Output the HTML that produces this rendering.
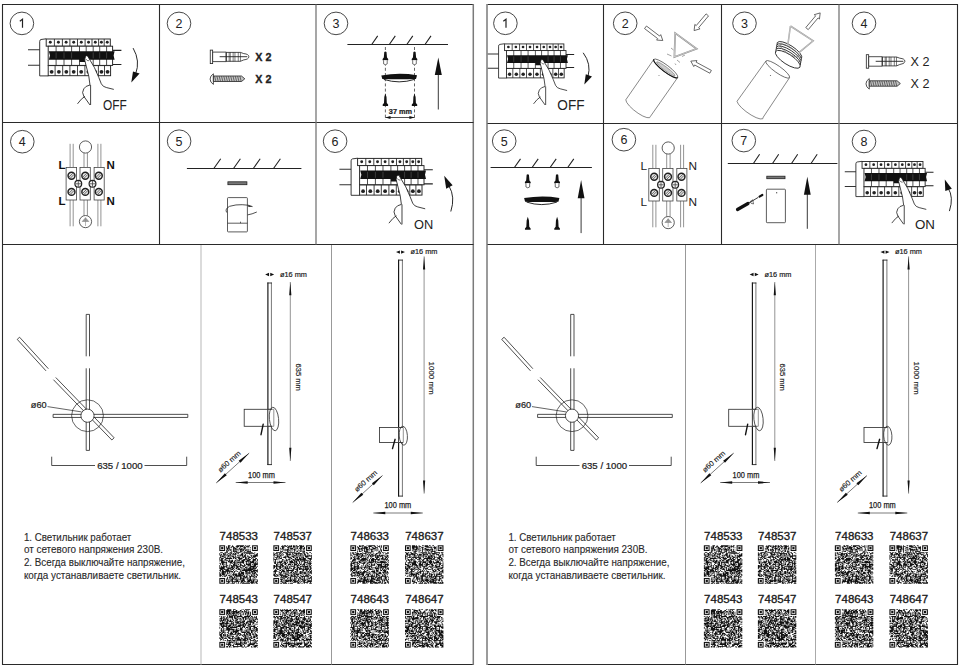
<!DOCTYPE html>
<html><head><meta charset="utf-8">
<style>html,body{margin:0;padding:0;background:#fff;width:960px;height:668px;overflow:hidden}svg{display:block;font-family:"Liberation Sans",sans-serif}</style></head><body>
<svg font-family="Liberation Sans, sans-serif" width="960" height="668" viewBox="0 0 960 668">
<defs>
<g id="brk"><path d="M-11.4,10.4H0.8M-11.4,25.9H0.8" stroke="#333" stroke-width="1.1" fill="none"/>
<path d="M73.2,11H82M73.2,25.1H82" stroke="#222" stroke-width="1.1" fill="none"/>
<path d="M6.8,-0.6L1.6,0.1Q0.3,0.4 0.3,2V36.5H9" fill="#fff" stroke="#222" stroke-width="0.9"/>
<rect x="6.8" y="-0.4" width="64.1" height="7.2" fill="#fff" stroke="#222" stroke-width="0.95"/>
<path d="M15,-0.4V6.8" stroke="#222" stroke-width="0.85"/>
<path d="M23,-0.4V6.8" stroke="#222" stroke-width="0.85"/>
<path d="M30.5,-0.4V6.8" stroke="#222" stroke-width="0.85"/>
<path d="M38.1,-0.4V6.8" stroke="#222" stroke-width="0.85"/>
<path d="M45.7,-0.4V6.8" stroke="#222" stroke-width="0.85"/>
<path d="M52.6,-0.4V6.8" stroke="#222" stroke-width="0.85"/>
<path d="M59.2,-0.4V6.8" stroke="#222" stroke-width="0.85"/>
<path d="M64.8,-0.4V6.8" stroke="#222" stroke-width="0.85"/>
<circle cx="10.9" cy="2.9" r="1.45" fill="#222"/>
<circle cx="19" cy="2.9" r="1.45" fill="#222"/>
<circle cx="26.75" cy="2.9" r="1.45" fill="#222"/>
<circle cx="34.3" cy="2.9" r="1.45" fill="#222"/>
<circle cx="41.9" cy="2.9" r="1.45" fill="#222"/>
<circle cx="49.15" cy="2.9" r="1.45" fill="#222"/>
<circle cx="55.9" cy="2.9" r="1.45" fill="#222"/>
<circle cx="62" cy="2.9" r="1.45" fill="#222"/>
<circle cx="67.85" cy="2.9" r="1.45" fill="#222"/>
<rect x="8.8" y="6.8" width="64.4" height="19.2" fill="#fff" stroke="#222" stroke-width="0.95"/>
<path d="M16.7,6.8V26" stroke="#222" stroke-width="0.8"/>
<path d="M24.6,6.8V26" stroke="#222" stroke-width="0.8"/>
<path d="M32.2,6.8V26" stroke="#222" stroke-width="0.8"/>
<path d="M40.1,6.8V26" stroke="#222" stroke-width="0.8"/>
<path d="M46.8,6.8V26" stroke="#222" stroke-width="0.8"/>
<path d="M53.8,6.8V26" stroke="#222" stroke-width="0.8"/>
<path d="M60.3,6.8V26" stroke="#222" stroke-width="0.8"/>
<path d="M67.2,6.8V26" stroke="#222" stroke-width="0.8"/>
<path d="M9.4,11.8H75.2L74.2,16L75.2,20.3H46.8V22.6H40.1V20.3H9.4L10.6,16Z" fill="#111"/>
<path d="M16.7,13V19M24.6,13V19M32.2,13V19M53.8,13V19M60.3,13V19M67.2,13V19" stroke="#666" stroke-width="0.5"/>
<rect x="8.8" y="26.2" width="62.4" height="10.1" fill="#fff" stroke="#222" stroke-width="0.95"/>
<path d="M15.7,26.2V36.3" stroke="#222" stroke-width="0.85"/>
<path d="M23.3,26.2V36.3" stroke="#222" stroke-width="0.85"/>
<path d="M30.5,26.2V36.3" stroke="#222" stroke-width="0.85"/>
<path d="M38.1,26.2V36.3" stroke="#222" stroke-width="0.85"/>
<path d="M45.5,26.2V36.3" stroke="#222" stroke-width="0.85"/>
<path d="M52.5,26.2V36.3" stroke="#222" stroke-width="0.85"/>
<path d="M59,26.2V36.3" stroke="#222" stroke-width="0.85"/>
<path d="M65.1,26.2V36.3" stroke="#222" stroke-width="0.85"/>
<circle cx="12.25" cy="32.4" r="1.9" fill="#222"/>
<circle cx="19.5" cy="32.4" r="1.9" fill="#222"/>
<circle cx="26.9" cy="32.4" r="1.9" fill="#222"/>
<circle cx="34.3" cy="32.4" r="1.9" fill="#222"/>
<circle cx="41.8" cy="32.4" r="1.9" fill="#222"/>
<circle cx="49" cy="32.4" r="1.9" fill="#222"/>
<circle cx="55.75" cy="32.4" r="1.9" fill="#222"/>
<circle cx="62.05" cy="32.4" r="1.9" fill="#222"/>
<circle cx="68.15" cy="32.4" r="1.9" fill="#222"/>
<path d="M45.3,20.6Q45.6,16.6 47.2,16.3Q48.6,16.3 49.4,18.7L55,28.1L59.4,38.1L61.9,44.4L51,46L49.4,36.9Z" fill="#fff" stroke="none"/>
<path d="M45.3,20.6Q45.6,16.6 47.2,16.3Q48.6,16.3 49.4,18.7L55,28.1L59.4,38.1L61.9,44.4Q63.5,47.5 66.9,48.1L74.4,50" fill="none" stroke="#111" stroke-width="0.8"/>
<path d="M45.3,20.6L49.4,36.9L50.6,45.6Q46,46.5 44.4,49.4Q42,53 44.4,56.9L50.6,65.6M38.1,64.4Q42,59 45.6,56.9M51.2,45.6V65.6" fill="none" stroke="#111" stroke-width="0.8"/>
<path d="M46.4,19.6Q47.6,21.8 49.6,21.3" fill="none" stroke="#111" stroke-width="0.6"/></g>
</defs>
<rect width="960" height="668" fill="#fff"/>
<g fill="none" stroke="#2a2a2a" stroke-width="1.1">
  <path d="M473.5,4.5H2.5V664.5H473.5"/>
  <line x1="473.3" y1="4" x2="473.3" y2="665" stroke="#7a7a7a" stroke-width="1.5"/>
  <line x1="2.5" y1="122.5" x2="473.5" y2="122.5"/>
  <line x1="2.5" y1="244.5" x2="473.5" y2="244.5"/>
  <line x1="159.5" y1="4.5" x2="159.5" y2="244.5"/>
  <line x1="316" y1="4.5" x2="316" y2="244.5" stroke="#777" stroke-width="1.3"/>
  <path d="M487.5,4.5H957.5V664.5H487.5"/>
  <line x1="487" y1="4" x2="487" y2="665" stroke="#7a7a7a" stroke-width="1.5"/>
  <line x1="487.5" y1="123.5" x2="957.5" y2="123.5"/>
  <line x1="487.5" y1="244.5" x2="957.5" y2="244.5"/>
  <line x1="603.5" y1="4.5" x2="603.5" y2="244.5"/>
  <line x1="721.5" y1="4.5" x2="721.5" y2="244.5"/>
  <line x1="839" y1="4.5" x2="839" y2="244.5" stroke="#777" stroke-width="1.3"/>
</g>
<g fill="none" stroke-width="1">
  <line x1="201" y1="245" x2="201" y2="664.5" stroke="#c8c8c8" stroke-width="1.3"/>
  <line x1="331.5" y1="245" x2="331.5" y2="664.5" stroke="#999"/>
  <line x1="685.5" y1="245" x2="685.5" y2="664.5" stroke="#999"/>
  <line x1="815.5" y1="245" x2="815.5" y2="664.5" stroke="#aaa"/>
</g>
<g fill="none" stroke="#333" stroke-width="0.9">
<ellipse cx="21.9" cy="23.4" rx="11.8" ry="11.3"/>
<ellipse cx="179" cy="23.4" rx="11.8" ry="11.3"/>
<ellipse cx="336" cy="23.4" rx="11.8" ry="11.3"/>
<ellipse cx="22.3" cy="141.7" rx="11.8" ry="11.3"/>
<ellipse cx="179.1" cy="141.2" rx="11.8" ry="11.3"/>
<ellipse cx="335.1" cy="141.2" rx="11.8" ry="11.3"/>
<ellipse cx="505.4" cy="23.3" rx="11.8" ry="11.3"/>
<ellipse cx="625.2" cy="23.3" rx="11.8" ry="11.3"/>
<ellipse cx="744.5" cy="23.3" rx="11.8" ry="11.3"/>
<ellipse cx="864" cy="23.3" rx="11.8" ry="11.3"/>
<ellipse cx="504.2" cy="141.1" rx="11.8" ry="11.3"/>
<ellipse cx="623.9" cy="139.7" rx="11.8" ry="11.3"/>
<ellipse cx="743.8" cy="140.6" rx="11.8" ry="11.3"/>
<ellipse cx="864" cy="141.5" rx="11.8" ry="11.3"/>
</g>
<g fill="#222" font-size="12.5" text-anchor="middle">
<path d="M22.5,27.8V19.3L19.8,21.3" fill="none" stroke="#222" stroke-width="1.2"/>
<text x="179" y="27.8">2</text>
<text x="336" y="27.8">3</text>
<text x="22.3" y="146.1">4</text>
<text x="179.1" y="145.6">5</text>
<text x="335.1" y="145.6">6</text>
<path d="M506,27.7V19.2L503.3,21.2" fill="none" stroke="#222" stroke-width="1.2"/>
<text x="625.2" y="27.7">2</text>
<text x="744.5" y="27.7">3</text>
<text x="864" y="27.7">4</text>
<text x="504.2" y="145.5">5</text>
<text x="623.9" y="144.1">6</text>
<text x="743.8" y="145">7</text>
<text x="864" y="145.9">8</text>
</g>
<use href="#brk" transform="translate(39.4,39.4)"/>
<use href="#brk" transform="translate(350.8,158.8)"/>
<use href="#brk" transform="translate(498.3,44.3) scale(0.925)"/>
<use href="#brk" transform="translate(855.6,161.9) scale(0.95)"/>
<path d="M133.1,48.1Q140.5,61 135.6,74" fill="none" stroke="#111" stroke-width="0.9"/>
<path d="M131.3,82.6L133,71.4L139.6,73.6Z" fill="#111"/>
<text x="103.1" y="109.6" font-size="14" textLength="23.8" lengthAdjust="spacingAndGlyphs" fill="#222">OFF</text>
<path d="M450.8,211.5Q455.5,197 449,186" fill="none" stroke="#111" stroke-width="0.9"/>
<path d="M444.2,175.7L452.6,185.2L446.2,188.8Z" fill="#111"/>
<text x="414" y="229.4" font-size="13.7" textLength="19.2" lengthAdjust="spacingAndGlyphs" fill="#222">ON</text>
<path d="M583.2,52.8Q591.5,64 588,76.5" fill="none" stroke="#111" stroke-width="0.9"/>
<path d="M584.3,84.4L585.8,74.3L592,76.4Z" fill="#111"/>
<text x="557.3" y="110" font-size="14" textLength="27.2" lengthAdjust="spacingAndGlyphs" fill="#222">OFF</text>
<path d="M949.4,211.1Q954,197 948,188" fill="none" stroke="#111" stroke-width="0.9"/>
<path d="M944.8,179.6L951.8,188.8L945.3,191Z" fill="#111"/>
<text x="915" y="228.8" font-size="13.5" textLength="20" lengthAdjust="spacingAndGlyphs" fill="#222">ON</text>
<g transform="translate(210.25,50.1) scale(1)" fill="#fff" stroke="#222" stroke-width="0.8"><rect x="0" y="0" width="2.4" height="13.5"/><path d="M2.4,2H16V11.5H2.4Z"/><path d="M16,2.3H30.2L33.5,3.5Q38.6,4 38.6,6.6Q38.6,9.2 33.5,9.8L30.2,11.2H16Z"/><path d="M16,2.3V11.2M18.9,2.3V11.2M20,2.1V11.4M22.9,2.1V11.4M24.7,2.3V11.2M28,2.3V11.2M30.2,2.3V11.2" fill="none" stroke-width="0.6"/><path d="M9.4,6.6H37" stroke-width="0.9" fill="none"/></g>
<g transform="translate(210.1,73.8) scale(1)" stroke="#222" stroke-width="0.8"><path d="M3.3,0Q0,2 0,5.3Q0,8.6 3.3,10.6Z" fill="#fff"/><path d="M3.3,2.2H31.4L34.7,5L31.4,7.7H3.3Z" fill="#c4c4c4"/><path d="M4.5,2.4L5.8,7.5M6.8,2.4L8.1,7.5M9.1,2.4L10.4,7.5M11.4,2.4L12.7,7.5M13.7,2.4L15,7.5M16,2.4L17.3,7.5M18.3,2.4L19.6,7.5M20.6,2.4L21.9,7.5M22.9,2.4L24.2,7.5M25.2,2.4L26.5,7.5M27.5,2.4L28.8,7.5M29.8,2.4L31.1,7.5" stroke="#222" stroke-width="0.6" fill="none"/></g>
<text x="255.3" y="60.7" font-size="11" textLength="16.2" lengthAdjust="spacingAndGlyphs" font-weight="bold" fill="#222" stroke="#222" stroke-width="0.3">X 2</text>
<text x="255.3" y="82.6" font-size="11" textLength="16.2" lengthAdjust="spacingAndGlyphs" font-weight="bold" fill="#222" stroke="#222" stroke-width="0.3">X 2</text>
<g transform="translate(866.3,54.7) scale(1)" fill="#fff" stroke="#222" stroke-width="0.8"><rect x="0" y="0" width="2.4" height="13.5"/><path d="M2.4,2H16V11.5H2.4Z"/><path d="M16,2.3H30.2L33.5,3.5Q38.6,4 38.6,6.6Q38.6,9.2 33.5,9.8L30.2,11.2H16Z"/><path d="M16,2.3V11.2M18.9,2.3V11.2M20,2.1V11.4M22.9,2.1V11.4M24.7,2.3V11.2M28,2.3V11.2M30.2,2.3V11.2" fill="none" stroke-width="0.6"/><path d="M9.4,6.6H37" stroke-width="0.9" fill="none"/></g>
<g transform="translate(866,78.6) scale(0.99)" stroke="#222" stroke-width="0.8"><path d="M3.3,0Q0,2 0,5.3Q0,8.6 3.3,10.6Z" fill="#fff"/><path d="M3.3,2.2H31.4L34.7,5L31.4,7.7H3.3Z" fill="#c4c4c4"/><path d="M4.5,2.4L5.8,7.5M6.8,2.4L8.1,7.5M9.1,2.4L10.4,7.5M11.4,2.4L12.7,7.5M13.7,2.4L15,7.5M16,2.4L17.3,7.5M18.3,2.4L19.6,7.5M20.6,2.4L21.9,7.5M22.9,2.4L24.2,7.5M25.2,2.4L26.5,7.5M27.5,2.4L28.8,7.5M29.8,2.4L31.1,7.5" stroke="#222" stroke-width="0.6" fill="none"/></g>
<text x="910.6" y="65.7" font-size="12.8" textLength="18.9" lengthAdjust="spacingAndGlyphs" fill="#222">X 2</text>
<text x="910.6" y="87.7" font-size="12.8" textLength="18.9" lengthAdjust="spacingAndGlyphs" fill="#222">X 2</text>
<path d="M347.4,44.5H448M371.7,44.5L377.7,35.9M389.3,44.5L395.3,35.9M406.8,44.5L412.8,35.9M425,44.5L431,35.9" fill="none" stroke="#222" stroke-width="1.1"/>
<path d="M186.9,168.5H301.4M213.8,168.5L220.7,158.7M233.5,168.5L240.4,158.7M253.3,168.5L260.2,158.7M273.5,168.5L280.4,158.7" fill="none" stroke="#222" stroke-width="1.1"/>
<path d="M490.6,167.5H591.9M514.4,167.5L520.5,158.9M532.1,167.5L538.2,158.9M550.1,167.5L556.2,158.9M567.7,167.5L573.8,158.9" fill="none" stroke="#222" stroke-width="1.1"/>
<path d="M727.8,163.5H837.4M753.4,163.5L759.6,154.3M772.5,163.5L778.7,154.3M791.5,163.5L797.7,154.3M811,163.5L817.2,154.3" fill="none" stroke="#222" stroke-width="1.1"/>
<path d="M385.4,47V120M414.5,47V120" fill="none" stroke="#222" stroke-width="0.7" stroke-dasharray="3,2.2"/>
<g transform="translate(385.4,51.3) scale(1)"><path d="M-1.1,0.8Q0,-0.4 1.1,0.8L1.6,6.2L2.8,7.7V8.9H-2.8V7.7L-1.6,6.2Z" fill="#111"/><path d="M-1.8,8.9V12.6Q0,14.3 1.8,12.6V8.9" fill="#fff" stroke="#333" stroke-width="0.7"/></g>
<g transform="translate(414.5,51.3) scale(1)"><path d="M-1.1,0.8Q0,-0.4 1.1,0.8L1.6,6.2L2.8,7.7V8.9H-2.8V7.7L-1.6,6.2Z" fill="#111"/><path d="M-1.8,8.9V12.6Q0,14.3 1.8,12.6V8.9" fill="#fff" stroke="#333" stroke-width="0.7"/></g>
<path d="M381.3,75.4Q399.15,72.4 417,75.2L416,79Q399.15,80 382.3,79Z" fill="#111"/>
<path d="M383.8,79.4Q399.15,84.3 414.5,79.4" fill="#fff" stroke="#111" stroke-width="0.9"/>
<g transform="translate(385.4,93.4) scale(1)"><path d="M0,0L1.1,3.5L1.4,9.5L2.7,11.2V12.5H-2.7V11.2L-1.4,9.5L-1.1,3.5Z" fill="#111"/></g>
<g transform="translate(414.5,93.4) scale(1)"><path d="M0,0L1.1,3.5L1.4,9.5L2.7,11.2V12.5H-2.7V11.2L-1.4,9.5L-1.1,3.5Z" fill="#111"/></g>
<text x="388.8" y="113.8" font-size="7.4" textLength="23.3" lengthAdjust="spacingAndGlyphs" font-weight="bold" fill="#222" stroke="#222" stroke-width="0.2">37 mm</text>
<path d="M385.4,117.5H414.5" stroke="#222" stroke-width="0.8"/>
<path d="M385.4,117.5L390.5,116V119ZM414.5,117.5L409.4,116V119Z" fill="#111"/>
<path d="M438.3,74V109.5" stroke="#222" stroke-width="0.9"/>
<path d="M438.3,57.5L441.8,75H434.8Z" fill="#111"/>
<g transform="translate(527.8,174) scale(1.03)"><path d="M-1.1,0.8Q0,-0.4 1.1,0.8L1.6,6.2L2.8,7.7V8.9H-2.8V7.7L-1.6,6.2Z" fill="#111"/><path d="M-1.8,8.9V12.6Q0,14.3 1.8,12.6V8.9" fill="#fff" stroke="#333" stroke-width="0.7"/></g>
<g transform="translate(557.1,174) scale(1.03)"><path d="M-1.1,0.8Q0,-0.4 1.1,0.8L1.6,6.2L2.8,7.7V8.9H-2.8V7.7L-1.6,6.2Z" fill="#111"/><path d="M-1.8,8.9V12.6Q0,14.3 1.8,12.6V8.9" fill="#fff" stroke="#333" stroke-width="0.7"/></g>
<path d="M524.1,198.1Q541.75,195.1 559.4,197.9L558.4,201.7Q541.75,202.7 525.1,201.7Z" fill="#111"/>
<path d="M526.6,202.1Q541.75,207.1 556.9,202.1" fill="#fff" stroke="#111" stroke-width="0.9"/>
<g transform="translate(527.8,216.7) scale(1.05)"><path d="M0,0L1.1,3.5L1.4,9.5L2.7,11.2V12.5H-2.7V11.2L-1.4,9.5L-1.1,3.5Z" fill="#111"/></g>
<g transform="translate(557.1,216.7) scale(1.05)"><path d="M0,0L1.1,3.5L1.4,9.5L2.7,11.2V12.5H-2.7V11.2L-1.4,9.5L-1.1,3.5Z" fill="#111"/></g>
<path d="M581.1,196V233.1" stroke="#222" stroke-width="0.9"/>
<path d="M581.1,180L584.5,198.2H577.7Z" fill="#111"/>
<g transform="translate(0,0)"><path d="M70.1,143.8V167.4M73.2,143.8V167.4M97.9,143.8V167.4M100.9,143.8V167.4M84,153V167.4M87.4,153V167.4M70.1,200V226.3M73.2,200V226.3M97.9,200V226.3M100.9,200V226.3M84,200V215.6M87.4,200V215.6" stroke="#777" stroke-width="0.8" fill="none"/><circle cx="85.5" cy="147" r="6.1" fill="#fff" stroke="#333" stroke-width="0.8"/><circle cx="85.5" cy="221.6" r="6.1" fill="#fff" stroke="#333" stroke-width="0.8"/><path d="M85.5,217.5V226M82.2,221.5L85.5,217.8L88.8,221.5Z" fill="#999" stroke="#888" stroke-width="0.6"/><rect x="66.1" y="167.4" width="10.5" height="32.6" fill="#fff" stroke="#444" stroke-width="0.8"/><rect x="80" y="167.4" width="10.3" height="32.6" fill="#fff" stroke="#444" stroke-width="0.8"/><rect x="94.1" y="167.4" width="10.1" height="32.6" fill="#fff" stroke="#444" stroke-width="0.8"/><circle cx="71.5" cy="175.8" r="3.45" fill="#e6e6e6" stroke="#222" stroke-width="1.5"/><path d="M68.9,177.2L72.9,173.2M70.1,178.4L74.1,174.4" stroke="#333" stroke-width="0.7"/><circle cx="71.5" cy="191.9" r="3.45" fill="#e6e6e6" stroke="#222" stroke-width="1.5"/><path d="M68.9,193.3L72.9,189.3M70.1,194.5L74.1,190.5" stroke="#333" stroke-width="0.7"/><circle cx="85.3" cy="175.8" r="3.45" fill="#e6e6e6" stroke="#222" stroke-width="1.5"/><path d="M82.7,177.2L86.7,173.2M83.9,178.4L87.9,174.4" stroke="#333" stroke-width="0.7"/><circle cx="85.3" cy="191.9" r="3.45" fill="#e6e6e6" stroke="#222" stroke-width="1.5"/><path d="M82.7,193.3L86.7,189.3M83.9,194.5L87.9,190.5" stroke="#333" stroke-width="0.7"/><circle cx="98.8" cy="175.8" r="3.45" fill="#e6e6e6" stroke="#222" stroke-width="1.5"/><path d="M96.2,177.2L100.2,173.2M97.4,178.4L101.4,174.4" stroke="#333" stroke-width="0.7"/><circle cx="98.8" cy="191.9" r="3.45" fill="#e6e6e6" stroke="#222" stroke-width="1.5"/><path d="M96.2,193.3L100.2,189.3M97.4,194.5L101.4,190.5" stroke="#333" stroke-width="0.7"/><circle cx="78.3" cy="183.8" r="3.4" fill="#f4f4f4" stroke="#222" stroke-width="1.2"/><path d="M75.7,183.8H80.9M78.3,181V186.6" stroke="#444" stroke-width="0.8"/><circle cx="92.5" cy="183.8" r="3.4" fill="#f4f4f4" stroke="#222" stroke-width="1.2"/><path d="M89.9,183.8H95.1M92.5,181V186.6" stroke="#444" stroke-width="0.8"/></g>
<g font-weight="bold" font-size="11.5" fill="#111"><text x="58.4" y="169">L</text><text x="58.4" y="204.5">L</text><text x="106.4" y="169">N</text><text x="106.4" y="204.5">N</text></g>
<g transform="translate(582.7,1)"><path d="M70.1,143.8V167.4M73.2,143.8V167.4M97.9,143.8V167.4M100.9,143.8V167.4M84,153V167.4M87.4,153V167.4M70.1,200V226.3M73.2,200V226.3M97.9,200V226.3M100.9,200V226.3M84,200V215.6M87.4,200V215.6" stroke="#777" stroke-width="0.8" fill="none"/><circle cx="85.5" cy="147" r="6.1" fill="#fff" stroke="#333" stroke-width="0.8"/><circle cx="85.5" cy="221.6" r="6.1" fill="#fff" stroke="#333" stroke-width="0.8"/><path d="M85.5,217.5V226M82.2,221.5L85.5,217.8L88.8,221.5Z" fill="#999" stroke="#888" stroke-width="0.6"/><rect x="66.1" y="167.4" width="10.5" height="32.6" fill="#fff" stroke="#444" stroke-width="0.8"/><rect x="80" y="167.4" width="10.3" height="32.6" fill="#fff" stroke="#444" stroke-width="0.8"/><rect x="94.1" y="167.4" width="10.1" height="32.6" fill="#fff" stroke="#444" stroke-width="0.8"/><circle cx="71.5" cy="175.8" r="3.45" fill="#e6e6e6" stroke="#222" stroke-width="1.5"/><path d="M68.9,177.2L72.9,173.2M70.1,178.4L74.1,174.4" stroke="#333" stroke-width="0.7"/><circle cx="71.5" cy="191.9" r="3.45" fill="#e6e6e6" stroke="#222" stroke-width="1.5"/><path d="M68.9,193.3L72.9,189.3M70.1,194.5L74.1,190.5" stroke="#333" stroke-width="0.7"/><circle cx="85.3" cy="175.8" r="3.45" fill="#e6e6e6" stroke="#222" stroke-width="1.5"/><path d="M82.7,177.2L86.7,173.2M83.9,178.4L87.9,174.4" stroke="#333" stroke-width="0.7"/><circle cx="85.3" cy="191.9" r="3.45" fill="#e6e6e6" stroke="#222" stroke-width="1.5"/><path d="M82.7,193.3L86.7,189.3M83.9,194.5L87.9,190.5" stroke="#333" stroke-width="0.7"/><circle cx="98.8" cy="175.8" r="3.45" fill="#e6e6e6" stroke="#222" stroke-width="1.5"/><path d="M96.2,177.2L100.2,173.2M97.4,178.4L101.4,174.4" stroke="#333" stroke-width="0.7"/><circle cx="98.8" cy="191.9" r="3.45" fill="#e6e6e6" stroke="#222" stroke-width="1.5"/><path d="M96.2,193.3L100.2,189.3M97.4,194.5L101.4,190.5" stroke="#333" stroke-width="0.7"/><circle cx="78.3" cy="183.8" r="3.4" fill="#f4f4f4" stroke="#222" stroke-width="1.2"/><path d="M75.7,183.8H80.9M78.3,181V186.6" stroke="#444" stroke-width="0.8"/><circle cx="92.5" cy="183.8" r="3.4" fill="#f4f4f4" stroke="#222" stroke-width="1.2"/><path d="M89.9,183.8H95.1M92.5,181V186.6" stroke="#444" stroke-width="0.8"/></g>
<g font-size="11.8" fill="#222"><text x="640.6" y="170">L</text><text x="640.6" y="205.6">L</text><text x="688.6" y="170">N</text><text x="688.6" y="205.6">N</text></g>
<rect x="227.9" y="181.8" width="19" height="2.9" fill="#777" stroke="#222" stroke-width="0.8"/>
<rect x="227.5" y="197.6" width="19.9" height="34.3" rx="0.8" fill="#fff" stroke="#333" stroke-width="0.8"/>
<path d="M227.5,223.2H247.4M240.5,221.7V223.2" stroke="#333" stroke-width="0.8" fill="none"/>
<path d="M226.7,212.5Q224.6,209 229.6,206.3Q236,204.4 242.2,204.7Q249,204.8 252.5,206.6" fill="none" stroke="#222" stroke-width="0.8"/>
<path d="M247.6,214.9Q252,214.2 256.8,212" fill="none" stroke="#222" stroke-width="0.8"/>
<path d="M248,205.2L252.6,206.6L248.5,207Z" fill="#222"/>
<rect x="766.8" y="176.2" width="18.2" height="2.5" fill="#777" stroke="#222" stroke-width="0.8"/>
<rect x="766.4" y="189.2" width="19" height="33.5" rx="0.8" fill="#fff" stroke="#333" stroke-width="0.8"/>
<path d="M776.7,192V193.4" stroke="#222" stroke-width="0.8"/>
<path d="M737.5,209.5L748,203.5" stroke="#111" stroke-width="3.2" stroke-linecap="round"/>
<path d="M748,203.5L758,197.5" stroke="#222" stroke-width="0.9"/>
<path d="M750.2,201.5L752.8,199.8L753.5,204L751,203.2Z" fill="none" stroke="#222" stroke-width="0.6"/>
<path d="M759.5,196.6L762.3,195" stroke="#111" stroke-width="2.2" stroke-linecap="round"/>
<path d="M807.3,193V228.8" stroke="#222" stroke-width="0.9"/>
<path d="M807.3,176.8L810.7,194.8H803.9Z" fill="#111"/>
<polygon points="646.47,26.03 659.64,36.07 660.73,34.64 662.8,40.5 656.6,40.05 657.7,38.62 644.53,28.57" fill="#fff" stroke="#444" stroke-width="0.8" stroke-linejoin="miter"/>
<polygon points="708.52,15.93 698.67,27.65 700.05,28.81 694.1,30.6 694.84,24.43 696.22,25.59 706.08,13.87" fill="#fff" stroke="#444" stroke-width="0.8" stroke-linejoin="miter"/>
<polygon points="709.84,73.21 694.61,64.98 693.76,66.56 690.8,61.1 696.99,60.58 696.14,62.16 711.36,70.39" fill="#fff" stroke="#444" stroke-width="0.8" stroke-linejoin="miter"/>
<polygon points="805.78,27.57 815.63,15.85 814.25,14.69 820.2,12.9 819.46,19.07 818.08,17.91 808.22,29.63" fill="#fff" stroke="#444" stroke-width="0.8" stroke-linejoin="miter"/>
<path d="M653.8,59.4L625.8,99.8A14.85,4.2 37.14 0 0 650.5,116.3L677.7,77.5" fill="#fff" stroke="#555" stroke-width="0.7"/>
<ellipse cx="665.75" cy="68.45" rx="14.99" ry="3.4" transform="rotate(37.14 665.75 68.45)" fill="#fff" stroke="#444" stroke-width="0.7"/>
<path d="M677.7,77.5A14.99,3.4 37.14 0 1 653.8,59.4" fill="none" stroke="#111" stroke-width="1.1"/>
<ellipse cx="666.05" cy="68.75" rx="11.49" ry="1.8" transform="rotate(37.14 665.75 68.45)" fill="#ccc" stroke="#777" stroke-width="0.6"/>
<circle cx="659" cy="75.5" r="0.6" fill="#888"/>
<path d="M675.2,33.1L696.6,48.7L674.4,57Z" fill="none" stroke="#888" stroke-width="1.7"/>
<path d="M675.2,33.1L696.6,48.7L674.4,57Z" fill="none" stroke="#fff" stroke-width="0.5"/>
<path d="M671,48L673.5,50M667,54L671.5,56M677,60L680,62.5M682,56.5L685,55M675,63.5L676,65" stroke="#999" stroke-width="0.9"/>
<path d="M765.9,61L737,101.3A15.34,4.2 35.28 0 0 763.3,117.1L789.5,77.7" fill="#fff" stroke="#555" stroke-width="0.7"/>
<ellipse cx="777.7" cy="69.35" rx="14.46" ry="3.4" transform="rotate(35.28 777.7 69.35)" fill="#fff" stroke="#444" stroke-width="0.7"/>
<circle cx="770.5" cy="75.5" r="0.6" fill="#666"/>
<ellipse cx="789.4" cy="50.5" rx="14.5" ry="5" transform="rotate(33 789.4 50.5)" fill="#fff" stroke="#333" stroke-width="0.9"/>
<ellipse cx="789" cy="52.7" rx="14.5" ry="5" transform="rotate(33 789 52.7)" fill="#fff" stroke="#333" stroke-width="0.9"/>
<ellipse cx="788.6" cy="54.9" rx="14.5" ry="5" transform="rotate(33 788.6 54.9)" fill="#fff" stroke="#333" stroke-width="0.9"/>
<ellipse cx="788.2" cy="57.1" rx="14.5" ry="5" transform="rotate(33 788.2 57.1)" fill="#fff" stroke="#333" stroke-width="0.9"/>
<ellipse cx="787.8" cy="59.3" rx="14.5" ry="5" transform="rotate(33 787.8 59.3)" fill="#fff" stroke="#333" stroke-width="0.9"/>
<ellipse cx="789.4" cy="50.5" rx="11" ry="3.2" transform="rotate(33 789.4 50.5)" fill="none" stroke="#666" stroke-width="0.6"/>
<path d="M790.4,26L813.2,40.9L799.2,52.3M790.4,26L787.8,45.3" fill="none" stroke="#999" stroke-width="1.5"/>
<path d="M790.4,26L813.2,40.9L799.2,52.3M790.4,26L787.8,45.3" fill="none" stroke="#fff" stroke-width="0.4"/>
<g id="bottom"><g fill="none" stroke="#222" stroke-width="0.8">
<path d="M86.2,314.4L86.2,356.3M89.5,314.4L89.5,356.3M86.2,314.4L89.5,314.4"/>
<path d="M86.2,368.3L86.2,450.4M89.5,368.3L89.5,450.4M86.2,450.4L89.5,450.4"/>
<path d="M53.1,417.45L187.8,417.45M53.1,414.35L187.8,414.35M53.1,417.45L53.1,414.35M187.8,417.45L187.8,414.35"/>
<path d="M17.22,339.38L46.02,370.88M19.58,337.22L48.38,368.72M17.22,339.38L19.58,337.22"/>
<path d="M53.45,379.71L111.85,440.01M55.75,377.49L114.15,437.79M111.85,440.01L114.15,437.79"/>
</g>
<circle cx="87.5" cy="415.7" r="15.9" fill="none" stroke="#222" stroke-width="0.7"/>
<circle cx="87.5" cy="415.7" r="6.6" fill="#fff" stroke="#222" stroke-width="0.8"/>
<path d="M47.5,406.6L81.5,411.9" stroke="#222" stroke-width="0.7"/>
<text x="30.8" y="408.4" font-size="8.3" fill="#222" stroke="#222" stroke-width="0.2" textLength="15.8" lengthAdjust="spacingAndGlyphs">ø60</text>
<path d="M51.7,456.7V465.5H95M144.5,465.5H186.7V456.7" fill="none" stroke="#222" stroke-width="0.8"/>
<text x="97.2" y="468.6" font-size="8.3" fill="#222" stroke="#222" stroke-width="0.2" textLength="45.4" lengthAdjust="spacingAndGlyphs">635 / 1000</text>
<path d="M267.9,282.6V465" stroke="#111" stroke-width="1.15"/>
<path d="M271.4,282.6V465" stroke="#777" stroke-width="1"/>
<path d="M267.4,283H271.9M267.4,464.6H271.9" stroke="#222" stroke-width="0.9"/>
<rect x="244.2" y="409.3" width="23.7" height="17" fill="#fff" stroke="#333" stroke-width="0.85"/>
<path d="M267.9,409.3H273.8V426.3H267.9" fill="#fff" stroke="#777" stroke-width="0.8"/>
<path d="M267.9,409.3H271.9M267.9,426.3H271.9M267.9,409.3V426.3" stroke="#333" stroke-width="0.85"/>
<ellipse cx="274" cy="419" rx="4.6" ry="11.8" transform="rotate(-6 274 419)" fill="none" stroke="#333" stroke-width="0.8"/>
<path d="M261,434.7L263.2,424.2" stroke="#111" stroke-width="1.4" stroke-linecap="round"/>
<path d="M265.15,274.5L269.05,272.8V276.2ZM274.15,274.5L270.25,272.8V276.2Z" fill="#111"/>
<text x="280" y="276.7" font-size="7.7" fill="#222" stroke="#222" stroke-width="0.2" textLength="26.9" lengthAdjust="spacingAndGlyphs">ø16 mm</text>
<path d="M290.3,282V461" stroke="#666" stroke-width="0.7"/>
<path d="M290.3,282l1.1,13.2h-2.2zM290.3,461l1.1,-13.2h-2.2z" fill="#111"/>
<text transform="translate(295.6,363.5) rotate(90)" font-size="7.3" fill="#222" stroke="#222" stroke-width="0.15" textLength="27.4" lengthAdjust="spacingAndGlyphs">635 mm</text>
<path d="M216.2,483L249.2,453.1" stroke="#222" stroke-width="0.6"/>
<g transform="translate(216.2,483) rotate(-42.18)"><path d="M0,0L13,-1.4V1.4Z M44.53,0L31.53,-1.4V1.4Z" fill="#111"/><text x="10" y="-4.8" font-size="7.3" fill="#222" stroke="#222" stroke-width="0.15" textLength="28" lengthAdjust="spacingAndGlyphs">ø60 mm</text></g>
<path d="M235.7,482.5H285.5" stroke="#222" stroke-width="0.6"/>
<path d="M235.7,482.5l12,-1.3v2.6zM285.5,482.5l-12,-1.3v2.6z" fill="#111"/>
<text x="248.1" y="478.2" font-size="8.6" fill="#222" stroke="#222" stroke-width="0.25" textLength="26.7" lengthAdjust="spacingAndGlyphs">100 mm</text>
<path d="M398.6,259.7V496.5" stroke="#111" stroke-width="1.15"/>
<path d="M402.4,259.7V496.5" stroke="#777" stroke-width="1"/>
<path d="M398.1,260.1H402.9M398.1,496.1H402.9" stroke="#222" stroke-width="0.9"/>
<rect x="379.5" y="427.5" width="19.1" height="15" fill="#fff" stroke="#333" stroke-width="0.85"/>
<path d="M398.6,427.5H403.3V442.5H398.6" fill="#fff" stroke="#777" stroke-width="0.8"/>
<path d="M398.6,427.5H402.9M398.6,442.5H402.9M398.6,427.5V442.5" stroke="#333" stroke-width="0.85"/>
<ellipse cx="403.3" cy="435.7" rx="4.1" ry="9.5" transform="rotate(-4 403.3 435.7)" fill="none" stroke="#333" stroke-width="0.8"/>
<path d="M392.5,448.6L395.1,439.3" stroke="#111" stroke-width="1.4" stroke-linecap="round"/>
<path d="M396,252.1L399.9,250.4V253.8ZM405,252.1L401.1,250.4V253.8Z" fill="#111"/>
<text x="410.5" y="254.3" font-size="7.7" fill="#222" stroke="#222" stroke-width="0.2" textLength="26.9" lengthAdjust="spacingAndGlyphs">ø16 mm</text>
<path d="M424.1,256.4V493.6" stroke="#666" stroke-width="0.7"/>
<path d="M424.1,256.4l1.1,13.2h-2.2zM424.1,493.6l1.1,-13.2h-2.2z" fill="#111"/>
<text transform="translate(429.3,361.6) rotate(90)" font-size="7.3" fill="#222" stroke="#222" stroke-width="0.15" textLength="33" lengthAdjust="spacingAndGlyphs">1000 mm</text>
<path d="M352.7,502.5L382.5,475.5" stroke="#222" stroke-width="0.6"/>
<g transform="translate(352.7,502.5) rotate(-42.18)"><path d="M0,0L13,-1.4V1.4Z M40.21,0L27.21,-1.4V1.4Z" fill="#111"/><text x="10" y="-4.8" font-size="7.3" fill="#222" stroke="#222" stroke-width="0.15" textLength="28" lengthAdjust="spacingAndGlyphs">ø60 mm</text></g>
<path d="M373.3,513H422.8" stroke="#222" stroke-width="0.6"/>
<path d="M373.3,513l12,-1.3v2.6zM422.8,513l-12,-1.3v2.6z" fill="#111"/>
<text x="384.5" y="508.1" font-size="8.6" fill="#222" stroke="#222" stroke-width="0.25" textLength="26.7" lengthAdjust="spacingAndGlyphs">100 mm</text>
<text x="23.9" y="540.8" font-size="10.3" fill="#2a2a2a" stroke="#2a2a2a" stroke-width="0.12" textLength="107.4" lengthAdjust="spacingAndGlyphs">1. Светильник работает</text>
<text x="23.9" y="553.3" font-size="10.3" fill="#2a2a2a" stroke="#2a2a2a" stroke-width="0.12" textLength="139.1" lengthAdjust="spacingAndGlyphs">от сетевого напряжения 230В.</text>
<text x="23.9" y="565.9" font-size="10.3" fill="#2a2a2a" stroke="#2a2a2a" stroke-width="0.12" textLength="161" lengthAdjust="spacingAndGlyphs">2. Всегда выключайте напряжение,</text>
<text x="23.9" y="578.5" font-size="10.3" fill="#2a2a2a" stroke="#2a2a2a" stroke-width="0.12" textLength="157.2" lengthAdjust="spacingAndGlyphs">когда устанавливаете светильник.</text>
<text x="219.6" y="539.5" font-size="10.1" fill="#1a1a1a" stroke="#1a1a1a" stroke-width="0.3" textLength="38.4" lengthAdjust="spacingAndGlyphs">748533</text>
<text x="273.6" y="539.5" font-size="10.1" fill="#1a1a1a" stroke="#1a1a1a" stroke-width="0.3" textLength="38.4" lengthAdjust="spacingAndGlyphs">748537</text>
<text x="219.6" y="603" font-size="10.1" fill="#1a1a1a" stroke="#1a1a1a" stroke-width="0.3" textLength="38.4" lengthAdjust="spacingAndGlyphs">748543</text>
<text x="273.6" y="603" font-size="10.1" fill="#1a1a1a" stroke="#1a1a1a" stroke-width="0.3" textLength="38.4" lengthAdjust="spacingAndGlyphs">748547</text>
<text x="350.6" y="539.5" font-size="10.1" fill="#1a1a1a" stroke="#1a1a1a" stroke-width="0.3" textLength="38.4" lengthAdjust="spacingAndGlyphs">748633</text>
<text x="405.2" y="539.5" font-size="10.1" fill="#1a1a1a" stroke="#1a1a1a" stroke-width="0.3" textLength="38.4" lengthAdjust="spacingAndGlyphs">748637</text>
<text x="350.6" y="603" font-size="10.1" fill="#1a1a1a" stroke="#1a1a1a" stroke-width="0.3" textLength="38.4" lengthAdjust="spacingAndGlyphs">748643</text>
<text x="405.2" y="603" font-size="10.1" fill="#1a1a1a" stroke="#1a1a1a" stroke-width="0.3" textLength="38.4" lengthAdjust="spacingAndGlyphs">748647</text>
<path d="M219.4,545.3h5.97v0.85h-5.97zM227.93,545.3h2.56v0.85h-2.56zM232.2,545.3h0.85v0.85h-0.85zM236.47,545.3h7.68v0.85h-7.68zM245,545.3h0.85v0.85h-0.85zM246.71,545.3h0.85v0.85h-0.85zM248.41,545.3h1.71v0.85h-1.71zM251.83,545.3h5.97v0.85h-5.97zM219.4,546.15h0.85v0.85h-0.85zM224.52,546.15h0.85v0.85h-0.85zM226.23,546.15h0.85v0.85h-0.85zM227.93,546.15h1.71v0.85h-1.71zM231.35,546.15h2.56v0.85h-2.56zM235.61,546.15h3.41v0.85h-3.41zM239.88,546.15h3.41v0.85h-3.41zM244.15,546.15h0.85v0.85h-0.85zM245.85,546.15h3.41v0.85h-3.41zM251.83,546.15h0.85v0.85h-0.85zM256.95,546.15h0.85v0.85h-0.85zM219.4,547.01h0.85v0.85h-0.85zM221.11,547.01h2.56v0.85h-2.56zM224.52,547.01h0.85v0.85h-0.85zM226.23,547.01h0.85v0.85h-0.85zM227.93,547.01h1.71v0.85h-1.71zM230.49,547.01h1.71v0.85h-1.71zM233.05,547.01h1.71v0.85h-1.71zM236.47,547.01h1.71v0.85h-1.71zM239.88,547.01h0.85v0.85h-0.85zM243.29,547.01h2.56v0.85h-2.56zM246.71,547.01h0.85v0.85h-0.85zM248.41,547.01h0.85v0.85h-0.85zM250.12,547.01h0.85v0.85h-0.85zM251.83,547.01h0.85v0.85h-0.85zM253.53,547.01h2.56v0.85h-2.56zM256.95,547.01h0.85v0.85h-0.85zM219.4,547.86h0.85v0.85h-0.85zM221.11,547.86h2.56v0.85h-2.56zM224.52,547.86h0.85v0.85h-0.85zM226.23,547.86h3.41v0.85h-3.41zM233.05,547.86h3.41v0.85h-3.41zM239.03,547.86h0.85v0.85h-0.85zM240.73,547.86h0.85v0.85h-0.85zM242.44,547.86h0.85v0.85h-0.85zM244.15,547.86h1.71v0.85h-1.71zM251.83,547.86h0.85v0.85h-0.85zM253.53,547.86h2.56v0.85h-2.56zM256.95,547.86h0.85v0.85h-0.85zM219.4,548.71h0.85v0.85h-0.85zM221.11,548.71h2.56v0.85h-2.56zM224.52,548.71h0.85v0.85h-0.85zM227.08,548.71h0.85v0.85h-0.85zM228.79,548.71h1.71v0.85h-1.71zM231.35,548.71h0.85v0.85h-0.85zM233.05,548.71h0.85v0.85h-0.85zM234.76,548.71h7.68v0.85h-7.68zM243.29,548.71h1.71v0.85h-1.71zM246.71,548.71h0.85v0.85h-0.85zM248.41,548.71h0.85v0.85h-0.85zM250.12,548.71h0.85v0.85h-0.85zM251.83,548.71h0.85v0.85h-0.85zM253.53,548.71h2.56v0.85h-2.56zM256.95,548.71h0.85v0.85h-0.85zM219.4,549.57h0.85v0.85h-0.85zM224.52,549.57h0.85v0.85h-0.85zM226.23,549.57h2.56v0.85h-2.56zM229.64,549.57h1.71v0.85h-1.71zM233.05,549.57h2.56v0.85h-2.56zM236.47,549.57h0.85v0.85h-0.85zM239.88,549.57h4.27v0.85h-4.27zM245,549.57h2.56v0.85h-2.56zM248.41,549.57h0.85v0.85h-0.85zM251.83,549.57h0.85v0.85h-0.85zM256.95,549.57h0.85v0.85h-0.85zM219.4,550.42h5.97v0.85h-5.97zM226.23,550.42h0.85v0.85h-0.85zM227.93,550.42h0.85v0.85h-0.85zM229.64,550.42h0.85v0.85h-0.85zM231.35,550.42h0.85v0.85h-0.85zM233.05,550.42h0.85v0.85h-0.85zM234.76,550.42h0.85v0.85h-0.85zM236.47,550.42h0.85v0.85h-0.85zM238.17,550.42h0.85v0.85h-0.85zM239.88,550.42h0.85v0.85h-0.85zM241.59,550.42h0.85v0.85h-0.85zM243.29,550.42h0.85v0.85h-0.85zM245,550.42h0.85v0.85h-0.85zM246.71,550.42h0.85v0.85h-0.85zM248.41,550.42h0.85v0.85h-0.85zM250.12,550.42h0.85v0.85h-0.85zM251.83,550.42h5.97v0.85h-5.97zM226.23,551.27h1.71v0.85h-1.71zM231.35,551.27h0.85v0.85h-0.85zM233.05,551.27h4.27v0.85h-4.27zM239.88,551.27h2.56v0.85h-2.56zM244.15,551.27h0.85v0.85h-0.85zM246.71,551.27h4.27v0.85h-4.27zM220.25,552.13h2.56v0.85h-2.56zM224.52,552.13h3.41v0.85h-3.41zM229.64,552.13h2.56v0.85h-2.56zM233.91,552.13h0.85v0.85h-0.85zM235.61,552.13h5.12v0.85h-5.12zM241.59,552.13h0.85v0.85h-0.85zM243.29,552.13h9.39v0.85h-9.39zM254.39,552.13h0.85v0.85h-0.85zM219.4,552.98h0.85v0.85h-0.85zM222.81,552.98h1.71v0.85h-1.71zM225.37,552.98h0.85v0.85h-0.85zM227.93,552.98h1.71v0.85h-1.71zM230.49,552.98h1.71v0.85h-1.71zM233.05,552.98h0.85v0.85h-0.85zM234.76,552.98h1.71v0.85h-1.71zM237.32,552.98h1.71v0.85h-1.71zM241.59,552.98h1.71v0.85h-1.71zM244.15,552.98h0.85v0.85h-0.85zM245.85,552.98h8.53v0.85h-8.53zM256.95,552.98h0.85v0.85h-0.85zM219.4,553.83h0.85v0.85h-0.85zM221.11,553.83h0.85v0.85h-0.85zM222.81,553.83h3.41v0.85h-3.41zM227.08,553.83h0.85v0.85h-0.85zM229.64,553.83h1.71v0.85h-1.71zM232.2,553.83h4.27v0.85h-4.27zM240.73,553.83h2.56v0.85h-2.56zM245,553.83h0.85v0.85h-0.85zM249.27,553.83h0.85v0.85h-0.85zM254.39,553.83h0.85v0.85h-0.85zM256.09,553.83h1.71v0.85h-1.71zM219.4,554.69h2.56v0.85h-2.56zM223.67,554.69h0.85v0.85h-0.85zM226.23,554.69h0.85v0.85h-0.85zM227.93,554.69h2.56v0.85h-2.56zM234.76,554.69h0.85v0.85h-0.85zM237.32,554.69h5.97v0.85h-5.97zM244.15,554.69h1.71v0.85h-1.71zM246.71,554.69h0.85v0.85h-0.85zM250.12,554.69h1.71v0.85h-1.71zM252.68,554.69h0.85v0.85h-0.85zM254.39,554.69h3.41v0.85h-3.41zM220.25,555.54h0.85v0.85h-0.85zM221.96,555.54h4.27v0.85h-4.27zM227.08,555.54h1.71v0.85h-1.71zM229.64,555.54h4.27v0.85h-4.27zM234.76,555.54h0.85v0.85h-0.85zM237.32,555.54h0.85v0.85h-0.85zM239.88,555.54h0.85v0.85h-0.85zM241.59,555.54h1.71v0.85h-1.71zM244.15,555.54h1.71v0.85h-1.71zM247.56,555.54h0.85v0.85h-0.85zM250.97,555.54h0.85v0.85h-0.85zM252.68,555.54h5.12v0.85h-5.12zM220.25,556.39h3.41v0.85h-3.41zM227.93,556.39h1.71v0.85h-1.71zM232.2,556.39h1.71v0.85h-1.71zM234.76,556.39h1.71v0.85h-1.71zM238.17,556.39h1.71v0.85h-1.71zM242.44,556.39h3.41v0.85h-3.41zM246.71,556.39h3.41v0.85h-3.41zM250.97,556.39h0.85v0.85h-0.85zM252.68,556.39h3.41v0.85h-3.41zM219.4,557.25h1.71v0.85h-1.71zM223.67,557.25h2.56v0.85h-2.56zM227.08,557.25h0.85v0.85h-0.85zM229.64,557.25h1.71v0.85h-1.71zM233.05,557.25h2.56v0.85h-2.56zM236.47,557.25h3.41v0.85h-3.41zM240.73,557.25h0.85v0.85h-0.85zM242.44,557.25h1.71v0.85h-1.71zM245,557.25h1.71v0.85h-1.71zM248.41,557.25h2.56v0.85h-2.56zM251.83,557.25h1.71v0.85h-1.71zM254.39,557.25h0.85v0.85h-0.85zM219.4,558.1h0.85v0.85h-0.85zM221.11,558.1h2.56v0.85h-2.56zM225.37,558.1h6.83v0.85h-6.83zM233.05,558.1h0.85v0.85h-0.85zM234.76,558.1h1.71v0.85h-1.71zM238.17,558.1h4.27v0.85h-4.27zM245,558.1h1.71v0.85h-1.71zM247.56,558.1h1.71v0.85h-1.71zM250.97,558.1h0.85v0.85h-0.85zM252.68,558.1h0.85v0.85h-0.85zM255.24,558.1h1.71v0.85h-1.71zM219.4,558.95h0.85v0.85h-0.85zM221.11,558.95h1.71v0.85h-1.71zM224.52,558.95h1.71v0.85h-1.71zM228.79,558.95h0.85v0.85h-0.85zM236.47,558.95h0.85v0.85h-0.85zM239.03,558.95h2.56v0.85h-2.56zM243.29,558.95h4.27v0.85h-4.27zM248.41,558.95h2.56v0.85h-2.56zM252.68,558.95h3.41v0.85h-3.41zM256.95,558.95h0.85v0.85h-0.85zM219.4,559.81h3.41v0.85h-3.41zM223.67,559.81h0.85v0.85h-0.85zM225.37,559.81h2.56v0.85h-2.56zM228.79,559.81h1.71v0.85h-1.71zM231.35,559.81h1.71v0.85h-1.71zM234.76,559.81h1.71v0.85h-1.71zM237.32,559.81h2.56v0.85h-2.56zM241.59,559.81h3.41v0.85h-3.41zM246.71,559.81h3.41v0.85h-3.41zM252.68,559.81h3.41v0.85h-3.41zM256.95,559.81h0.85v0.85h-0.85zM221.11,560.66h2.56v0.85h-2.56zM224.52,560.66h0.85v0.85h-0.85zM227.93,560.66h1.71v0.85h-1.71zM230.49,560.66h2.56v0.85h-2.56zM233.91,560.66h0.85v0.85h-0.85zM235.61,560.66h0.85v0.85h-0.85zM237.32,560.66h0.85v0.85h-0.85zM239.03,560.66h0.85v0.85h-0.85zM240.73,560.66h3.41v0.85h-3.41zM245,560.66h4.27v0.85h-4.27zM250.12,560.66h0.85v0.85h-0.85zM251.83,560.66h2.56v0.85h-2.56zM256.95,560.66h0.85v0.85h-0.85zM219.4,561.51h0.85v0.85h-0.85zM221.11,561.51h3.41v0.85h-3.41zM226.23,561.51h0.85v0.85h-0.85zM227.93,561.51h5.12v0.85h-5.12zM233.91,561.51h1.71v0.85h-1.71zM236.47,561.51h0.85v0.85h-0.85zM238.17,561.51h0.85v0.85h-0.85zM239.88,561.51h0.85v0.85h-0.85zM241.59,561.51h2.56v0.85h-2.56zM245.85,561.51h1.71v0.85h-1.71zM248.41,561.51h5.97v0.85h-5.97zM255.24,561.51h1.71v0.85h-1.71zM221.11,562.37h5.97v0.85h-5.97zM229.64,562.37h2.56v0.85h-2.56zM233.05,562.37h2.56v0.85h-2.56zM236.47,562.37h7.68v0.85h-7.68zM245.85,562.37h0.85v0.85h-0.85zM248.41,562.37h0.85v0.85h-0.85zM250.12,562.37h4.27v0.85h-4.27zM255.24,562.37h0.85v0.85h-0.85zM256.95,562.37h0.85v0.85h-0.85zM219.4,563.22h1.71v0.85h-1.71zM221.96,563.22h1.71v0.85h-1.71zM226.23,563.22h0.85v0.85h-0.85zM230.49,563.22h0.85v0.85h-0.85zM232.2,563.22h0.85v0.85h-0.85zM233.91,563.22h1.71v0.85h-1.71zM236.47,563.22h0.85v0.85h-0.85zM239.88,563.22h0.85v0.85h-0.85zM243.29,563.22h0.85v0.85h-0.85zM245.85,563.22h1.71v0.85h-1.71zM248.41,563.22h2.56v0.85h-2.56zM253.53,563.22h4.27v0.85h-4.27zM220.25,564.07h0.85v0.85h-0.85zM221.96,564.07h1.71v0.85h-1.71zM224.52,564.07h0.85v0.85h-0.85zM226.23,564.07h0.85v0.85h-0.85zM229.64,564.07h0.85v0.85h-0.85zM233.05,564.07h2.56v0.85h-2.56zM236.47,564.07h0.85v0.85h-0.85zM238.17,564.07h0.85v0.85h-0.85zM239.88,564.07h1.71v0.85h-1.71zM244.15,564.07h0.85v0.85h-0.85zM245.85,564.07h5.12v0.85h-5.12zM251.83,564.07h0.85v0.85h-0.85zM253.53,564.07h4.27v0.85h-4.27zM219.4,564.93h0.85v0.85h-0.85zM222.81,564.93h0.85v0.85h-0.85zM226.23,564.93h1.71v0.85h-1.71zM228.79,564.93h0.85v0.85h-0.85zM230.49,564.93h1.71v0.85h-1.71zM233.05,564.93h4.27v0.85h-4.27zM239.88,564.93h3.41v0.85h-3.41zM244.15,564.93h1.71v0.85h-1.71zM247.56,564.93h3.41v0.85h-3.41zM253.53,564.93h2.56v0.85h-2.56zM219.4,565.78h0.85v0.85h-0.85zM221.11,565.78h0.85v0.85h-0.85zM222.81,565.78h4.27v0.85h-4.27zM228.79,565.78h0.85v0.85h-0.85zM231.35,565.78h3.41v0.85h-3.41zM235.61,565.78h5.12v0.85h-5.12zM242.44,565.78h2.56v0.85h-2.56zM246.71,565.78h0.85v0.85h-0.85zM248.41,565.78h0.85v0.85h-0.85zM250.12,565.78h5.97v0.85h-5.97zM256.95,565.78h0.85v0.85h-0.85zM219.4,566.63h0.85v0.85h-0.85zM221.11,566.63h3.41v0.85h-3.41zM226.23,566.63h1.71v0.85h-1.71zM228.79,566.63h0.85v0.85h-0.85zM230.49,566.63h2.56v0.85h-2.56zM233.91,566.63h0.85v0.85h-0.85zM236.47,566.63h1.71v0.85h-1.71zM239.88,566.63h0.85v0.85h-0.85zM241.59,566.63h0.85v0.85h-0.85zM243.29,566.63h0.85v0.85h-0.85zM245,566.63h1.71v0.85h-1.71zM249.27,566.63h5.97v0.85h-5.97zM256.09,566.63h0.85v0.85h-0.85zM219.4,567.49h5.97v0.85h-5.97zM226.23,567.49h0.85v0.85h-0.85zM227.93,567.49h1.71v0.85h-1.71zM230.49,567.49h4.27v0.85h-4.27zM235.61,567.49h3.41v0.85h-3.41zM239.88,567.49h2.56v0.85h-2.56zM245,567.49h3.41v0.85h-3.41zM249.27,567.49h1.71v0.85h-1.71zM252.68,567.49h1.71v0.85h-1.71zM255.24,567.49h1.71v0.85h-1.71zM219.4,568.34h5.12v0.85h-5.12zM227.08,568.34h4.27v0.85h-4.27zM232.2,568.34h1.71v0.85h-1.71zM235.61,568.34h1.71v0.85h-1.71zM238.17,568.34h1.71v0.85h-1.71zM241.59,568.34h0.85v0.85h-0.85zM243.29,568.34h1.71v0.85h-1.71zM245.85,568.34h0.85v0.85h-0.85zM247.56,568.34h8.53v0.85h-8.53zM220.25,569.19h2.56v0.85h-2.56zM223.67,569.19h5.12v0.85h-5.12zM230.49,569.19h2.56v0.85h-2.56zM233.91,569.19h0.85v0.85h-0.85zM237.32,569.19h3.41v0.85h-3.41zM241.59,569.19h0.85v0.85h-0.85zM243.29,569.19h10.24v0.85h-10.24zM254.39,569.19h0.85v0.85h-0.85zM256.95,569.19h0.85v0.85h-0.85zM219.4,570.05h1.71v0.85h-1.71zM221.96,570.05h1.71v0.85h-1.71zM225.37,570.05h4.27v0.85h-4.27zM230.49,570.05h0.85v0.85h-0.85zM233.05,570.05h0.85v0.85h-0.85zM235.61,570.05h0.85v0.85h-0.85zM239.88,570.05h0.85v0.85h-0.85zM241.59,570.05h10.24v0.85h-10.24zM252.68,570.05h5.12v0.85h-5.12zM220.25,570.9h0.85v0.85h-0.85zM221.96,570.9h11.09v0.85h-11.09zM233.91,570.9h1.71v0.85h-1.71zM236.47,570.9h1.71v0.85h-1.71zM239.88,570.9h1.71v0.85h-1.71zM245,570.9h2.56v0.85h-2.56zM249.27,570.9h0.85v0.85h-0.85zM250.97,570.9h4.27v0.85h-4.27zM256.09,570.9h1.71v0.85h-1.71zM219.4,571.75h0.85v0.85h-0.85zM221.11,571.75h3.41v0.85h-3.41zM225.37,571.75h0.85v0.85h-0.85zM227.08,571.75h0.85v0.85h-0.85zM228.79,571.75h0.85v0.85h-0.85zM231.35,571.75h1.71v0.85h-1.71zM233.91,571.75h0.85v0.85h-0.85zM239.03,571.75h0.85v0.85h-0.85zM240.73,571.75h3.41v0.85h-3.41zM245,571.75h8.53v0.85h-8.53zM254.39,571.75h1.71v0.85h-1.71zM256.95,571.75h0.85v0.85h-0.85zM219.4,572.61h0.85v0.85h-0.85zM221.96,572.61h4.27v0.85h-4.27zM227.08,572.61h0.85v0.85h-0.85zM228.79,572.61h1.71v0.85h-1.71zM233.05,572.61h1.71v0.85h-1.71zM238.17,572.61h1.71v0.85h-1.71zM240.73,572.61h3.41v0.85h-3.41zM245.85,572.61h0.85v0.85h-0.85zM247.56,572.61h0.85v0.85h-0.85zM249.27,572.61h0.85v0.85h-0.85zM251.83,572.61h0.85v0.85h-0.85zM253.53,572.61h2.56v0.85h-2.56zM219.4,573.46h5.12v0.85h-5.12zM227.08,573.46h1.71v0.85h-1.71zM231.35,573.46h0.85v0.85h-0.85zM233.05,573.46h0.85v0.85h-0.85zM234.76,573.46h2.56v0.85h-2.56zM238.17,573.46h5.97v0.85h-5.97zM245,573.46h5.97v0.85h-5.97zM251.83,573.46h3.41v0.85h-3.41zM256.09,573.46h0.85v0.85h-0.85zM219.4,574.31h1.71v0.85h-1.71zM221.96,574.31h3.41v0.85h-3.41zM226.23,574.31h0.85v0.85h-0.85zM229.64,574.31h0.85v0.85h-0.85zM232.2,574.31h5.12v0.85h-5.12zM238.17,574.31h3.41v0.85h-3.41zM242.44,574.31h1.71v0.85h-1.71zM246.71,574.31h0.85v0.85h-0.85zM250.97,574.31h0.85v0.85h-0.85zM252.68,574.31h0.85v0.85h-0.85zM254.39,574.31h0.85v0.85h-0.85zM256.09,574.31h1.71v0.85h-1.71zM219.4,575.17h2.56v0.85h-2.56zM223.67,575.17h0.85v0.85h-0.85zM225.37,575.17h1.71v0.85h-1.71zM227.93,575.17h2.56v0.85h-2.56zM231.35,575.17h0.85v0.85h-0.85zM233.05,575.17h0.85v0.85h-0.85zM234.76,575.17h8.53v0.85h-8.53zM244.15,575.17h0.85v0.85h-0.85zM245.85,575.17h0.85v0.85h-0.85zM247.56,575.17h0.85v0.85h-0.85zM249.27,575.17h0.85v0.85h-0.85zM250.97,575.17h1.71v0.85h-1.71zM253.53,575.17h1.71v0.85h-1.71zM256.95,575.17h0.85v0.85h-0.85zM219.4,576.02h1.71v0.85h-1.71zM221.96,576.02h0.85v0.85h-0.85zM223.67,576.02h2.56v0.85h-2.56zM229.64,576.02h2.56v0.85h-2.56zM233.91,576.02h0.85v0.85h-0.85zM235.61,576.02h5.97v0.85h-5.97zM242.44,576.02h2.56v0.85h-2.56zM245.85,576.02h1.71v0.85h-1.71zM249.27,576.02h5.12v0.85h-5.12zM255.24,576.02h1.71v0.85h-1.71zM227.08,576.87h0.85v0.85h-0.85zM228.79,576.87h1.71v0.85h-1.71zM231.35,576.87h1.71v0.85h-1.71zM233.91,576.87h1.71v0.85h-1.71zM236.47,576.87h0.85v0.85h-0.85zM239.88,576.87h1.71v0.85h-1.71zM243.29,576.87h4.27v0.85h-4.27zM249.27,576.87h1.71v0.85h-1.71zM253.53,576.87h1.71v0.85h-1.71zM256.09,576.87h0.85v0.85h-0.85zM219.4,577.73h5.97v0.85h-5.97zM227.08,577.73h0.85v0.85h-0.85zM229.64,577.73h1.71v0.85h-1.71zM232.2,577.73h2.56v0.85h-2.56zM236.47,577.73h0.85v0.85h-0.85zM238.17,577.73h0.85v0.85h-0.85zM239.88,577.73h4.27v0.85h-4.27zM245,577.73h0.85v0.85h-0.85zM246.71,577.73h2.56v0.85h-2.56zM250.12,577.73h0.85v0.85h-0.85zM251.83,577.73h0.85v0.85h-0.85zM253.53,577.73h0.85v0.85h-0.85zM255.24,577.73h0.85v0.85h-0.85zM219.4,578.58h0.85v0.85h-0.85zM224.52,578.58h0.85v0.85h-0.85zM226.23,578.58h1.71v0.85h-1.71zM228.79,578.58h0.85v0.85h-0.85zM231.35,578.58h2.56v0.85h-2.56zM234.76,578.58h2.56v0.85h-2.56zM239.88,578.58h1.71v0.85h-1.71zM242.44,578.58h2.56v0.85h-2.56zM246.71,578.58h0.85v0.85h-0.85zM249.27,578.58h1.71v0.85h-1.71zM253.53,578.58h0.85v0.85h-0.85zM219.4,579.43h0.85v0.85h-0.85zM221.11,579.43h2.56v0.85h-2.56zM224.52,579.43h0.85v0.85h-0.85zM226.23,579.43h0.85v0.85h-0.85zM227.93,579.43h0.85v0.85h-0.85zM229.64,579.43h3.41v0.85h-3.41zM233.91,579.43h1.71v0.85h-1.71zM236.47,579.43h4.27v0.85h-4.27zM241.59,579.43h2.56v0.85h-2.56zM246.71,579.43h11.09v0.85h-11.09zM219.4,580.29h0.85v0.85h-0.85zM221.11,580.29h2.56v0.85h-2.56zM224.52,580.29h0.85v0.85h-0.85zM226.23,580.29h0.85v0.85h-0.85zM227.93,580.29h0.85v0.85h-0.85zM229.64,580.29h0.85v0.85h-0.85zM231.35,580.29h1.71v0.85h-1.71zM235.61,580.29h2.56v0.85h-2.56zM240.73,580.29h4.27v0.85h-4.27zM247.56,580.29h4.27v0.85h-4.27zM252.68,580.29h1.71v0.85h-1.71zM256.95,580.29h0.85v0.85h-0.85zM219.4,581.14h0.85v0.85h-0.85zM221.11,581.14h2.56v0.85h-2.56zM224.52,581.14h0.85v0.85h-0.85zM226.23,581.14h4.27v0.85h-4.27zM231.35,581.14h8.53v0.85h-8.53zM240.73,581.14h2.56v0.85h-2.56zM244.15,581.14h1.71v0.85h-1.71zM246.71,581.14h3.41v0.85h-3.41zM250.97,581.14h3.41v0.85h-3.41zM255.24,581.14h2.56v0.85h-2.56zM219.4,581.99h0.85v0.85h-0.85zM224.52,581.99h0.85v0.85h-0.85zM227.93,581.99h1.71v0.85h-1.71zM232.2,581.99h0.85v0.85h-0.85zM233.91,581.99h0.85v0.85h-0.85zM235.61,581.99h0.85v0.85h-0.85zM238.17,581.99h0.85v0.85h-0.85zM240.73,581.99h1.71v0.85h-1.71zM243.29,581.99h0.85v0.85h-0.85zM246.71,581.99h0.85v0.85h-0.85zM248.41,581.99h0.85v0.85h-0.85zM250.12,581.99h4.27v0.85h-4.27zM255.24,581.99h1.71v0.85h-1.71zM219.4,582.85h5.97v0.85h-5.97zM226.23,582.85h2.56v0.85h-2.56zM229.64,582.85h0.85v0.85h-0.85zM231.35,582.85h3.41v0.85h-3.41zM236.47,582.85h0.85v0.85h-0.85zM238.17,582.85h0.85v0.85h-0.85zM239.88,582.85h0.85v0.85h-0.85zM241.59,582.85h8.53v0.85h-8.53zM250.97,582.85h2.56v0.85h-2.56zM254.39,582.85h0.85v0.85h-0.85zM256.09,582.85h1.71v0.85h-1.71z" fill="#111"/><rect x="219.2" y="545.1" width="6.8" height="6.8" fill="#fff"/><rect x="219.92" y="545.82" width="4.66" height="4.66" fill="none" stroke="#111" stroke-width="1.05"/><rect x="221.15" y="547.05" width="2.2" height="2.2" fill="#111"/><rect x="251.2" y="545.1" width="6.8" height="6.8" fill="#fff"/><rect x="252.62" y="545.82" width="4.66" height="4.66" fill="none" stroke="#111" stroke-width="1.05"/><rect x="253.85" y="547.05" width="2.2" height="2.2" fill="#111"/><rect x="219.2" y="577.1" width="6.8" height="6.8" fill="#fff"/><rect x="219.92" y="578.52" width="4.66" height="4.66" fill="none" stroke="#111" stroke-width="1.05"/><rect x="221.15" y="579.75" width="2.2" height="2.2" fill="#111"/>
<path d="M273.4,545.3h5.97v0.85h-5.97zM281.93,545.3h0.85v0.85h-0.85zM283.64,545.3h2.56v0.85h-2.56zM287.05,545.3h0.85v0.85h-0.85zM288.76,545.3h0.85v0.85h-0.85zM290.47,545.3h1.71v0.85h-1.71zM293.03,545.3h1.71v0.85h-1.71zM295.59,545.3h1.71v0.85h-1.71zM299,545.3h3.41v0.85h-3.41zM303.27,545.3h0.85v0.85h-0.85zM305.83,545.3h5.97v0.85h-5.97zM273.4,546.15h0.85v0.85h-0.85zM278.52,546.15h0.85v0.85h-0.85zM281.08,546.15h3.41v0.85h-3.41zM285.35,546.15h1.71v0.85h-1.71zM287.91,546.15h4.27v0.85h-4.27zM293.03,546.15h2.56v0.85h-2.56zM296.44,546.15h2.56v0.85h-2.56zM299.85,546.15h4.27v0.85h-4.27zM305.83,546.15h0.85v0.85h-0.85zM310.95,546.15h0.85v0.85h-0.85zM273.4,547.01h0.85v0.85h-0.85zM275.11,547.01h2.56v0.85h-2.56zM278.52,547.01h0.85v0.85h-0.85zM281.93,547.01h2.56v0.85h-2.56zM287.05,547.01h2.56v0.85h-2.56zM290.47,547.01h0.85v0.85h-0.85zM293.03,547.01h1.71v0.85h-1.71zM295.59,547.01h0.85v0.85h-0.85zM297.29,547.01h0.85v0.85h-0.85zM299.85,547.01h2.56v0.85h-2.56zM304.12,547.01h0.85v0.85h-0.85zM305.83,547.01h0.85v0.85h-0.85zM307.53,547.01h2.56v0.85h-2.56zM310.95,547.01h0.85v0.85h-0.85zM273.4,547.86h0.85v0.85h-0.85zM275.11,547.86h2.56v0.85h-2.56zM278.52,547.86h0.85v0.85h-0.85zM280.23,547.86h0.85v0.85h-0.85zM281.93,547.86h1.71v0.85h-1.71zM287.91,547.86h0.85v0.85h-0.85zM289.61,547.86h3.41v0.85h-3.41zM294.73,547.86h0.85v0.85h-0.85zM296.44,547.86h1.71v0.85h-1.71zM299,547.86h3.41v0.85h-3.41zM303.27,547.86h1.71v0.85h-1.71zM305.83,547.86h0.85v0.85h-0.85zM307.53,547.86h2.56v0.85h-2.56zM310.95,547.86h0.85v0.85h-0.85zM273.4,548.71h0.85v0.85h-0.85zM275.11,548.71h2.56v0.85h-2.56zM278.52,548.71h0.85v0.85h-0.85zM280.23,548.71h4.27v0.85h-4.27zM285.35,548.71h0.85v0.85h-0.85zM287.05,548.71h1.71v0.85h-1.71zM290.47,548.71h5.12v0.85h-5.12zM296.44,548.71h0.85v0.85h-0.85zM299.85,548.71h0.85v0.85h-0.85zM301.56,548.71h0.85v0.85h-0.85zM303.27,548.71h1.71v0.85h-1.71zM305.83,548.71h0.85v0.85h-0.85zM307.53,548.71h2.56v0.85h-2.56zM310.95,548.71h0.85v0.85h-0.85zM273.4,549.57h0.85v0.85h-0.85zM278.52,549.57h0.85v0.85h-0.85zM283.64,549.57h0.85v0.85h-0.85zM285.35,549.57h4.27v0.85h-4.27zM290.47,549.57h0.85v0.85h-0.85zM293.88,549.57h1.71v0.85h-1.71zM298.15,549.57h0.85v0.85h-0.85zM299.85,549.57h1.71v0.85h-1.71zM303.27,549.57h0.85v0.85h-0.85zM305.83,549.57h0.85v0.85h-0.85zM310.95,549.57h0.85v0.85h-0.85zM273.4,550.42h5.97v0.85h-5.97zM280.23,550.42h0.85v0.85h-0.85zM281.93,550.42h0.85v0.85h-0.85zM283.64,550.42h0.85v0.85h-0.85zM285.35,550.42h0.85v0.85h-0.85zM287.05,550.42h0.85v0.85h-0.85zM288.76,550.42h0.85v0.85h-0.85zM290.47,550.42h0.85v0.85h-0.85zM292.17,550.42h0.85v0.85h-0.85zM293.88,550.42h0.85v0.85h-0.85zM295.59,550.42h0.85v0.85h-0.85zM297.29,550.42h0.85v0.85h-0.85zM299,550.42h0.85v0.85h-0.85zM300.71,550.42h0.85v0.85h-0.85zM302.41,550.42h0.85v0.85h-0.85zM304.12,550.42h0.85v0.85h-0.85zM305.83,550.42h5.97v0.85h-5.97zM280.23,551.27h2.56v0.85h-2.56zM287.05,551.27h1.71v0.85h-1.71zM290.47,551.27h0.85v0.85h-0.85zM293.88,551.27h0.85v0.85h-0.85zM296.44,551.27h1.71v0.85h-1.71zM299.85,551.27h1.71v0.85h-1.71zM302.41,551.27h2.56v0.85h-2.56zM273.4,552.13h0.85v0.85h-0.85zM275.96,552.13h5.97v0.85h-5.97zM282.79,552.13h12.8v0.85h-12.8zM296.44,552.13h0.85v0.85h-0.85zM298.15,552.13h1.71v0.85h-1.71zM302.41,552.13h2.56v0.85h-2.56zM305.83,552.13h1.71v0.85h-1.71zM309.24,552.13h1.71v0.85h-1.71zM273.4,552.98h0.85v0.85h-0.85zM275.11,552.98h2.56v0.85h-2.56zM279.37,552.98h1.71v0.85h-1.71zM281.93,552.98h0.85v0.85h-0.85zM285.35,552.98h2.56v0.85h-2.56zM289.61,552.98h0.85v0.85h-0.85zM292.17,552.98h0.85v0.85h-0.85zM293.88,552.98h8.53v0.85h-8.53zM303.27,552.98h1.71v0.85h-1.71zM306.68,552.98h1.71v0.85h-1.71zM310.95,552.98h0.85v0.85h-0.85zM273.4,553.83h1.71v0.85h-1.71zM276.81,553.83h0.85v0.85h-0.85zM278.52,553.83h1.71v0.85h-1.71zM281.08,553.83h0.85v0.85h-0.85zM282.79,553.83h0.85v0.85h-0.85zM286.2,553.83h5.12v0.85h-5.12zM292.17,553.83h1.71v0.85h-1.71zM295.59,553.83h1.71v0.85h-1.71zM298.15,553.83h0.85v0.85h-0.85zM299.85,553.83h0.85v0.85h-0.85zM301.56,553.83h0.85v0.85h-0.85zM304.12,553.83h1.71v0.85h-1.71zM307.53,553.83h0.85v0.85h-0.85zM273.4,554.69h4.27v0.85h-4.27zM280.23,554.69h0.85v0.85h-0.85zM281.93,554.69h1.71v0.85h-1.71zM286.2,554.69h1.71v0.85h-1.71zM288.76,554.69h1.71v0.85h-1.71zM293.88,554.69h0.85v0.85h-0.85zM295.59,554.69h2.56v0.85h-2.56zM299,554.69h6.83v0.85h-6.83zM307.53,554.69h0.85v0.85h-0.85zM309.24,554.69h0.85v0.85h-0.85zM310.95,554.69h0.85v0.85h-0.85zM273.4,555.54h0.85v0.85h-0.85zM276.81,555.54h5.12v0.85h-5.12zM285.35,555.54h0.85v0.85h-0.85zM287.05,555.54h1.71v0.85h-1.71zM291.32,555.54h5.12v0.85h-5.12zM298.15,555.54h0.85v0.85h-0.85zM299.85,555.54h0.85v0.85h-0.85zM304.97,555.54h6.83v0.85h-6.83zM274.25,556.39h0.85v0.85h-0.85zM276.81,556.39h1.71v0.85h-1.71zM279.37,556.39h0.85v0.85h-0.85zM283.64,556.39h5.97v0.85h-5.97zM290.47,556.39h0.85v0.85h-0.85zM292.17,556.39h1.71v0.85h-1.71zM296.44,556.39h1.71v0.85h-1.71zM299,556.39h0.85v0.85h-0.85zM300.71,556.39h3.41v0.85h-3.41zM304.97,556.39h3.41v0.85h-3.41zM310.95,556.39h0.85v0.85h-0.85zM273.4,557.25h0.85v0.85h-0.85zM275.11,557.25h2.56v0.85h-2.56zM278.52,557.25h1.71v0.85h-1.71zM281.08,557.25h0.85v0.85h-0.85zM282.79,557.25h3.41v0.85h-3.41zM287.91,557.25h3.41v0.85h-3.41zM293.03,557.25h1.71v0.85h-1.71zM295.59,557.25h2.56v0.85h-2.56zM299,557.25h0.85v0.85h-0.85zM300.71,557.25h0.85v0.85h-0.85zM302.41,557.25h1.71v0.85h-1.71zM305.83,557.25h0.85v0.85h-0.85zM307.53,557.25h0.85v0.85h-0.85zM310.95,557.25h0.85v0.85h-0.85zM273.4,558.1h0.85v0.85h-0.85zM275.96,558.1h0.85v0.85h-0.85zM277.67,558.1h0.85v0.85h-0.85zM279.37,558.1h2.56v0.85h-2.56zM285.35,558.1h0.85v0.85h-0.85zM288.76,558.1h0.85v0.85h-0.85zM290.47,558.1h1.71v0.85h-1.71zM294.73,558.1h1.71v0.85h-1.71zM297.29,558.1h0.85v0.85h-0.85zM299,558.1h2.56v0.85h-2.56zM302.41,558.1h3.41v0.85h-3.41zM307.53,558.1h4.27v0.85h-4.27zM273.4,558.95h4.27v0.85h-4.27zM278.52,558.95h0.85v0.85h-0.85zM281.93,558.95h1.71v0.85h-1.71zM286.2,558.95h0.85v0.85h-0.85zM287.91,558.95h2.56v0.85h-2.56zM292.17,558.95h1.71v0.85h-1.71zM294.73,558.95h11.09v0.85h-11.09zM309.24,558.95h2.56v0.85h-2.56zM273.4,559.81h0.85v0.85h-0.85zM275.11,559.81h0.85v0.85h-0.85zM281.93,559.81h0.85v0.85h-0.85zM283.64,559.81h0.85v0.85h-0.85zM285.35,559.81h2.56v0.85h-2.56zM288.76,559.81h0.85v0.85h-0.85zM291.32,559.81h0.85v0.85h-0.85zM293.03,559.81h2.56v0.85h-2.56zM296.44,559.81h2.56v0.85h-2.56zM299.85,559.81h1.71v0.85h-1.71zM302.41,559.81h5.12v0.85h-5.12zM308.39,559.81h0.85v0.85h-0.85zM310.09,559.81h0.85v0.85h-0.85zM275.11,560.66h0.85v0.85h-0.85zM276.81,560.66h0.85v0.85h-0.85zM278.52,560.66h1.71v0.85h-1.71zM281.08,560.66h1.71v0.85h-1.71zM283.64,560.66h0.85v0.85h-0.85zM286.2,560.66h0.85v0.85h-0.85zM289.61,560.66h3.41v0.85h-3.41zM293.88,560.66h0.85v0.85h-0.85zM295.59,560.66h1.71v0.85h-1.71zM298.15,560.66h1.71v0.85h-1.71zM300.71,560.66h2.56v0.85h-2.56zM304.12,560.66h0.85v0.85h-0.85zM306.68,560.66h1.71v0.85h-1.71zM309.24,560.66h1.71v0.85h-1.71zM273.4,561.51h2.56v0.85h-2.56zM279.37,561.51h3.41v0.85h-3.41zM283.64,561.51h2.56v0.85h-2.56zM287.05,561.51h0.85v0.85h-0.85zM288.76,561.51h4.27v0.85h-4.27zM293.88,561.51h3.41v0.85h-3.41zM299,561.51h0.85v0.85h-0.85zM301.56,561.51h0.85v0.85h-0.85zM303.27,561.51h2.56v0.85h-2.56zM307.53,561.51h0.85v0.85h-0.85zM309.24,561.51h0.85v0.85h-0.85zM310.95,561.51h0.85v0.85h-0.85zM274.25,562.37h1.71v0.85h-1.71zM276.81,562.37h5.12v0.85h-5.12zM283.64,562.37h2.56v0.85h-2.56zM287.05,562.37h0.85v0.85h-0.85zM289.61,562.37h5.12v0.85h-5.12zM295.59,562.37h1.71v0.85h-1.71zM299,562.37h0.85v0.85h-0.85zM300.71,562.37h0.85v0.85h-0.85zM304.12,562.37h4.27v0.85h-4.27zM309.24,562.37h1.71v0.85h-1.71zM274.25,563.22h1.71v0.85h-1.71zM276.81,563.22h0.85v0.85h-0.85zM280.23,563.22h0.85v0.85h-0.85zM281.93,563.22h1.71v0.85h-1.71zM284.49,563.22h2.56v0.85h-2.56zM288.76,563.22h0.85v0.85h-0.85zM290.47,563.22h0.85v0.85h-0.85zM293.88,563.22h1.71v0.85h-1.71zM296.44,563.22h1.71v0.85h-1.71zM299,563.22h0.85v0.85h-0.85zM300.71,563.22h0.85v0.85h-0.85zM303.27,563.22h1.71v0.85h-1.71zM307.53,563.22h4.27v0.85h-4.27zM275.96,564.07h1.71v0.85h-1.71zM278.52,564.07h0.85v0.85h-0.85zM280.23,564.07h2.56v0.85h-2.56zM284.49,564.07h1.71v0.85h-1.71zM287.91,564.07h3.41v0.85h-3.41zM292.17,564.07h0.85v0.85h-0.85zM293.88,564.07h3.41v0.85h-3.41zM298.15,564.07h0.85v0.85h-0.85zM299.85,564.07h1.71v0.85h-1.71zM302.41,564.07h2.56v0.85h-2.56zM305.83,564.07h0.85v0.85h-0.85zM307.53,564.07h0.85v0.85h-0.85zM309.24,564.07h1.71v0.85h-1.71zM273.4,564.93h1.71v0.85h-1.71zM275.96,564.93h1.71v0.85h-1.71zM280.23,564.93h3.41v0.85h-3.41zM286.2,564.93h0.85v0.85h-0.85zM287.91,564.93h0.85v0.85h-0.85zM290.47,564.93h0.85v0.85h-0.85zM293.88,564.93h1.71v0.85h-1.71zM296.44,564.93h3.41v0.85h-3.41zM302.41,564.93h0.85v0.85h-0.85zM304.12,564.93h0.85v0.85h-0.85zM307.53,564.93h0.85v0.85h-0.85zM309.24,564.93h0.85v0.85h-0.85zM310.95,564.93h0.85v0.85h-0.85zM273.4,565.78h7.68v0.85h-7.68zM281.93,565.78h2.56v0.85h-2.56zM285.35,565.78h0.85v0.85h-0.85zM287.05,565.78h0.85v0.85h-0.85zM288.76,565.78h0.85v0.85h-0.85zM290.47,565.78h4.27v0.85h-4.27zM296.44,565.78h1.71v0.85h-1.71zM299.85,565.78h8.53v0.85h-8.53zM309.24,565.78h1.71v0.85h-1.71zM273.4,566.63h1.71v0.85h-1.71zM275.96,566.63h0.85v0.85h-0.85zM279.37,566.63h3.41v0.85h-3.41zM284.49,566.63h3.41v0.85h-3.41zM288.76,566.63h1.71v0.85h-1.71zM293.88,566.63h1.71v0.85h-1.71zM297.29,566.63h1.71v0.85h-1.71zM299.85,566.63h0.85v0.85h-0.85zM303.27,566.63h0.85v0.85h-0.85zM304.97,566.63h3.41v0.85h-3.41zM309.24,566.63h2.56v0.85h-2.56zM273.4,567.49h1.71v0.85h-1.71zM275.96,567.49h1.71v0.85h-1.71zM278.52,567.49h2.56v0.85h-2.56zM282.79,567.49h0.85v0.85h-0.85zM284.49,567.49h1.71v0.85h-1.71zM287.05,567.49h0.85v0.85h-0.85zM288.76,567.49h0.85v0.85h-0.85zM290.47,567.49h0.85v0.85h-0.85zM293.03,567.49h2.56v0.85h-2.56zM296.44,567.49h4.27v0.85h-4.27zM301.56,567.49h0.85v0.85h-0.85zM303.27,567.49h2.56v0.85h-2.56zM306.68,567.49h0.85v0.85h-0.85zM308.39,567.49h0.85v0.85h-0.85zM310.09,567.49h0.85v0.85h-0.85zM273.4,568.34h0.85v0.85h-0.85zM275.96,568.34h1.71v0.85h-1.71zM279.37,568.34h1.71v0.85h-1.71zM282.79,568.34h0.85v0.85h-0.85zM284.49,568.34h5.12v0.85h-5.12zM290.47,568.34h1.71v0.85h-1.71zM293.03,568.34h1.71v0.85h-1.71zM296.44,568.34h1.71v0.85h-1.71zM299,568.34h3.41v0.85h-3.41zM303.27,568.34h0.85v0.85h-0.85zM304.97,568.34h4.27v0.85h-4.27zM310.09,568.34h1.71v0.85h-1.71zM275.11,569.19h0.85v0.85h-0.85zM276.81,569.19h2.56v0.85h-2.56zM281.08,569.19h1.71v0.85h-1.71zM283.64,569.19h0.85v0.85h-0.85zM286.2,569.19h0.85v0.85h-0.85zM287.91,569.19h0.85v0.85h-0.85zM292.17,569.19h1.71v0.85h-1.71zM294.73,569.19h3.41v0.85h-3.41zM299,569.19h1.71v0.85h-1.71zM301.56,569.19h6.83v0.85h-6.83zM309.24,569.19h1.71v0.85h-1.71zM274.25,570.05h2.56v0.85h-2.56zM279.37,570.05h1.71v0.85h-1.71zM281.93,570.05h2.56v0.85h-2.56zM286.2,570.05h7.68v0.85h-7.68zM296.44,570.05h1.71v0.85h-1.71zM302.41,570.05h1.71v0.85h-1.71zM305.83,570.05h1.71v0.85h-1.71zM309.24,570.05h0.85v0.85h-0.85zM310.95,570.05h0.85v0.85h-0.85zM273.4,570.9h4.27v0.85h-4.27zM278.52,570.9h0.85v0.85h-0.85zM281.08,570.9h4.27v0.85h-4.27zM286.2,570.9h2.56v0.85h-2.56zM291.32,570.9h1.71v0.85h-1.71zM294.73,570.9h1.71v0.85h-1.71zM297.29,570.9h0.85v0.85h-0.85zM299.85,570.9h1.71v0.85h-1.71zM302.41,570.9h0.85v0.85h-0.85zM305.83,570.9h0.85v0.85h-0.85zM307.53,570.9h1.71v0.85h-1.71zM310.09,570.9h1.71v0.85h-1.71zM273.4,571.75h2.56v0.85h-2.56zM279.37,571.75h0.85v0.85h-0.85zM281.08,571.75h0.85v0.85h-0.85zM282.79,571.75h2.56v0.85h-2.56zM287.91,571.75h0.85v0.85h-0.85zM290.47,571.75h1.71v0.85h-1.71zM293.03,571.75h0.85v0.85h-0.85zM294.73,571.75h3.41v0.85h-3.41zM299,571.75h6.83v0.85h-6.83zM306.68,571.75h0.85v0.85h-0.85zM308.39,571.75h3.41v0.85h-3.41zM275.11,572.61h0.85v0.85h-0.85zM278.52,572.61h3.41v0.85h-3.41zM285.35,572.61h3.41v0.85h-3.41zM289.61,572.61h2.56v0.85h-2.56zM293.03,572.61h1.71v0.85h-1.71zM295.59,572.61h0.85v0.85h-0.85zM299.85,572.61h1.71v0.85h-1.71zM302.41,572.61h0.85v0.85h-0.85zM304.12,572.61h1.71v0.85h-1.71zM306.68,572.61h0.85v0.85h-0.85zM308.39,572.61h0.85v0.85h-0.85zM310.09,572.61h1.71v0.85h-1.71zM273.4,573.46h2.56v0.85h-2.56zM280.23,573.46h0.85v0.85h-0.85zM282.79,573.46h3.41v0.85h-3.41zM288.76,573.46h0.85v0.85h-0.85zM292.17,573.46h0.85v0.85h-0.85zM293.88,573.46h8.53v0.85h-8.53zM303.27,573.46h3.41v0.85h-3.41zM307.53,573.46h0.85v0.85h-0.85zM309.24,573.46h0.85v0.85h-0.85zM310.95,573.46h0.85v0.85h-0.85zM273.4,574.31h1.71v0.85h-1.71zM275.96,574.31h1.71v0.85h-1.71zM278.52,574.31h4.27v0.85h-4.27zM285.35,574.31h3.41v0.85h-3.41zM290.47,574.31h1.71v0.85h-1.71zM293.03,574.31h1.71v0.85h-1.71zM295.59,574.31h3.41v0.85h-3.41zM302.41,574.31h0.85v0.85h-0.85zM305.83,574.31h0.85v0.85h-0.85zM307.53,574.31h1.71v0.85h-1.71zM273.4,575.17h2.56v0.85h-2.56zM276.81,575.17h1.71v0.85h-1.71zM280.23,575.17h5.97v0.85h-5.97zM287.91,575.17h1.71v0.85h-1.71zM290.47,575.17h2.56v0.85h-2.56zM293.88,575.17h1.71v0.85h-1.71zM297.29,575.17h0.85v0.85h-0.85zM299.85,575.17h1.71v0.85h-1.71zM303.27,575.17h0.85v0.85h-0.85zM304.97,575.17h3.41v0.85h-3.41zM309.24,575.17h1.71v0.85h-1.71zM274.25,576.02h3.41v0.85h-3.41zM278.52,576.02h0.85v0.85h-0.85zM281.08,576.02h0.85v0.85h-0.85zM282.79,576.02h5.12v0.85h-5.12zM290.47,576.02h5.97v0.85h-5.97zM297.29,576.02h1.71v0.85h-1.71zM300.71,576.02h8.53v0.85h-8.53zM310.95,576.02h0.85v0.85h-0.85zM280.23,576.87h3.41v0.85h-3.41zM284.49,576.87h2.56v0.85h-2.56zM287.91,576.87h0.85v0.85h-0.85zM289.61,576.87h1.71v0.85h-1.71zM293.88,576.87h0.85v0.85h-0.85zM295.59,576.87h1.71v0.85h-1.71zM299,576.87h1.71v0.85h-1.71zM301.56,576.87h1.71v0.85h-1.71zM304.12,576.87h0.85v0.85h-0.85zM307.53,576.87h0.85v0.85h-0.85zM310.09,576.87h1.71v0.85h-1.71zM273.4,577.73h5.97v0.85h-5.97zM282.79,577.73h2.56v0.85h-2.56zM287.05,577.73h1.71v0.85h-1.71zM289.61,577.73h1.71v0.85h-1.71zM292.17,577.73h0.85v0.85h-0.85zM293.88,577.73h0.85v0.85h-0.85zM295.59,577.73h0.85v0.85h-0.85zM297.29,577.73h0.85v0.85h-0.85zM299,577.73h1.71v0.85h-1.71zM304.12,577.73h0.85v0.85h-0.85zM305.83,577.73h0.85v0.85h-0.85zM307.53,577.73h4.27v0.85h-4.27zM273.4,578.58h0.85v0.85h-0.85zM278.52,578.58h0.85v0.85h-0.85zM280.23,578.58h2.56v0.85h-2.56zM283.64,578.58h0.85v0.85h-0.85zM287.05,578.58h0.85v0.85h-0.85zM289.61,578.58h1.71v0.85h-1.71zM293.88,578.58h2.56v0.85h-2.56zM298.15,578.58h0.85v0.85h-0.85zM299.85,578.58h5.12v0.85h-5.12zM307.53,578.58h0.85v0.85h-0.85zM309.24,578.58h0.85v0.85h-0.85zM310.95,578.58h0.85v0.85h-0.85zM273.4,579.43h0.85v0.85h-0.85zM275.11,579.43h2.56v0.85h-2.56zM278.52,579.43h0.85v0.85h-0.85zM280.23,579.43h2.56v0.85h-2.56zM283.64,579.43h0.85v0.85h-0.85zM285.35,579.43h1.71v0.85h-1.71zM287.91,579.43h0.85v0.85h-0.85zM289.61,579.43h5.12v0.85h-5.12zM295.59,579.43h0.85v0.85h-0.85zM298.15,579.43h1.71v0.85h-1.71zM301.56,579.43h1.71v0.85h-1.71zM304.12,579.43h4.27v0.85h-4.27zM310.95,579.43h0.85v0.85h-0.85zM273.4,580.29h0.85v0.85h-0.85zM275.11,580.29h2.56v0.85h-2.56zM278.52,580.29h0.85v0.85h-0.85zM281.08,580.29h0.85v0.85h-0.85zM282.79,580.29h0.85v0.85h-0.85zM284.49,580.29h7.68v0.85h-7.68zM293.03,580.29h3.41v0.85h-3.41zM297.29,580.29h1.71v0.85h-1.71zM299.85,580.29h0.85v0.85h-0.85zM302.41,580.29h3.41v0.85h-3.41zM307.53,580.29h4.27v0.85h-4.27zM273.4,581.14h0.85v0.85h-0.85zM275.11,581.14h2.56v0.85h-2.56zM278.52,581.14h0.85v0.85h-0.85zM280.23,581.14h2.56v0.85h-2.56zM283.64,581.14h0.85v0.85h-0.85zM285.35,581.14h3.41v0.85h-3.41zM289.61,581.14h1.71v0.85h-1.71zM292.17,581.14h0.85v0.85h-0.85zM293.88,581.14h4.27v0.85h-4.27zM299,581.14h0.85v0.85h-0.85zM300.71,581.14h1.71v0.85h-1.71zM303.27,581.14h1.71v0.85h-1.71zM306.68,581.14h5.12v0.85h-5.12zM273.4,581.99h0.85v0.85h-0.85zM278.52,581.99h0.85v0.85h-0.85zM281.93,581.99h1.71v0.85h-1.71zM284.49,581.99h1.71v0.85h-1.71zM293.03,581.99h3.41v0.85h-3.41zM297.29,581.99h1.71v0.85h-1.71zM299.85,581.99h0.85v0.85h-0.85zM303.27,581.99h5.12v0.85h-5.12zM310.09,581.99h0.85v0.85h-0.85zM273.4,582.85h5.97v0.85h-5.97zM280.23,582.85h1.71v0.85h-1.71zM282.79,582.85h4.27v0.85h-4.27zM287.91,582.85h0.85v0.85h-0.85zM289.61,582.85h3.41v0.85h-3.41zM297.29,582.85h2.56v0.85h-2.56zM300.71,582.85h0.85v0.85h-0.85zM302.41,582.85h0.85v0.85h-0.85zM304.12,582.85h0.85v0.85h-0.85zM306.68,582.85h0.85v0.85h-0.85zM309.24,582.85h2.56v0.85h-2.56z" fill="#111"/><rect x="273.2" y="545.1" width="6.8" height="6.8" fill="#fff"/><rect x="273.92" y="545.82" width="4.66" height="4.66" fill="none" stroke="#111" stroke-width="1.05"/><rect x="275.15" y="547.05" width="2.2" height="2.2" fill="#111"/><rect x="305.2" y="545.1" width="6.8" height="6.8" fill="#fff"/><rect x="306.62" y="545.82" width="4.66" height="4.66" fill="none" stroke="#111" stroke-width="1.05"/><rect x="307.85" y="547.05" width="2.2" height="2.2" fill="#111"/><rect x="273.2" y="577.1" width="6.8" height="6.8" fill="#fff"/><rect x="273.92" y="578.52" width="4.66" height="4.66" fill="none" stroke="#111" stroke-width="1.05"/><rect x="275.15" y="579.75" width="2.2" height="2.2" fill="#111"/>
<path d="M219.4,609.2h5.97v0.85h-5.97zM227.08,609.2h4.27v0.85h-4.27zM233.05,609.2h2.56v0.85h-2.56zM241.59,609.2h0.85v0.85h-0.85zM243.29,609.2h0.85v0.85h-0.85zM245,609.2h5.12v0.85h-5.12zM251.83,609.2h5.97v0.85h-5.97zM219.4,610.05h0.85v0.85h-0.85zM224.52,610.05h0.85v0.85h-0.85zM226.23,610.05h5.12v0.85h-5.12zM233.05,610.05h0.85v0.85h-0.85zM235.61,610.05h1.71v0.85h-1.71zM239.88,610.05h1.71v0.85h-1.71zM244.15,610.05h0.85v0.85h-0.85zM245.85,610.05h0.85v0.85h-0.85zM247.56,610.05h0.85v0.85h-0.85zM251.83,610.05h0.85v0.85h-0.85zM256.95,610.05h0.85v0.85h-0.85zM219.4,610.91h0.85v0.85h-0.85zM221.11,610.91h2.56v0.85h-2.56zM224.52,610.91h0.85v0.85h-0.85zM226.23,610.91h4.27v0.85h-4.27zM231.35,610.91h5.97v0.85h-5.97zM238.17,610.91h2.56v0.85h-2.56zM241.59,610.91h1.71v0.85h-1.71zM244.15,610.91h2.56v0.85h-2.56zM248.41,610.91h0.85v0.85h-0.85zM251.83,610.91h0.85v0.85h-0.85zM253.53,610.91h2.56v0.85h-2.56zM256.95,610.91h0.85v0.85h-0.85zM219.4,611.76h0.85v0.85h-0.85zM221.11,611.76h2.56v0.85h-2.56zM224.52,611.76h0.85v0.85h-0.85zM226.23,611.76h4.27v0.85h-4.27zM231.35,611.76h0.85v0.85h-0.85zM233.05,611.76h5.97v0.85h-5.97zM240.73,611.76h2.56v0.85h-2.56zM244.15,611.76h0.85v0.85h-0.85zM245.85,611.76h3.41v0.85h-3.41zM250.12,611.76h0.85v0.85h-0.85zM251.83,611.76h0.85v0.85h-0.85zM253.53,611.76h2.56v0.85h-2.56zM256.95,611.76h0.85v0.85h-0.85zM219.4,612.61h0.85v0.85h-0.85zM221.11,612.61h2.56v0.85h-2.56zM224.52,612.61h0.85v0.85h-0.85zM226.23,612.61h1.71v0.85h-1.71zM228.79,612.61h1.71v0.85h-1.71zM231.35,612.61h3.41v0.85h-3.41zM235.61,612.61h5.12v0.85h-5.12zM243.29,612.61h0.85v0.85h-0.85zM245,612.61h1.71v0.85h-1.71zM247.56,612.61h1.71v0.85h-1.71zM250.12,612.61h0.85v0.85h-0.85zM251.83,612.61h0.85v0.85h-0.85zM253.53,612.61h2.56v0.85h-2.56zM256.95,612.61h0.85v0.85h-0.85zM219.4,613.47h0.85v0.85h-0.85zM224.52,613.47h0.85v0.85h-0.85zM226.23,613.47h5.12v0.85h-5.12zM232.2,613.47h3.41v0.85h-3.41zM236.47,613.47h0.85v0.85h-0.85zM239.88,613.47h0.85v0.85h-0.85zM241.59,613.47h0.85v0.85h-0.85zM243.29,613.47h0.85v0.85h-0.85zM245,613.47h0.85v0.85h-0.85zM246.71,613.47h2.56v0.85h-2.56zM250.12,613.47h0.85v0.85h-0.85zM251.83,613.47h0.85v0.85h-0.85zM256.95,613.47h0.85v0.85h-0.85zM219.4,614.32h5.97v0.85h-5.97zM226.23,614.32h0.85v0.85h-0.85zM227.93,614.32h0.85v0.85h-0.85zM229.64,614.32h0.85v0.85h-0.85zM231.35,614.32h0.85v0.85h-0.85zM233.05,614.32h0.85v0.85h-0.85zM234.76,614.32h0.85v0.85h-0.85zM236.47,614.32h0.85v0.85h-0.85zM238.17,614.32h0.85v0.85h-0.85zM239.88,614.32h0.85v0.85h-0.85zM241.59,614.32h0.85v0.85h-0.85zM243.29,614.32h0.85v0.85h-0.85zM245,614.32h0.85v0.85h-0.85zM246.71,614.32h0.85v0.85h-0.85zM248.41,614.32h0.85v0.85h-0.85zM250.12,614.32h0.85v0.85h-0.85zM251.83,614.32h5.97v0.85h-5.97zM227.08,615.17h0.85v0.85h-0.85zM228.79,615.17h1.71v0.85h-1.71zM231.35,615.17h5.97v0.85h-5.97zM239.88,615.17h1.71v0.85h-1.71zM246.71,615.17h1.71v0.85h-1.71zM249.27,615.17h1.71v0.85h-1.71zM219.4,616.03h0.85v0.85h-0.85zM221.11,616.03h0.85v0.85h-0.85zM222.81,616.03h0.85v0.85h-0.85zM224.52,616.03h0.85v0.85h-0.85zM227.08,616.03h0.85v0.85h-0.85zM228.79,616.03h4.27v0.85h-4.27zM233.91,616.03h1.71v0.85h-1.71zM236.47,616.03h5.97v0.85h-5.97zM244.15,616.03h5.97v0.85h-5.97zM250.97,616.03h1.71v0.85h-1.71zM254.39,616.03h0.85v0.85h-0.85zM256.09,616.03h0.85v0.85h-0.85zM221.11,616.88h0.85v0.85h-0.85zM222.81,616.88h1.71v0.85h-1.71zM226.23,616.88h1.71v0.85h-1.71zM228.79,616.88h4.27v0.85h-4.27zM233.91,616.88h1.71v0.85h-1.71zM236.47,616.88h1.71v0.85h-1.71zM241.59,616.88h5.12v0.85h-5.12zM247.56,616.88h1.71v0.85h-1.71zM250.12,616.88h0.85v0.85h-0.85zM251.83,616.88h0.85v0.85h-0.85zM253.53,616.88h3.41v0.85h-3.41zM220.25,617.73h2.56v0.85h-2.56zM223.67,617.73h1.71v0.85h-1.71zM226.23,617.73h0.85v0.85h-0.85zM227.93,617.73h0.85v0.85h-0.85zM229.64,617.73h0.85v0.85h-0.85zM231.35,617.73h1.71v0.85h-1.71zM233.91,617.73h2.56v0.85h-2.56zM238.17,617.73h2.56v0.85h-2.56zM242.44,617.73h1.71v0.85h-1.71zM245,617.73h0.85v0.85h-0.85zM246.71,617.73h0.85v0.85h-0.85zM248.41,617.73h0.85v0.85h-0.85zM250.97,617.73h2.56v0.85h-2.56zM256.09,617.73h0.85v0.85h-0.85zM219.4,618.59h2.56v0.85h-2.56zM222.81,618.59h1.71v0.85h-1.71zM225.37,618.59h2.56v0.85h-2.56zM232.2,618.59h0.85v0.85h-0.85zM234.76,618.59h3.41v0.85h-3.41zM239.88,618.59h1.71v0.85h-1.71zM242.44,618.59h1.71v0.85h-1.71zM245,618.59h2.56v0.85h-2.56zM248.41,618.59h2.56v0.85h-2.56zM252.68,618.59h0.85v0.85h-0.85zM254.39,618.59h3.41v0.85h-3.41zM221.11,619.44h0.85v0.85h-0.85zM222.81,619.44h3.41v0.85h-3.41zM227.08,619.44h1.71v0.85h-1.71zM229.64,619.44h1.71v0.85h-1.71zM232.2,619.44h1.71v0.85h-1.71zM236.47,619.44h1.71v0.85h-1.71zM239.03,619.44h0.85v0.85h-0.85zM240.73,619.44h0.85v0.85h-0.85zM243.29,619.44h0.85v0.85h-0.85zM245,619.44h0.85v0.85h-0.85zM249.27,619.44h0.85v0.85h-0.85zM250.97,619.44h3.41v0.85h-3.41zM255.24,619.44h0.85v0.85h-0.85zM256.95,619.44h0.85v0.85h-0.85zM219.4,620.29h5.12v0.85h-5.12zM225.37,620.29h0.85v0.85h-0.85zM227.08,620.29h1.71v0.85h-1.71zM229.64,620.29h1.71v0.85h-1.71zM233.05,620.29h0.85v0.85h-0.85zM234.76,620.29h2.56v0.85h-2.56zM239.88,620.29h0.85v0.85h-0.85zM241.59,620.29h0.85v0.85h-0.85zM243.29,620.29h1.71v0.85h-1.71zM247.56,620.29h0.85v0.85h-0.85zM249.27,620.29h2.56v0.85h-2.56zM252.68,620.29h2.56v0.85h-2.56zM220.25,621.15h0.85v0.85h-0.85zM221.96,621.15h0.85v0.85h-0.85zM224.52,621.15h0.85v0.85h-0.85zM226.23,621.15h1.71v0.85h-1.71zM228.79,621.15h4.27v0.85h-4.27zM234.76,621.15h0.85v0.85h-0.85zM236.47,621.15h4.27v0.85h-4.27zM241.59,621.15h3.41v0.85h-3.41zM246.71,621.15h5.97v0.85h-5.97zM253.53,621.15h2.56v0.85h-2.56zM256.95,621.15h0.85v0.85h-0.85zM221.96,622h2.56v0.85h-2.56zM226.23,622h1.71v0.85h-1.71zM231.35,622h0.85v0.85h-0.85zM233.05,622h0.85v0.85h-0.85zM234.76,622h4.27v0.85h-4.27zM239.88,622h4.27v0.85h-4.27zM245.85,622h2.56v0.85h-2.56zM249.27,622h5.12v0.85h-5.12zM256.09,622h1.71v0.85h-1.71zM219.4,622.85h10.24v0.85h-10.24zM230.49,622.85h3.41v0.85h-3.41zM236.47,622.85h4.27v0.85h-4.27zM241.59,622.85h0.85v0.85h-0.85zM243.29,622.85h1.71v0.85h-1.71zM245.85,622.85h1.71v0.85h-1.71zM248.41,622.85h0.85v0.85h-0.85zM250.12,622.85h0.85v0.85h-0.85zM252.68,622.85h1.71v0.85h-1.71zM219.4,623.71h4.27v0.85h-4.27zM225.37,623.71h2.56v0.85h-2.56zM230.49,623.71h1.71v0.85h-1.71zM233.05,623.71h0.85v0.85h-0.85zM234.76,623.71h2.56v0.85h-2.56zM239.88,623.71h0.85v0.85h-0.85zM242.44,623.71h4.27v0.85h-4.27zM247.56,623.71h3.41v0.85h-3.41zM251.83,623.71h1.71v0.85h-1.71zM255.24,623.71h2.56v0.85h-2.56zM220.25,624.56h1.71v0.85h-1.71zM222.81,624.56h2.56v0.85h-2.56zM226.23,624.56h0.85v0.85h-0.85zM228.79,624.56h2.56v0.85h-2.56zM232.2,624.56h2.56v0.85h-2.56zM235.61,624.56h0.85v0.85h-0.85zM238.17,624.56h5.97v0.85h-5.97zM245,624.56h0.85v0.85h-0.85zM248.41,624.56h2.56v0.85h-2.56zM254.39,624.56h0.85v0.85h-0.85zM219.4,625.41h0.85v0.85h-0.85zM221.11,625.41h3.41v0.85h-3.41zM225.37,625.41h5.97v0.85h-5.97zM233.05,625.41h0.85v0.85h-0.85zM234.76,625.41h1.71v0.85h-1.71zM237.32,625.41h4.27v0.85h-4.27zM242.44,625.41h3.41v0.85h-3.41zM246.71,625.41h2.56v0.85h-2.56zM250.97,625.41h0.85v0.85h-0.85zM252.68,625.41h2.56v0.85h-2.56zM221.11,626.27h5.97v0.85h-5.97zM227.93,626.27h2.56v0.85h-2.56zM231.35,626.27h1.71v0.85h-1.71zM233.91,626.27h0.85v0.85h-0.85zM235.61,626.27h5.12v0.85h-5.12zM242.44,626.27h2.56v0.85h-2.56zM248.41,626.27h6.83v0.85h-6.83zM256.95,626.27h0.85v0.85h-0.85zM219.4,627.12h0.85v0.85h-0.85zM221.96,627.12h1.71v0.85h-1.71zM226.23,627.12h2.56v0.85h-2.56zM229.64,627.12h7.68v0.85h-7.68zM239.88,627.12h0.85v0.85h-0.85zM241.59,627.12h1.71v0.85h-1.71zM244.15,627.12h0.85v0.85h-0.85zM245.85,627.12h2.56v0.85h-2.56zM249.27,627.12h1.71v0.85h-1.71zM253.53,627.12h3.41v0.85h-3.41zM219.4,627.97h0.85v0.85h-0.85zM221.11,627.97h0.85v0.85h-0.85zM222.81,627.97h0.85v0.85h-0.85zM224.52,627.97h0.85v0.85h-0.85zM226.23,627.97h4.27v0.85h-4.27zM231.35,627.97h0.85v0.85h-0.85zM236.47,627.97h0.85v0.85h-0.85zM238.17,627.97h0.85v0.85h-0.85zM239.88,627.97h2.56v0.85h-2.56zM245,627.97h0.85v0.85h-0.85zM247.56,627.97h0.85v0.85h-0.85zM249.27,627.97h1.71v0.85h-1.71zM251.83,627.97h0.85v0.85h-0.85zM253.53,627.97h1.71v0.85h-1.71zM256.09,627.97h1.71v0.85h-1.71zM221.11,628.83h0.85v0.85h-0.85zM222.81,628.83h0.85v0.85h-0.85zM226.23,628.83h8.53v0.85h-8.53zM235.61,628.83h1.71v0.85h-1.71zM239.88,628.83h2.56v0.85h-2.56zM246.71,628.83h0.85v0.85h-0.85zM248.41,628.83h2.56v0.85h-2.56zM253.53,628.83h0.85v0.85h-0.85zM255.24,628.83h2.56v0.85h-2.56zM220.25,629.68h1.71v0.85h-1.71zM222.81,629.68h7.68v0.85h-7.68zM231.35,629.68h2.56v0.85h-2.56zM235.61,629.68h7.68v0.85h-7.68zM244.15,629.68h3.41v0.85h-3.41zM248.41,629.68h0.85v0.85h-0.85zM250.12,629.68h5.12v0.85h-5.12zM256.09,629.68h1.71v0.85h-1.71zM221.11,630.53h2.56v0.85h-2.56zM227.93,630.53h1.71v0.85h-1.71zM233.05,630.53h5.97v0.85h-5.97zM240.73,630.53h0.85v0.85h-0.85zM245.85,630.53h0.85v0.85h-0.85zM247.56,630.53h0.85v0.85h-0.85zM249.27,630.53h0.85v0.85h-0.85zM250.97,630.53h1.71v0.85h-1.71zM253.53,630.53h0.85v0.85h-0.85zM255.24,630.53h2.56v0.85h-2.56zM219.4,631.39h0.85v0.85h-0.85zM221.11,631.39h0.85v0.85h-0.85zM222.81,631.39h2.56v0.85h-2.56zM227.93,631.39h0.85v0.85h-0.85zM230.49,631.39h7.68v0.85h-7.68zM240.73,631.39h8.53v0.85h-8.53zM250.97,631.39h1.71v0.85h-1.71zM253.53,631.39h0.85v0.85h-0.85zM255.24,631.39h0.85v0.85h-0.85zM219.4,632.24h1.71v0.85h-1.71zM221.96,632.24h2.56v0.85h-2.56zM225.37,632.24h0.85v0.85h-0.85zM227.08,632.24h1.71v0.85h-1.71zM230.49,632.24h1.71v0.85h-1.71zM233.05,632.24h0.85v0.85h-0.85zM234.76,632.24h2.56v0.85h-2.56zM238.17,632.24h0.85v0.85h-0.85zM241.59,632.24h4.27v0.85h-4.27zM246.71,632.24h3.41v0.85h-3.41zM250.97,632.24h1.71v0.85h-1.71zM254.39,632.24h0.85v0.85h-0.85zM256.95,632.24h0.85v0.85h-0.85zM219.4,633.09h0.85v0.85h-0.85zM221.11,633.09h1.71v0.85h-1.71zM224.52,633.09h0.85v0.85h-0.85zM227.93,633.09h0.85v0.85h-0.85zM229.64,633.09h3.41v0.85h-3.41zM234.76,633.09h1.71v0.85h-1.71zM237.32,633.09h3.41v0.85h-3.41zM244.15,633.09h0.85v0.85h-0.85zM245.85,633.09h1.71v0.85h-1.71zM248.41,633.09h2.56v0.85h-2.56zM251.83,633.09h0.85v0.85h-0.85zM253.53,633.09h0.85v0.85h-0.85zM255.24,633.09h0.85v0.85h-0.85zM219.4,633.95h2.56v0.85h-2.56zM222.81,633.95h1.71v0.85h-1.71zM225.37,633.95h0.85v0.85h-0.85zM227.08,633.95h0.85v0.85h-0.85zM229.64,633.95h6.83v0.85h-6.83zM237.32,633.95h1.71v0.85h-1.71zM239.88,633.95h1.71v0.85h-1.71zM243.29,633.95h1.71v0.85h-1.71zM245.85,633.95h2.56v0.85h-2.56zM249.27,633.95h1.71v0.85h-1.71zM251.83,633.95h2.56v0.85h-2.56zM255.24,633.95h1.71v0.85h-1.71zM219.4,634.8h2.56v0.85h-2.56zM222.81,634.8h3.41v0.85h-3.41zM227.08,634.8h2.56v0.85h-2.56zM230.49,634.8h0.85v0.85h-0.85zM236.47,634.8h1.71v0.85h-1.71zM239.03,634.8h1.71v0.85h-1.71zM241.59,634.8h1.71v0.85h-1.71zM244.15,634.8h1.71v0.85h-1.71zM246.71,634.8h0.85v0.85h-0.85zM248.41,634.8h2.56v0.85h-2.56zM253.53,634.8h0.85v0.85h-0.85zM255.24,634.8h2.56v0.85h-2.56zM220.25,635.65h1.71v0.85h-1.71zM222.81,635.65h0.85v0.85h-0.85zM225.37,635.65h0.85v0.85h-0.85zM227.08,635.65h0.85v0.85h-0.85zM229.64,635.65h4.27v0.85h-4.27zM235.61,635.65h1.71v0.85h-1.71zM242.44,635.65h5.12v0.85h-5.12zM250.12,635.65h1.71v0.85h-1.71zM252.68,635.65h2.56v0.85h-2.56zM256.09,635.65h1.71v0.85h-1.71zM220.25,636.51h2.56v0.85h-2.56zM223.67,636.51h1.71v0.85h-1.71zM226.23,636.51h3.41v0.85h-3.41zM232.2,636.51h1.71v0.85h-1.71zM235.61,636.51h0.85v0.85h-0.85zM237.32,636.51h1.71v0.85h-1.71zM243.29,636.51h0.85v0.85h-0.85zM245,636.51h0.85v0.85h-0.85zM247.56,636.51h1.71v0.85h-1.71zM250.97,636.51h0.85v0.85h-0.85zM253.53,636.51h3.41v0.85h-3.41zM219.4,637.36h0.85v0.85h-0.85zM221.11,637.36h2.56v0.85h-2.56zM225.37,637.36h0.85v0.85h-0.85zM227.93,637.36h2.56v0.85h-2.56zM232.2,637.36h0.85v0.85h-0.85zM233.91,637.36h0.85v0.85h-0.85zM235.61,637.36h0.85v0.85h-0.85zM237.32,637.36h2.56v0.85h-2.56zM240.73,637.36h0.85v0.85h-0.85zM244.15,637.36h2.56v0.85h-2.56zM247.56,637.36h0.85v0.85h-0.85zM249.27,637.36h2.56v0.85h-2.56zM252.68,637.36h2.56v0.85h-2.56zM256.95,637.36h0.85v0.85h-0.85zM219.4,638.21h1.71v0.85h-1.71zM221.96,638.21h0.85v0.85h-0.85zM223.67,638.21h3.41v0.85h-3.41zM228.79,638.21h5.12v0.85h-5.12zM234.76,638.21h5.12v0.85h-5.12zM240.73,638.21h2.56v0.85h-2.56zM244.15,638.21h4.27v0.85h-4.27zM249.27,638.21h0.85v0.85h-0.85zM250.97,638.21h1.71v0.85h-1.71zM256.09,638.21h1.71v0.85h-1.71zM220.25,639.07h1.71v0.85h-1.71zM222.81,639.07h0.85v0.85h-0.85zM227.08,639.07h0.85v0.85h-0.85zM230.49,639.07h0.85v0.85h-0.85zM232.2,639.07h0.85v0.85h-0.85zM234.76,639.07h0.85v0.85h-0.85zM236.47,639.07h5.12v0.85h-5.12zM242.44,639.07h3.41v0.85h-3.41zM246.71,639.07h1.71v0.85h-1.71zM249.27,639.07h1.71v0.85h-1.71zM253.53,639.07h1.71v0.85h-1.71zM220.25,639.92h0.85v0.85h-0.85zM222.81,639.92h0.85v0.85h-0.85zM224.52,639.92h1.71v0.85h-1.71zM227.08,639.92h4.27v0.85h-4.27zM232.2,639.92h3.41v0.85h-3.41zM236.47,639.92h5.12v0.85h-5.12zM242.44,639.92h5.12v0.85h-5.12zM250.12,639.92h4.27v0.85h-4.27zM255.24,639.92h0.85v0.85h-0.85zM256.95,639.92h0.85v0.85h-0.85zM227.08,640.77h0.85v0.85h-0.85zM228.79,640.77h1.71v0.85h-1.71zM231.35,640.77h0.85v0.85h-0.85zM233.05,640.77h1.71v0.85h-1.71zM235.61,640.77h1.71v0.85h-1.71zM239.88,640.77h1.71v0.85h-1.71zM242.44,640.77h0.85v0.85h-0.85zM244.15,640.77h1.71v0.85h-1.71zM247.56,640.77h1.71v0.85h-1.71zM250.12,640.77h0.85v0.85h-0.85zM253.53,640.77h4.27v0.85h-4.27zM219.4,641.63h5.97v0.85h-5.97zM226.23,641.63h0.85v0.85h-0.85zM227.93,641.63h5.12v0.85h-5.12zM233.91,641.63h1.71v0.85h-1.71zM236.47,641.63h0.85v0.85h-0.85zM238.17,641.63h0.85v0.85h-0.85zM239.88,641.63h1.71v0.85h-1.71zM244.15,641.63h2.56v0.85h-2.56zM247.56,641.63h0.85v0.85h-0.85zM250.12,641.63h0.85v0.85h-0.85zM251.83,641.63h0.85v0.85h-0.85zM253.53,641.63h0.85v0.85h-0.85zM255.24,641.63h1.71v0.85h-1.71zM219.4,642.48h0.85v0.85h-0.85zM224.52,642.48h0.85v0.85h-0.85zM227.08,642.48h0.85v0.85h-0.85zM228.79,642.48h2.56v0.85h-2.56zM232.2,642.48h1.71v0.85h-1.71zM235.61,642.48h1.71v0.85h-1.71zM239.88,642.48h5.12v0.85h-5.12zM245.85,642.48h0.85v0.85h-0.85zM248.41,642.48h0.85v0.85h-0.85zM250.12,642.48h0.85v0.85h-0.85zM253.53,642.48h2.56v0.85h-2.56zM219.4,643.33h0.85v0.85h-0.85zM221.11,643.33h2.56v0.85h-2.56zM224.52,643.33h0.85v0.85h-0.85zM226.23,643.33h0.85v0.85h-0.85zM227.93,643.33h2.56v0.85h-2.56zM233.91,643.33h0.85v0.85h-0.85zM235.61,643.33h5.97v0.85h-5.97zM242.44,643.33h0.85v0.85h-0.85zM244.15,643.33h2.56v0.85h-2.56zM249.27,643.33h5.97v0.85h-5.97zM256.09,643.33h1.71v0.85h-1.71zM219.4,644.19h0.85v0.85h-0.85zM221.11,644.19h2.56v0.85h-2.56zM224.52,644.19h0.85v0.85h-0.85zM226.23,644.19h5.12v0.85h-5.12zM233.05,644.19h0.85v0.85h-0.85zM234.76,644.19h6.83v0.85h-6.83zM242.44,644.19h1.71v0.85h-1.71zM247.56,644.19h6.83v0.85h-6.83zM219.4,645.04h0.85v0.85h-0.85zM221.11,645.04h2.56v0.85h-2.56zM224.52,645.04h0.85v0.85h-0.85zM227.93,645.04h0.85v0.85h-0.85zM229.64,645.04h1.71v0.85h-1.71zM232.2,645.04h1.71v0.85h-1.71zM237.32,645.04h0.85v0.85h-0.85zM239.88,645.04h2.56v0.85h-2.56zM244.15,645.04h0.85v0.85h-0.85zM247.56,645.04h2.56v0.85h-2.56zM252.68,645.04h0.85v0.85h-0.85zM254.39,645.04h3.41v0.85h-3.41zM219.4,645.89h0.85v0.85h-0.85zM224.52,645.89h0.85v0.85h-0.85zM226.23,645.89h1.71v0.85h-1.71zM228.79,645.89h1.71v0.85h-1.71zM233.05,645.89h9.39v0.85h-9.39zM244.15,645.89h0.85v0.85h-0.85zM246.71,645.89h2.56v0.85h-2.56zM250.97,645.89h0.85v0.85h-0.85zM253.53,645.89h3.41v0.85h-3.41zM219.4,646.75h5.97v0.85h-5.97zM226.23,646.75h1.71v0.85h-1.71zM228.79,646.75h1.71v0.85h-1.71zM231.35,646.75h0.85v0.85h-0.85zM233.05,646.75h1.71v0.85h-1.71zM235.61,646.75h0.85v0.85h-0.85zM237.32,646.75h0.85v0.85h-0.85zM241.59,646.75h2.56v0.85h-2.56zM245,646.75h1.71v0.85h-1.71zM250.97,646.75h1.71v0.85h-1.71zM253.53,646.75h2.56v0.85h-2.56zM256.95,646.75h0.85v0.85h-0.85z" fill="#111"/><rect x="219.2" y="609" width="6.8" height="6.8" fill="#fff"/><rect x="219.92" y="609.72" width="4.66" height="4.66" fill="none" stroke="#111" stroke-width="1.05"/><rect x="221.15" y="610.95" width="2.2" height="2.2" fill="#111"/><rect x="251.2" y="609" width="6.8" height="6.8" fill="#fff"/><rect x="252.62" y="609.72" width="4.66" height="4.66" fill="none" stroke="#111" stroke-width="1.05"/><rect x="253.85" y="610.95" width="2.2" height="2.2" fill="#111"/><rect x="219.2" y="641" width="6.8" height="6.8" fill="#fff"/><rect x="219.92" y="642.42" width="4.66" height="4.66" fill="none" stroke="#111" stroke-width="1.05"/><rect x="221.15" y="643.65" width="2.2" height="2.2" fill="#111"/>
<path d="M273.4,609.2h5.97v0.85h-5.97zM280.23,609.2h0.85v0.85h-0.85zM281.93,609.2h0.85v0.85h-0.85zM283.64,609.2h1.71v0.85h-1.71zM286.2,609.2h1.71v0.85h-1.71zM289.61,609.2h1.71v0.85h-1.71zM292.17,609.2h0.85v0.85h-0.85zM293.88,609.2h3.41v0.85h-3.41zM298.15,609.2h0.85v0.85h-0.85zM299.85,609.2h0.85v0.85h-0.85zM303.27,609.2h1.71v0.85h-1.71zM305.83,609.2h5.97v0.85h-5.97zM273.4,610.05h0.85v0.85h-0.85zM278.52,610.05h0.85v0.85h-0.85zM280.23,610.05h3.41v0.85h-3.41zM284.49,610.05h6.83v0.85h-6.83zM293.03,610.05h1.71v0.85h-1.71zM295.59,610.05h1.71v0.85h-1.71zM299,610.05h2.56v0.85h-2.56zM302.41,610.05h2.56v0.85h-2.56zM305.83,610.05h0.85v0.85h-0.85zM310.95,610.05h0.85v0.85h-0.85zM273.4,610.91h0.85v0.85h-0.85zM275.11,610.91h2.56v0.85h-2.56zM278.52,610.91h0.85v0.85h-0.85zM281.08,610.91h1.71v0.85h-1.71zM284.49,610.91h0.85v0.85h-0.85zM286.2,610.91h2.56v0.85h-2.56zM290.47,610.91h0.85v0.85h-0.85zM292.17,610.91h1.71v0.85h-1.71zM294.73,610.91h0.85v0.85h-0.85zM296.44,610.91h0.85v0.85h-0.85zM299,610.91h0.85v0.85h-0.85zM300.71,610.91h4.27v0.85h-4.27zM305.83,610.91h0.85v0.85h-0.85zM307.53,610.91h2.56v0.85h-2.56zM310.95,610.91h0.85v0.85h-0.85zM273.4,611.76h0.85v0.85h-0.85zM275.11,611.76h2.56v0.85h-2.56zM278.52,611.76h0.85v0.85h-0.85zM280.23,611.76h0.85v0.85h-0.85zM282.79,611.76h0.85v0.85h-0.85zM285.35,611.76h4.27v0.85h-4.27zM291.32,611.76h0.85v0.85h-0.85zM293.88,611.76h1.71v0.85h-1.71zM296.44,611.76h0.85v0.85h-0.85zM300.71,611.76h0.85v0.85h-0.85zM302.41,611.76h2.56v0.85h-2.56zM305.83,611.76h0.85v0.85h-0.85zM307.53,611.76h2.56v0.85h-2.56zM310.95,611.76h0.85v0.85h-0.85zM273.4,612.61h0.85v0.85h-0.85zM275.11,612.61h2.56v0.85h-2.56zM278.52,612.61h0.85v0.85h-0.85zM281.93,612.61h2.56v0.85h-2.56zM285.35,612.61h1.71v0.85h-1.71zM290.47,612.61h5.97v0.85h-5.97zM297.29,612.61h0.85v0.85h-0.85zM299.85,612.61h2.56v0.85h-2.56zM303.27,612.61h1.71v0.85h-1.71zM305.83,612.61h0.85v0.85h-0.85zM307.53,612.61h2.56v0.85h-2.56zM310.95,612.61h0.85v0.85h-0.85zM273.4,613.47h0.85v0.85h-0.85zM278.52,613.47h0.85v0.85h-0.85zM280.23,613.47h0.85v0.85h-0.85zM283.64,613.47h1.71v0.85h-1.71zM286.2,613.47h0.85v0.85h-0.85zM287.91,613.47h0.85v0.85h-0.85zM289.61,613.47h1.71v0.85h-1.71zM293.88,613.47h1.71v0.85h-1.71zM296.44,613.47h0.85v0.85h-0.85zM298.15,613.47h2.56v0.85h-2.56zM301.56,613.47h0.85v0.85h-0.85zM303.27,613.47h0.85v0.85h-0.85zM305.83,613.47h0.85v0.85h-0.85zM310.95,613.47h0.85v0.85h-0.85zM273.4,614.32h5.97v0.85h-5.97zM280.23,614.32h0.85v0.85h-0.85zM281.93,614.32h0.85v0.85h-0.85zM283.64,614.32h0.85v0.85h-0.85zM285.35,614.32h0.85v0.85h-0.85zM287.05,614.32h0.85v0.85h-0.85zM288.76,614.32h0.85v0.85h-0.85zM290.47,614.32h0.85v0.85h-0.85zM292.17,614.32h0.85v0.85h-0.85zM293.88,614.32h0.85v0.85h-0.85zM295.59,614.32h0.85v0.85h-0.85zM297.29,614.32h0.85v0.85h-0.85zM299,614.32h0.85v0.85h-0.85zM300.71,614.32h0.85v0.85h-0.85zM302.41,614.32h0.85v0.85h-0.85zM304.12,614.32h0.85v0.85h-0.85zM305.83,614.32h5.97v0.85h-5.97zM281.93,615.17h0.85v0.85h-0.85zM283.64,615.17h2.56v0.85h-2.56zM288.76,615.17h2.56v0.85h-2.56zM293.88,615.17h1.71v0.85h-1.71zM298.15,615.17h1.71v0.85h-1.71zM300.71,615.17h1.71v0.85h-1.71zM303.27,615.17h0.85v0.85h-0.85zM273.4,616.03h1.71v0.85h-1.71zM275.96,616.03h1.71v0.85h-1.71zM278.52,616.03h4.27v0.85h-4.27zM284.49,616.03h0.85v0.85h-0.85zM286.2,616.03h1.71v0.85h-1.71zM288.76,616.03h0.85v0.85h-0.85zM290.47,616.03h4.27v0.85h-4.27zM295.59,616.03h2.56v0.85h-2.56zM299,616.03h0.85v0.85h-0.85zM304.12,616.03h0.85v0.85h-0.85zM305.83,616.03h1.71v0.85h-1.71zM308.39,616.03h0.85v0.85h-0.85zM310.09,616.03h1.71v0.85h-1.71zM273.4,616.88h2.56v0.85h-2.56zM276.81,616.88h1.71v0.85h-1.71zM280.23,616.88h1.71v0.85h-1.71zM282.79,616.88h3.41v0.85h-3.41zM287.05,616.88h2.56v0.85h-2.56zM291.32,616.88h0.85v0.85h-0.85zM295.59,616.88h1.71v0.85h-1.71zM298.15,616.88h0.85v0.85h-0.85zM299.85,616.88h2.56v0.85h-2.56zM303.27,616.88h1.71v0.85h-1.71zM308.39,616.88h0.85v0.85h-0.85zM310.09,616.88h1.71v0.85h-1.71zM275.11,617.73h0.85v0.85h-0.85zM276.81,617.73h2.56v0.85h-2.56zM280.23,617.73h3.41v0.85h-3.41zM284.49,617.73h1.71v0.85h-1.71zM287.05,617.73h2.56v0.85h-2.56zM290.47,617.73h1.71v0.85h-1.71zM294.73,617.73h2.56v0.85h-2.56zM298.15,617.73h2.56v0.85h-2.56zM301.56,617.73h0.85v0.85h-0.85zM303.27,617.73h2.56v0.85h-2.56zM308.39,617.73h1.71v0.85h-1.71zM274.25,618.59h0.85v0.85h-0.85zM277.67,618.59h0.85v0.85h-0.85zM279.37,618.59h3.41v0.85h-3.41zM283.64,618.59h1.71v0.85h-1.71zM286.2,618.59h1.71v0.85h-1.71zM289.61,618.59h3.41v0.85h-3.41zM293.88,618.59h0.85v0.85h-0.85zM295.59,618.59h3.41v0.85h-3.41zM302.41,618.59h4.27v0.85h-4.27zM307.53,618.59h1.71v0.85h-1.71zM310.09,618.59h0.85v0.85h-0.85zM275.11,619.44h0.85v0.85h-0.85zM278.52,619.44h0.85v0.85h-0.85zM280.23,619.44h0.85v0.85h-0.85zM283.64,619.44h0.85v0.85h-0.85zM285.35,619.44h1.71v0.85h-1.71zM287.91,619.44h0.85v0.85h-0.85zM289.61,619.44h0.85v0.85h-0.85zM291.32,619.44h3.41v0.85h-3.41zM295.59,619.44h5.12v0.85h-5.12zM302.41,619.44h3.41v0.85h-3.41zM306.68,619.44h0.85v0.85h-0.85zM309.24,619.44h1.71v0.85h-1.71zM273.4,620.29h1.71v0.85h-1.71zM275.96,620.29h2.56v0.85h-2.56zM280.23,620.29h0.85v0.85h-0.85zM281.93,620.29h2.56v0.85h-2.56zM285.35,620.29h7.68v0.85h-7.68zM295.59,620.29h0.85v0.85h-0.85zM297.29,620.29h0.85v0.85h-0.85zM299,620.29h0.85v0.85h-0.85zM300.71,620.29h0.85v0.85h-0.85zM302.41,620.29h0.85v0.85h-0.85zM304.12,620.29h0.85v0.85h-0.85zM305.83,620.29h2.56v0.85h-2.56zM309.24,620.29h1.71v0.85h-1.71zM273.4,621.15h4.27v0.85h-4.27zM278.52,621.15h0.85v0.85h-0.85zM280.23,621.15h0.85v0.85h-0.85zM282.79,621.15h0.85v0.85h-0.85zM284.49,621.15h2.56v0.85h-2.56zM287.91,621.15h0.85v0.85h-0.85zM289.61,621.15h2.56v0.85h-2.56zM293.03,621.15h0.85v0.85h-0.85zM294.73,621.15h3.41v0.85h-3.41zM299,621.15h5.12v0.85h-5.12zM305.83,621.15h4.27v0.85h-4.27zM310.95,621.15h0.85v0.85h-0.85zM273.4,622h5.12v0.85h-5.12zM281.08,622h0.85v0.85h-0.85zM282.79,622h0.85v0.85h-0.85zM284.49,622h3.41v0.85h-3.41zM288.76,622h0.85v0.85h-0.85zM290.47,622h0.85v0.85h-0.85zM293.88,622h5.97v0.85h-5.97zM300.71,622h4.27v0.85h-4.27zM307.53,622h0.85v0.85h-0.85zM310.09,622h0.85v0.85h-0.85zM273.4,622.85h1.71v0.85h-1.71zM275.96,622.85h1.71v0.85h-1.71zM278.52,622.85h1.71v0.85h-1.71zM281.08,622.85h0.85v0.85h-0.85zM283.64,622.85h1.71v0.85h-1.71zM286.2,622.85h3.41v0.85h-3.41zM290.47,622.85h0.85v0.85h-0.85zM292.17,622.85h1.71v0.85h-1.71zM295.59,622.85h4.27v0.85h-4.27zM300.71,622.85h3.41v0.85h-3.41zM304.97,622.85h2.56v0.85h-2.56zM308.39,622.85h0.85v0.85h-0.85zM310.95,622.85h0.85v0.85h-0.85zM273.4,623.71h0.85v0.85h-0.85zM275.11,623.71h1.71v0.85h-1.71zM280.23,623.71h0.85v0.85h-0.85zM281.93,623.71h0.85v0.85h-0.85zM283.64,623.71h3.41v0.85h-3.41zM287.91,623.71h3.41v0.85h-3.41zM292.17,623.71h5.12v0.85h-5.12zM298.15,623.71h0.85v0.85h-0.85zM301.56,623.71h1.71v0.85h-1.71zM304.12,623.71h0.85v0.85h-0.85zM305.83,623.71h2.56v0.85h-2.56zM309.24,623.71h2.56v0.85h-2.56zM273.4,624.56h0.85v0.85h-0.85zM275.11,624.56h5.12v0.85h-5.12zM281.08,624.56h3.41v0.85h-3.41zM285.35,624.56h0.85v0.85h-0.85zM287.91,624.56h0.85v0.85h-0.85zM289.61,624.56h0.85v0.85h-0.85zM291.32,624.56h6.83v0.85h-6.83zM299,624.56h2.56v0.85h-2.56zM302.41,624.56h0.85v0.85h-0.85zM304.12,624.56h7.68v0.85h-7.68zM273.4,625.41h0.85v0.85h-0.85zM275.96,625.41h0.85v0.85h-0.85zM277.67,625.41h0.85v0.85h-0.85zM279.37,625.41h0.85v0.85h-0.85zM281.93,625.41h0.85v0.85h-0.85zM283.64,625.41h1.71v0.85h-1.71zM287.91,625.41h4.27v0.85h-4.27zM293.88,625.41h0.85v0.85h-0.85zM296.44,625.41h5.97v0.85h-5.97zM303.27,625.41h1.71v0.85h-1.71zM309.24,625.41h2.56v0.85h-2.56zM274.25,626.27h0.85v0.85h-0.85zM275.96,626.27h5.12v0.85h-5.12zM282.79,626.27h4.27v0.85h-4.27zM288.76,626.27h0.85v0.85h-0.85zM290.47,626.27h4.27v0.85h-4.27zM295.59,626.27h0.85v0.85h-0.85zM299,626.27h10.24v0.85h-10.24zM310.09,626.27h1.71v0.85h-1.71zM273.4,627.12h0.85v0.85h-0.85zM275.11,627.12h2.56v0.85h-2.56zM280.23,627.12h4.27v0.85h-4.27zM285.35,627.12h4.27v0.85h-4.27zM290.47,627.12h0.85v0.85h-0.85zM293.88,627.12h1.71v0.85h-1.71zM298.15,627.12h0.85v0.85h-0.85zM299.85,627.12h5.12v0.85h-5.12zM307.53,627.12h3.41v0.85h-3.41zM274.25,627.97h0.85v0.85h-0.85zM276.81,627.97h0.85v0.85h-0.85zM278.52,627.97h0.85v0.85h-0.85zM280.23,627.97h4.27v0.85h-4.27zM285.35,627.97h1.71v0.85h-1.71zM288.76,627.97h2.56v0.85h-2.56zM292.17,627.97h0.85v0.85h-0.85zM293.88,627.97h1.71v0.85h-1.71zM298.15,627.97h0.85v0.85h-0.85zM300.71,627.97h2.56v0.85h-2.56zM304.12,627.97h0.85v0.85h-0.85zM305.83,627.97h0.85v0.85h-0.85zM307.53,627.97h1.71v0.85h-1.71zM310.09,627.97h1.71v0.85h-1.71zM273.4,628.83h4.27v0.85h-4.27zM280.23,628.83h1.71v0.85h-1.71zM284.49,628.83h0.85v0.85h-0.85zM286.2,628.83h0.85v0.85h-0.85zM288.76,628.83h2.56v0.85h-2.56zM293.88,628.83h0.85v0.85h-0.85zM296.44,628.83h3.41v0.85h-3.41zM302.41,628.83h0.85v0.85h-0.85zM304.12,628.83h0.85v0.85h-0.85zM307.53,628.83h2.56v0.85h-2.56zM273.4,629.68h2.56v0.85h-2.56zM276.81,629.68h5.97v0.85h-5.97zM283.64,629.68h2.56v0.85h-2.56zM287.05,629.68h1.71v0.85h-1.71zM289.61,629.68h5.12v0.85h-5.12zM295.59,629.68h3.41v0.85h-3.41zM299.85,629.68h0.85v0.85h-0.85zM302.41,629.68h0.85v0.85h-0.85zM304.12,629.68h5.12v0.85h-5.12zM310.09,629.68h0.85v0.85h-0.85zM273.4,630.53h1.71v0.85h-1.71zM279.37,630.53h3.41v0.85h-3.41zM283.64,630.53h0.85v0.85h-0.85zM285.35,630.53h1.71v0.85h-1.71zM287.91,630.53h0.85v0.85h-0.85zM291.32,630.53h1.71v0.85h-1.71zM293.88,630.53h1.71v0.85h-1.71zM296.44,630.53h0.85v0.85h-0.85zM298.15,630.53h0.85v0.85h-0.85zM302.41,630.53h1.71v0.85h-1.71zM306.68,630.53h1.71v0.85h-1.71zM310.09,630.53h1.71v0.85h-1.71zM273.4,631.39h2.56v0.85h-2.56zM276.81,631.39h7.68v0.85h-7.68zM286.2,631.39h0.85v0.85h-0.85zM287.91,631.39h1.71v0.85h-1.71zM292.17,631.39h2.56v0.85h-2.56zM296.44,631.39h2.56v0.85h-2.56zM299.85,631.39h1.71v0.85h-1.71zM303.27,631.39h0.85v0.85h-0.85zM304.97,631.39h1.71v0.85h-1.71zM307.53,631.39h1.71v0.85h-1.71zM310.09,631.39h1.71v0.85h-1.71zM275.96,632.24h0.85v0.85h-0.85zM277.67,632.24h0.85v0.85h-0.85zM279.37,632.24h3.41v0.85h-3.41zM283.64,632.24h1.71v0.85h-1.71zM287.05,632.24h6.83v0.85h-6.83zM294.73,632.24h5.12v0.85h-5.12zM301.56,632.24h0.85v0.85h-0.85zM303.27,632.24h2.56v0.85h-2.56zM306.68,632.24h1.71v0.85h-1.71zM310.95,632.24h0.85v0.85h-0.85zM273.4,633.09h1.71v0.85h-1.71zM276.81,633.09h7.68v0.85h-7.68zM287.05,633.09h3.41v0.85h-3.41zM291.32,633.09h0.85v0.85h-0.85zM293.03,633.09h0.85v0.85h-0.85zM294.73,633.09h3.41v0.85h-3.41zM299.85,633.09h1.71v0.85h-1.71zM303.27,633.09h2.56v0.85h-2.56zM309.24,633.09h2.56v0.85h-2.56zM274.25,633.95h3.41v0.85h-3.41zM279.37,633.95h1.71v0.85h-1.71zM281.93,633.95h5.12v0.85h-5.12zM287.91,633.95h2.56v0.85h-2.56zM291.32,633.95h1.71v0.85h-1.71zM294.73,633.95h0.85v0.85h-0.85zM296.44,633.95h3.41v0.85h-3.41zM300.71,633.95h2.56v0.85h-2.56zM307.53,633.95h1.71v0.85h-1.71zM273.4,634.8h1.71v0.85h-1.71zM275.96,634.8h0.85v0.85h-0.85zM277.67,634.8h2.56v0.85h-2.56zM281.08,634.8h4.27v0.85h-4.27zM286.2,634.8h2.56v0.85h-2.56zM289.61,634.8h4.27v0.85h-4.27zM294.73,634.8h0.85v0.85h-0.85zM296.44,634.8h6.83v0.85h-6.83zM304.97,634.8h0.85v0.85h-0.85zM309.24,634.8h2.56v0.85h-2.56zM273.4,635.65h3.41v0.85h-3.41zM277.67,635.65h0.85v0.85h-0.85zM279.37,635.65h0.85v0.85h-0.85zM281.93,635.65h3.41v0.85h-3.41zM286.2,635.65h0.85v0.85h-0.85zM287.91,635.65h0.85v0.85h-0.85zM290.47,635.65h0.85v0.85h-0.85zM292.17,635.65h1.71v0.85h-1.71zM294.73,635.65h3.41v0.85h-3.41zM299,635.65h5.12v0.85h-5.12zM304.97,635.65h1.71v0.85h-1.71zM308.39,635.65h0.85v0.85h-0.85zM310.09,635.65h0.85v0.85h-0.85zM273.4,636.51h1.71v0.85h-1.71zM278.52,636.51h0.85v0.85h-0.85zM280.23,636.51h0.85v0.85h-0.85zM281.93,636.51h2.56v0.85h-2.56zM285.35,636.51h1.71v0.85h-1.71zM288.76,636.51h0.85v0.85h-0.85zM291.32,636.51h4.27v0.85h-4.27zM296.44,636.51h4.27v0.85h-4.27zM301.56,636.51h0.85v0.85h-0.85zM304.12,636.51h0.85v0.85h-0.85zM308.39,636.51h3.41v0.85h-3.41zM273.4,637.36h2.56v0.85h-2.56zM277.67,637.36h0.85v0.85h-0.85zM279.37,637.36h1.71v0.85h-1.71zM283.64,637.36h2.56v0.85h-2.56zM287.05,637.36h1.71v0.85h-1.71zM290.47,637.36h0.85v0.85h-0.85zM292.17,637.36h3.41v0.85h-3.41zM296.44,637.36h4.27v0.85h-4.27zM302.41,637.36h1.71v0.85h-1.71zM304.97,637.36h0.85v0.85h-0.85zM306.68,637.36h0.85v0.85h-0.85zM310.09,637.36h1.71v0.85h-1.71zM273.4,638.21h0.85v0.85h-0.85zM275.11,638.21h0.85v0.85h-0.85zM277.67,638.21h1.71v0.85h-1.71zM281.08,638.21h0.85v0.85h-0.85zM282.79,638.21h0.85v0.85h-0.85zM286.2,638.21h5.12v0.85h-5.12zM292.17,638.21h6.83v0.85h-6.83zM301.56,638.21h0.85v0.85h-0.85zM304.12,638.21h0.85v0.85h-0.85zM305.83,638.21h1.71v0.85h-1.71zM308.39,638.21h0.85v0.85h-0.85zM310.09,638.21h0.85v0.85h-0.85zM276.81,639.07h1.71v0.85h-1.71zM280.23,639.07h3.41v0.85h-3.41zM285.35,639.07h0.85v0.85h-0.85zM287.05,639.07h1.71v0.85h-1.71zM289.61,639.07h1.71v0.85h-1.71zM293.88,639.07h5.97v0.85h-5.97zM301.56,639.07h2.56v0.85h-2.56zM305.83,639.07h5.97v0.85h-5.97zM273.4,639.92h4.27v0.85h-4.27zM278.52,639.92h0.85v0.85h-0.85zM280.23,639.92h3.41v0.85h-3.41zM284.49,639.92h1.71v0.85h-1.71zM287.05,639.92h1.71v0.85h-1.71zM290.47,639.92h6.83v0.85h-6.83zM299,639.92h1.71v0.85h-1.71zM301.56,639.92h0.85v0.85h-0.85zM303.27,639.92h5.12v0.85h-5.12zM309.24,639.92h0.85v0.85h-0.85zM310.95,639.92h0.85v0.85h-0.85zM280.23,640.77h0.85v0.85h-0.85zM281.93,640.77h5.97v0.85h-5.97zM290.47,640.77h0.85v0.85h-0.85zM293.88,640.77h1.71v0.85h-1.71zM296.44,640.77h0.85v0.85h-0.85zM299,640.77h0.85v0.85h-0.85zM300.71,640.77h0.85v0.85h-0.85zM303.27,640.77h1.71v0.85h-1.71zM307.53,640.77h0.85v0.85h-0.85zM309.24,640.77h1.71v0.85h-1.71zM273.4,641.63h5.97v0.85h-5.97zM281.08,641.63h1.71v0.85h-1.71zM286.2,641.63h0.85v0.85h-0.85zM287.91,641.63h1.71v0.85h-1.71zM290.47,641.63h0.85v0.85h-0.85zM292.17,641.63h0.85v0.85h-0.85zM293.88,641.63h0.85v0.85h-0.85zM301.56,641.63h0.85v0.85h-0.85zM304.12,641.63h0.85v0.85h-0.85zM305.83,641.63h0.85v0.85h-0.85zM307.53,641.63h1.71v0.85h-1.71zM310.09,641.63h0.85v0.85h-0.85zM273.4,642.48h0.85v0.85h-0.85zM278.52,642.48h0.85v0.85h-0.85zM284.49,642.48h5.12v0.85h-5.12zM290.47,642.48h0.85v0.85h-0.85zM293.88,642.48h0.85v0.85h-0.85zM295.59,642.48h6.83v0.85h-6.83zM303.27,642.48h1.71v0.85h-1.71zM307.53,642.48h1.71v0.85h-1.71zM310.09,642.48h1.71v0.85h-1.71zM273.4,643.33h0.85v0.85h-0.85zM275.11,643.33h2.56v0.85h-2.56zM278.52,643.33h0.85v0.85h-0.85zM281.08,643.33h0.85v0.85h-0.85zM282.79,643.33h12.8v0.85h-12.8zM296.44,643.33h5.97v0.85h-5.97zM304.12,643.33h4.27v0.85h-4.27zM310.09,643.33h1.71v0.85h-1.71zM273.4,644.19h0.85v0.85h-0.85zM275.11,644.19h2.56v0.85h-2.56zM278.52,644.19h0.85v0.85h-0.85zM281.08,644.19h1.71v0.85h-1.71zM286.2,644.19h0.85v0.85h-0.85zM287.91,644.19h2.56v0.85h-2.56zM291.32,644.19h0.85v0.85h-0.85zM293.88,644.19h5.12v0.85h-5.12zM299.85,644.19h1.71v0.85h-1.71zM304.12,644.19h3.41v0.85h-3.41zM309.24,644.19h0.85v0.85h-0.85zM273.4,645.04h0.85v0.85h-0.85zM275.11,645.04h2.56v0.85h-2.56zM278.52,645.04h0.85v0.85h-0.85zM280.23,645.04h0.85v0.85h-0.85zM281.93,645.04h2.56v0.85h-2.56zM285.35,645.04h1.71v0.85h-1.71zM287.91,645.04h0.85v0.85h-0.85zM290.47,645.04h4.27v0.85h-4.27zM295.59,645.04h0.85v0.85h-0.85zM297.29,645.04h0.85v0.85h-0.85zM299,645.04h0.85v0.85h-0.85zM304.12,645.04h2.56v0.85h-2.56zM307.53,645.04h3.41v0.85h-3.41zM273.4,645.89h0.85v0.85h-0.85zM278.52,645.89h0.85v0.85h-0.85zM280.23,645.89h1.71v0.85h-1.71zM282.79,645.89h1.71v0.85h-1.71zM285.35,645.89h1.71v0.85h-1.71zM288.76,645.89h2.56v0.85h-2.56zM292.17,645.89h3.41v0.85h-3.41zM298.15,645.89h2.56v0.85h-2.56zM301.56,645.89h0.85v0.85h-0.85zM303.27,645.89h1.71v0.85h-1.71zM305.83,645.89h3.41v0.85h-3.41zM310.09,645.89h1.71v0.85h-1.71zM273.4,646.75h5.97v0.85h-5.97zM281.93,646.75h0.85v0.85h-0.85zM283.64,646.75h3.41v0.85h-3.41zM289.61,646.75h0.85v0.85h-0.85zM291.32,646.75h2.56v0.85h-2.56zM295.59,646.75h1.71v0.85h-1.71zM298.15,646.75h5.97v0.85h-5.97zM305.83,646.75h4.27v0.85h-4.27zM310.95,646.75h0.85v0.85h-0.85z" fill="#111"/><rect x="273.2" y="609" width="6.8" height="6.8" fill="#fff"/><rect x="273.92" y="609.72" width="4.66" height="4.66" fill="none" stroke="#111" stroke-width="1.05"/><rect x="275.15" y="610.95" width="2.2" height="2.2" fill="#111"/><rect x="305.2" y="609" width="6.8" height="6.8" fill="#fff"/><rect x="306.62" y="609.72" width="4.66" height="4.66" fill="none" stroke="#111" stroke-width="1.05"/><rect x="307.85" y="610.95" width="2.2" height="2.2" fill="#111"/><rect x="273.2" y="641" width="6.8" height="6.8" fill="#fff"/><rect x="273.92" y="642.42" width="4.66" height="4.66" fill="none" stroke="#111" stroke-width="1.05"/><rect x="275.15" y="643.65" width="2.2" height="2.2" fill="#111"/>
<path d="M350.4,545.3h5.97v0.85h-5.97zM358.93,545.3h1.71v0.85h-1.71zM361.49,545.3h2.56v0.85h-2.56zM366.61,545.3h0.85v0.85h-0.85zM368.32,545.3h6.83v0.85h-6.83zM376.85,545.3h0.85v0.85h-0.85zM379.41,545.3h0.85v0.85h-0.85zM381.12,545.3h0.85v0.85h-0.85zM382.83,545.3h5.97v0.85h-5.97zM350.4,546.15h0.85v0.85h-0.85zM355.52,546.15h0.85v0.85h-0.85zM357.23,546.15h0.85v0.85h-0.85zM358.93,546.15h2.56v0.85h-2.56zM362.35,546.15h0.85v0.85h-0.85zM364.05,546.15h2.56v0.85h-2.56zM368.32,546.15h3.41v0.85h-3.41zM374.29,546.15h1.71v0.85h-1.71zM377.71,546.15h2.56v0.85h-2.56zM381.12,546.15h0.85v0.85h-0.85zM382.83,546.15h0.85v0.85h-0.85zM387.95,546.15h0.85v0.85h-0.85zM350.4,547.01h0.85v0.85h-0.85zM352.11,547.01h2.56v0.85h-2.56zM355.52,547.01h0.85v0.85h-0.85zM357.23,547.01h1.71v0.85h-1.71zM362.35,547.01h0.85v0.85h-0.85zM364.05,547.01h4.27v0.85h-4.27zM369.17,547.01h0.85v0.85h-0.85zM371.73,547.01h1.71v0.85h-1.71zM375.15,547.01h2.56v0.85h-2.56zM379.41,547.01h0.85v0.85h-0.85zM381.12,547.01h0.85v0.85h-0.85zM382.83,547.01h0.85v0.85h-0.85zM384.53,547.01h2.56v0.85h-2.56zM387.95,547.01h0.85v0.85h-0.85zM350.4,547.86h0.85v0.85h-0.85zM352.11,547.86h2.56v0.85h-2.56zM355.52,547.86h0.85v0.85h-0.85zM358.08,547.86h1.71v0.85h-1.71zM360.64,547.86h6.83v0.85h-6.83zM369.17,547.86h0.85v0.85h-0.85zM372.59,547.86h3.41v0.85h-3.41zM376.85,547.86h0.85v0.85h-0.85zM380.27,547.86h0.85v0.85h-0.85zM382.83,547.86h0.85v0.85h-0.85zM384.53,547.86h2.56v0.85h-2.56zM387.95,547.86h0.85v0.85h-0.85zM350.4,548.71h0.85v0.85h-0.85zM352.11,548.71h2.56v0.85h-2.56zM355.52,548.71h0.85v0.85h-0.85zM357.23,548.71h5.12v0.85h-5.12zM364.05,548.71h0.85v0.85h-0.85zM365.76,548.71h9.39v0.85h-9.39zM376,548.71h0.85v0.85h-0.85zM377.71,548.71h0.85v0.85h-0.85zM380.27,548.71h0.85v0.85h-0.85zM382.83,548.71h0.85v0.85h-0.85zM384.53,548.71h2.56v0.85h-2.56zM387.95,548.71h0.85v0.85h-0.85zM350.4,549.57h0.85v0.85h-0.85zM355.52,549.57h0.85v0.85h-0.85zM358.93,549.57h0.85v0.85h-0.85zM361.49,549.57h1.71v0.85h-1.71zM364.05,549.57h0.85v0.85h-0.85zM365.76,549.57h2.56v0.85h-2.56zM370.88,549.57h1.71v0.85h-1.71zM375.15,549.57h0.85v0.85h-0.85zM376.85,549.57h0.85v0.85h-0.85zM380.27,549.57h1.71v0.85h-1.71zM382.83,549.57h0.85v0.85h-0.85zM387.95,549.57h0.85v0.85h-0.85zM350.4,550.42h5.97v0.85h-5.97zM357.23,550.42h0.85v0.85h-0.85zM358.93,550.42h0.85v0.85h-0.85zM360.64,550.42h0.85v0.85h-0.85zM362.35,550.42h0.85v0.85h-0.85zM364.05,550.42h0.85v0.85h-0.85zM365.76,550.42h0.85v0.85h-0.85zM367.47,550.42h0.85v0.85h-0.85zM369.17,550.42h0.85v0.85h-0.85zM370.88,550.42h0.85v0.85h-0.85zM372.59,550.42h0.85v0.85h-0.85zM374.29,550.42h0.85v0.85h-0.85zM376,550.42h0.85v0.85h-0.85zM377.71,550.42h0.85v0.85h-0.85zM379.41,550.42h0.85v0.85h-0.85zM381.12,550.42h0.85v0.85h-0.85zM382.83,550.42h5.97v0.85h-5.97zM357.23,551.27h0.85v0.85h-0.85zM358.93,551.27h2.56v0.85h-2.56zM364.05,551.27h4.27v0.85h-4.27zM370.88,551.27h2.56v0.85h-2.56zM378.56,551.27h1.71v0.85h-1.71zM381.12,551.27h0.85v0.85h-0.85zM350.4,552.13h0.85v0.85h-0.85zM352.11,552.13h1.71v0.85h-1.71zM354.67,552.13h1.71v0.85h-1.71zM357.23,552.13h0.85v0.85h-0.85zM362.35,552.13h0.85v0.85h-0.85zM364.91,552.13h6.83v0.85h-6.83zM372.59,552.13h0.85v0.85h-0.85zM377.71,552.13h3.41v0.85h-3.41zM381.97,552.13h1.71v0.85h-1.71zM384.53,552.13h0.85v0.85h-0.85zM387.09,552.13h1.71v0.85h-1.71zM350.4,552.98h0.85v0.85h-0.85zM352.11,552.98h1.71v0.85h-1.71zM356.37,552.98h2.56v0.85h-2.56zM359.79,552.98h2.56v0.85h-2.56zM363.2,552.98h3.41v0.85h-3.41zM368.32,552.98h0.85v0.85h-0.85zM370.03,552.98h0.85v0.85h-0.85zM373.44,552.98h0.85v0.85h-0.85zM376,552.98h2.56v0.85h-2.56zM379.41,552.98h1.71v0.85h-1.71zM382.83,552.98h0.85v0.85h-0.85zM385.39,552.98h3.41v0.85h-3.41zM350.4,553.83h0.85v0.85h-0.85zM352.96,553.83h7.68v0.85h-7.68zM361.49,553.83h1.71v0.85h-1.71zM364.91,553.83h0.85v0.85h-0.85zM366.61,553.83h1.71v0.85h-1.71zM369.17,553.83h0.85v0.85h-0.85zM370.88,553.83h2.56v0.85h-2.56zM375.15,553.83h1.71v0.85h-1.71zM379.41,553.83h0.85v0.85h-0.85zM385.39,553.83h0.85v0.85h-0.85zM350.4,554.69h1.71v0.85h-1.71zM356.37,554.69h1.71v0.85h-1.71zM359.79,554.69h0.85v0.85h-0.85zM361.49,554.69h1.71v0.85h-1.71zM366.61,554.69h0.85v0.85h-0.85zM368.32,554.69h2.56v0.85h-2.56zM371.73,554.69h0.85v0.85h-0.85zM373.44,554.69h2.56v0.85h-2.56zM376.85,554.69h0.85v0.85h-0.85zM378.56,554.69h1.71v0.85h-1.71zM381.12,554.69h3.41v0.85h-3.41zM386.24,554.69h1.71v0.85h-1.71zM350.4,555.54h0.85v0.85h-0.85zM352.11,555.54h0.85v0.85h-0.85zM353.81,555.54h0.85v0.85h-0.85zM355.52,555.54h4.27v0.85h-4.27zM360.64,555.54h5.97v0.85h-5.97zM368.32,555.54h0.85v0.85h-0.85zM370.03,555.54h4.27v0.85h-4.27zM375.15,555.54h7.68v0.85h-7.68zM383.68,555.54h0.85v0.85h-0.85zM385.39,555.54h0.85v0.85h-0.85zM387.09,555.54h1.71v0.85h-1.71zM353.81,556.39h1.71v0.85h-1.71zM358.08,556.39h1.71v0.85h-1.71zM360.64,556.39h1.71v0.85h-1.71zM367.47,556.39h1.71v0.85h-1.71zM370.03,556.39h0.85v0.85h-0.85zM371.73,556.39h0.85v0.85h-0.85zM375.15,556.39h0.85v0.85h-0.85zM376.85,556.39h1.71v0.85h-1.71zM380.27,556.39h0.85v0.85h-0.85zM381.97,556.39h0.85v0.85h-0.85zM384.53,556.39h3.41v0.85h-3.41zM350.4,557.25h1.71v0.85h-1.71zM352.96,557.25h1.71v0.85h-1.71zM355.52,557.25h0.85v0.85h-0.85zM357.23,557.25h1.71v0.85h-1.71zM359.79,557.25h1.71v0.85h-1.71zM363.2,557.25h0.85v0.85h-0.85zM364.91,557.25h0.85v0.85h-0.85zM366.61,557.25h1.71v0.85h-1.71zM370.88,557.25h0.85v0.85h-0.85zM375.15,557.25h4.27v0.85h-4.27zM381.97,557.25h1.71v0.85h-1.71zM385.39,557.25h1.71v0.85h-1.71zM387.95,557.25h0.85v0.85h-0.85zM350.4,558.1h1.71v0.85h-1.71zM353.81,558.1h1.71v0.85h-1.71zM356.37,558.1h3.41v0.85h-3.41zM361.49,558.1h5.12v0.85h-5.12zM367.47,558.1h0.85v0.85h-0.85zM370.03,558.1h0.85v0.85h-0.85zM371.73,558.1h2.56v0.85h-2.56zM376,558.1h1.71v0.85h-1.71zM379.41,558.1h0.85v0.85h-0.85zM381.12,558.1h2.56v0.85h-2.56zM384.53,558.1h1.71v0.85h-1.71zM387.09,558.1h0.85v0.85h-0.85zM350.4,558.95h0.85v0.85h-0.85zM352.96,558.95h3.41v0.85h-3.41zM357.23,558.95h2.56v0.85h-2.56zM360.64,558.95h6.83v0.85h-6.83zM369.17,558.95h0.85v0.85h-0.85zM370.88,558.95h9.39v0.85h-9.39zM381.12,558.95h6.83v0.85h-6.83zM352.11,559.81h3.41v0.85h-3.41zM359.79,559.81h5.97v0.85h-5.97zM366.61,559.81h1.71v0.85h-1.71zM369.17,559.81h0.85v0.85h-0.85zM370.88,559.81h3.41v0.85h-3.41zM375.15,559.81h0.85v0.85h-0.85zM377.71,559.81h1.71v0.85h-1.71zM383.68,559.81h0.85v0.85h-0.85zM386.24,559.81h0.85v0.85h-0.85zM387.95,559.81h0.85v0.85h-0.85zM352.11,560.66h1.71v0.85h-1.71zM354.67,560.66h1.71v0.85h-1.71zM358.08,560.66h2.56v0.85h-2.56zM361.49,560.66h0.85v0.85h-0.85zM363.2,560.66h0.85v0.85h-0.85zM364.91,560.66h0.85v0.85h-0.85zM368.32,560.66h1.71v0.85h-1.71zM370.88,560.66h3.41v0.85h-3.41zM375.15,560.66h0.85v0.85h-0.85zM376.85,560.66h0.85v0.85h-0.85zM379.41,560.66h4.27v0.85h-4.27zM384.53,560.66h1.71v0.85h-1.71zM387.09,560.66h1.71v0.85h-1.71zM350.4,561.51h2.56v0.85h-2.56zM353.81,561.51h0.85v0.85h-0.85zM357.23,561.51h0.85v0.85h-0.85zM358.93,561.51h1.71v0.85h-1.71zM361.49,561.51h1.71v0.85h-1.71zM364.05,561.51h0.85v0.85h-0.85zM365.76,561.51h1.71v0.85h-1.71zM369.17,561.51h2.56v0.85h-2.56zM372.59,561.51h4.27v0.85h-4.27zM377.71,561.51h0.85v0.85h-0.85zM380.27,561.51h5.12v0.85h-5.12zM351.25,562.37h0.85v0.85h-0.85zM352.96,562.37h5.12v0.85h-5.12zM358.93,562.37h2.56v0.85h-2.56zM363.2,562.37h2.56v0.85h-2.56zM367.47,562.37h5.97v0.85h-5.97zM375.15,562.37h0.85v0.85h-0.85zM376.85,562.37h10.24v0.85h-10.24zM387.95,562.37h0.85v0.85h-0.85zM350.4,563.22h4.27v0.85h-4.27zM357.23,563.22h1.71v0.85h-1.71zM361.49,563.22h3.41v0.85h-3.41zM366.61,563.22h1.71v0.85h-1.71zM370.88,563.22h0.85v0.85h-0.85zM374.29,563.22h0.85v0.85h-0.85zM376,563.22h0.85v0.85h-0.85zM381.12,563.22h0.85v0.85h-0.85zM384.53,563.22h0.85v0.85h-0.85zM387.09,563.22h0.85v0.85h-0.85zM350.4,564.07h1.71v0.85h-1.71zM353.81,564.07h0.85v0.85h-0.85zM355.52,564.07h0.85v0.85h-0.85zM357.23,564.07h0.85v0.85h-0.85zM358.93,564.07h0.85v0.85h-0.85zM363.2,564.07h0.85v0.85h-0.85zM365.76,564.07h0.85v0.85h-0.85zM367.47,564.07h0.85v0.85h-0.85zM369.17,564.07h0.85v0.85h-0.85zM370.88,564.07h1.71v0.85h-1.71zM373.44,564.07h1.71v0.85h-1.71zM376.85,564.07h5.12v0.85h-5.12zM382.83,564.07h0.85v0.85h-0.85zM384.53,564.07h4.27v0.85h-4.27zM350.4,564.93h2.56v0.85h-2.56zM353.81,564.93h0.85v0.85h-0.85zM357.23,564.93h1.71v0.85h-1.71zM361.49,564.93h0.85v0.85h-0.85zM363.2,564.93h0.85v0.85h-0.85zM364.91,564.93h0.85v0.85h-0.85zM366.61,564.93h1.71v0.85h-1.71zM370.88,564.93h4.27v0.85h-4.27zM377.71,564.93h4.27v0.85h-4.27zM384.53,564.93h1.71v0.85h-1.71zM387.09,564.93h1.71v0.85h-1.71zM350.4,565.78h1.71v0.85h-1.71zM353.81,565.78h5.12v0.85h-5.12zM361.49,565.78h0.85v0.85h-0.85zM364.91,565.78h1.71v0.85h-1.71zM367.47,565.78h4.27v0.85h-4.27zM376,565.78h0.85v0.85h-0.85zM377.71,565.78h1.71v0.85h-1.71zM380.27,565.78h7.68v0.85h-7.68zM351.25,566.63h0.85v0.85h-0.85zM352.96,566.63h2.56v0.85h-2.56zM357.23,566.63h4.27v0.85h-4.27zM362.35,566.63h3.41v0.85h-3.41zM366.61,566.63h1.71v0.85h-1.71zM369.17,566.63h0.85v0.85h-0.85zM370.88,566.63h1.71v0.85h-1.71zM375.15,566.63h0.85v0.85h-0.85zM377.71,566.63h8.53v0.85h-8.53zM350.4,567.49h2.56v0.85h-2.56zM353.81,567.49h5.12v0.85h-5.12zM360.64,567.49h1.71v0.85h-1.71zM364.05,567.49h3.41v0.85h-3.41zM368.32,567.49h1.71v0.85h-1.71zM370.88,567.49h0.85v0.85h-0.85zM372.59,567.49h5.97v0.85h-5.97zM380.27,567.49h1.71v0.85h-1.71zM382.83,567.49h0.85v0.85h-0.85zM384.53,567.49h4.27v0.85h-4.27zM350.4,568.34h5.12v0.85h-5.12zM356.37,568.34h3.41v0.85h-3.41zM360.64,568.34h1.71v0.85h-1.71zM364.05,568.34h0.85v0.85h-0.85zM366.61,568.34h0.85v0.85h-0.85zM368.32,568.34h2.56v0.85h-2.56zM371.73,568.34h0.85v0.85h-0.85zM375.15,568.34h4.27v0.85h-4.27zM380.27,568.34h0.85v0.85h-0.85zM381.97,568.34h1.71v0.85h-1.71zM385.39,568.34h0.85v0.85h-0.85zM387.09,568.34h1.71v0.85h-1.71zM350.4,569.19h2.56v0.85h-2.56zM353.81,569.19h2.56v0.85h-2.56zM357.23,569.19h0.85v0.85h-0.85zM362.35,569.19h1.71v0.85h-1.71zM364.91,569.19h0.85v0.85h-0.85zM367.47,569.19h0.85v0.85h-0.85zM369.17,569.19h3.41v0.85h-3.41zM373.44,569.19h0.85v0.85h-0.85zM376,569.19h0.85v0.85h-0.85zM377.71,569.19h0.85v0.85h-0.85zM380.27,569.19h0.85v0.85h-0.85zM381.97,569.19h0.85v0.85h-0.85zM383.68,569.19h1.71v0.85h-1.71zM386.24,569.19h0.85v0.85h-0.85zM387.95,569.19h0.85v0.85h-0.85zM350.4,570.05h1.71v0.85h-1.71zM352.96,570.05h2.56v0.85h-2.56zM356.37,570.05h0.85v0.85h-0.85zM359.79,570.05h0.85v0.85h-0.85zM364.05,570.05h0.85v0.85h-0.85zM366.61,570.05h1.71v0.85h-1.71zM372.59,570.05h0.85v0.85h-0.85zM374.29,570.05h0.85v0.85h-0.85zM376,570.05h2.56v0.85h-2.56zM380.27,570.05h1.71v0.85h-1.71zM382.83,570.05h3.41v0.85h-3.41zM350.4,570.9h0.85v0.85h-0.85zM352.11,570.9h0.85v0.85h-0.85zM355.52,570.9h1.71v0.85h-1.71zM358.08,570.9h1.71v0.85h-1.71zM360.64,570.9h0.85v0.85h-0.85zM363.2,570.9h3.41v0.85h-3.41zM369.17,570.9h0.85v0.85h-0.85zM370.88,570.9h4.27v0.85h-4.27zM376,570.9h2.56v0.85h-2.56zM383.68,570.9h2.56v0.85h-2.56zM387.09,570.9h0.85v0.85h-0.85zM352.11,571.75h3.41v0.85h-3.41zM356.37,571.75h2.56v0.85h-2.56zM359.79,571.75h1.71v0.85h-1.71zM362.35,571.75h6.83v0.85h-6.83zM371.73,571.75h3.41v0.85h-3.41zM376.85,571.75h0.85v0.85h-0.85zM378.56,571.75h2.56v0.85h-2.56zM381.97,571.75h5.97v0.85h-5.97zM351.25,572.61h0.85v0.85h-0.85zM352.96,572.61h11.95v0.85h-11.95zM366.61,572.61h0.85v0.85h-0.85zM369.17,572.61h1.71v0.85h-1.71zM373.44,572.61h3.41v0.85h-3.41zM378.56,572.61h2.56v0.85h-2.56zM382.83,572.61h1.71v0.85h-1.71zM385.39,572.61h0.85v0.85h-0.85zM387.09,572.61h1.71v0.85h-1.71zM351.25,573.46h1.71v0.85h-1.71zM353.81,573.46h0.85v0.85h-0.85zM357.23,573.46h2.56v0.85h-2.56zM361.49,573.46h2.56v0.85h-2.56zM365.76,573.46h0.85v0.85h-0.85zM367.47,573.46h2.56v0.85h-2.56zM371.73,573.46h0.85v0.85h-0.85zM373.44,573.46h0.85v0.85h-0.85zM376,573.46h5.97v0.85h-5.97zM383.68,573.46h0.85v0.85h-0.85zM385.39,573.46h1.71v0.85h-1.71zM350.4,574.31h1.71v0.85h-1.71zM354.67,574.31h1.71v0.85h-1.71zM357.23,574.31h0.85v0.85h-0.85zM358.93,574.31h5.12v0.85h-5.12zM365.76,574.31h3.41v0.85h-3.41zM370.03,574.31h0.85v0.85h-0.85zM371.73,574.31h0.85v0.85h-0.85zM374.29,574.31h0.85v0.85h-0.85zM376,574.31h2.56v0.85h-2.56zM381.97,574.31h0.85v0.85h-0.85zM383.68,574.31h1.71v0.85h-1.71zM387.09,574.31h0.85v0.85h-0.85zM351.25,575.17h4.27v0.85h-4.27zM356.37,575.17h3.41v0.85h-3.41zM362.35,575.17h1.71v0.85h-1.71zM364.91,575.17h0.85v0.85h-0.85zM367.47,575.17h1.71v0.85h-1.71zM370.88,575.17h2.56v0.85h-2.56zM374.29,575.17h0.85v0.85h-0.85zM376,575.17h0.85v0.85h-0.85zM377.71,575.17h2.56v0.85h-2.56zM381.97,575.17h1.71v0.85h-1.71zM384.53,575.17h1.71v0.85h-1.71zM351.25,576.02h1.71v0.85h-1.71zM353.81,576.02h0.85v0.85h-0.85zM355.52,576.02h0.85v0.85h-0.85zM358.08,576.02h0.85v0.85h-0.85zM359.79,576.02h0.85v0.85h-0.85zM361.49,576.02h1.71v0.85h-1.71zM364.05,576.02h0.85v0.85h-0.85zM366.61,576.02h8.53v0.85h-8.53zM376,576.02h1.71v0.85h-1.71zM379.41,576.02h0.85v0.85h-0.85zM381.12,576.02h5.12v0.85h-5.12zM387.09,576.02h0.85v0.85h-0.85zM357.23,576.87h0.85v0.85h-0.85zM358.93,576.87h0.85v0.85h-0.85zM360.64,576.87h0.85v0.85h-0.85zM363.2,576.87h3.41v0.85h-3.41zM367.47,576.87h0.85v0.85h-0.85zM370.88,576.87h1.71v0.85h-1.71zM373.44,576.87h0.85v0.85h-0.85zM375.15,576.87h1.71v0.85h-1.71zM377.71,576.87h4.27v0.85h-4.27zM384.53,576.87h2.56v0.85h-2.56zM387.95,576.87h0.85v0.85h-0.85zM350.4,577.73h5.97v0.85h-5.97zM358.93,577.73h0.85v0.85h-0.85zM360.64,577.73h1.71v0.85h-1.71zM364.05,577.73h1.71v0.85h-1.71zM367.47,577.73h0.85v0.85h-0.85zM369.17,577.73h0.85v0.85h-0.85zM370.88,577.73h3.41v0.85h-3.41zM375.15,577.73h0.85v0.85h-0.85zM376.85,577.73h1.71v0.85h-1.71zM379.41,577.73h0.85v0.85h-0.85zM381.12,577.73h0.85v0.85h-0.85zM382.83,577.73h0.85v0.85h-0.85zM384.53,577.73h1.71v0.85h-1.71zM350.4,578.58h0.85v0.85h-0.85zM355.52,578.58h0.85v0.85h-0.85zM359.79,578.58h5.97v0.85h-5.97zM366.61,578.58h1.71v0.85h-1.71zM370.88,578.58h4.27v0.85h-4.27zM376.85,578.58h5.12v0.85h-5.12zM384.53,578.58h2.56v0.85h-2.56zM387.95,578.58h0.85v0.85h-0.85zM350.4,579.43h0.85v0.85h-0.85zM352.11,579.43h2.56v0.85h-2.56zM355.52,579.43h0.85v0.85h-0.85zM357.23,579.43h2.56v0.85h-2.56zM360.64,579.43h0.85v0.85h-0.85zM363.2,579.43h9.39v0.85h-9.39zM373.44,579.43h4.27v0.85h-4.27zM378.56,579.43h0.85v0.85h-0.85zM381.12,579.43h4.27v0.85h-4.27zM386.24,579.43h0.85v0.85h-0.85zM387.95,579.43h0.85v0.85h-0.85zM350.4,580.29h0.85v0.85h-0.85zM352.11,580.29h2.56v0.85h-2.56zM355.52,580.29h0.85v0.85h-0.85zM358.08,580.29h3.41v0.85h-3.41zM362.35,580.29h5.12v0.85h-5.12zM368.32,580.29h0.85v0.85h-0.85zM370.03,580.29h3.41v0.85h-3.41zM376,580.29h4.27v0.85h-4.27zM381.97,580.29h0.85v0.85h-0.85zM383.68,580.29h1.71v0.85h-1.71zM386.24,580.29h1.71v0.85h-1.71zM350.4,581.14h0.85v0.85h-0.85zM352.11,581.14h2.56v0.85h-2.56zM355.52,581.14h0.85v0.85h-0.85zM357.23,581.14h7.68v0.85h-7.68zM365.76,581.14h9.39v0.85h-9.39zM379.41,581.14h1.71v0.85h-1.71zM381.97,581.14h0.85v0.85h-0.85zM383.68,581.14h0.85v0.85h-0.85zM387.09,581.14h1.71v0.85h-1.71zM350.4,581.99h0.85v0.85h-0.85zM355.52,581.99h0.85v0.85h-0.85zM357.23,581.99h1.71v0.85h-1.71zM359.79,581.99h0.85v0.85h-0.85zM362.35,581.99h2.56v0.85h-2.56zM365.76,581.99h1.71v0.85h-1.71zM368.32,581.99h0.85v0.85h-0.85zM370.03,581.99h1.71v0.85h-1.71zM372.59,581.99h4.27v0.85h-4.27zM377.71,581.99h3.41v0.85h-3.41zM381.97,581.99h0.85v0.85h-0.85zM384.53,581.99h1.71v0.85h-1.71zM387.09,581.99h1.71v0.85h-1.71zM350.4,582.85h5.97v0.85h-5.97zM357.23,582.85h0.85v0.85h-0.85zM362.35,582.85h3.41v0.85h-3.41zM366.61,582.85h0.85v0.85h-0.85zM370.03,582.85h3.41v0.85h-3.41zM374.29,582.85h4.27v0.85h-4.27zM379.41,582.85h0.85v0.85h-0.85zM381.12,582.85h1.71v0.85h-1.71zM383.68,582.85h2.56v0.85h-2.56zM387.95,582.85h0.85v0.85h-0.85z" fill="#111"/><rect x="350.2" y="545.1" width="6.8" height="6.8" fill="#fff"/><rect x="350.92" y="545.82" width="4.66" height="4.66" fill="none" stroke="#111" stroke-width="1.05"/><rect x="352.15" y="547.05" width="2.2" height="2.2" fill="#111"/><rect x="382.2" y="545.1" width="6.8" height="6.8" fill="#fff"/><rect x="383.62" y="545.82" width="4.66" height="4.66" fill="none" stroke="#111" stroke-width="1.05"/><rect x="384.85" y="547.05" width="2.2" height="2.2" fill="#111"/><rect x="350.2" y="577.1" width="6.8" height="6.8" fill="#fff"/><rect x="350.92" y="578.52" width="4.66" height="4.66" fill="none" stroke="#111" stroke-width="1.05"/><rect x="352.15" y="579.75" width="2.2" height="2.2" fill="#111"/>
<path d="M405,545.3h5.97v0.85h-5.97zM411.83,545.3h3.41v0.85h-3.41zM416.09,545.3h0.85v0.85h-0.85zM418.65,545.3h0.85v0.85h-0.85zM422.07,545.3h1.71v0.85h-1.71zM424.63,545.3h3.41v0.85h-3.41zM428.89,545.3h1.71v0.85h-1.71zM432.31,545.3h1.71v0.85h-1.71zM437.43,545.3h5.97v0.85h-5.97zM405,546.15h0.85v0.85h-0.85zM410.12,546.15h0.85v0.85h-0.85zM411.83,546.15h5.97v0.85h-5.97zM418.65,546.15h2.56v0.85h-2.56zM424.63,546.15h4.27v0.85h-4.27zM430.6,546.15h0.85v0.85h-0.85zM434.01,546.15h0.85v0.85h-0.85zM435.72,546.15h0.85v0.85h-0.85zM437.43,546.15h0.85v0.85h-0.85zM442.55,546.15h0.85v0.85h-0.85zM405,547.01h0.85v0.85h-0.85zM406.71,547.01h2.56v0.85h-2.56zM410.12,547.01h0.85v0.85h-0.85zM411.83,547.01h5.97v0.85h-5.97zM418.65,547.01h0.85v0.85h-0.85zM421.21,547.01h2.56v0.85h-2.56zM426.33,547.01h5.97v0.85h-5.97zM433.16,547.01h3.41v0.85h-3.41zM437.43,547.01h0.85v0.85h-0.85zM439.13,547.01h2.56v0.85h-2.56zM442.55,547.01h0.85v0.85h-0.85zM405,547.86h0.85v0.85h-0.85zM406.71,547.86h2.56v0.85h-2.56zM410.12,547.86h0.85v0.85h-0.85zM411.83,547.86h2.56v0.85h-2.56zM416.09,547.86h1.71v0.85h-1.71zM418.65,547.86h0.85v0.85h-0.85zM420.36,547.86h0.85v0.85h-0.85zM422.07,547.86h0.85v0.85h-0.85zM424.63,547.86h1.71v0.85h-1.71zM431.45,547.86h0.85v0.85h-0.85zM434.01,547.86h2.56v0.85h-2.56zM437.43,547.86h0.85v0.85h-0.85zM439.13,547.86h2.56v0.85h-2.56zM442.55,547.86h0.85v0.85h-0.85zM405,548.71h0.85v0.85h-0.85zM406.71,548.71h2.56v0.85h-2.56zM410.12,548.71h0.85v0.85h-0.85zM412.68,548.71h6.83v0.85h-6.83zM422.07,548.71h6.83v0.85h-6.83zM429.75,548.71h3.41v0.85h-3.41zM434.01,548.71h0.85v0.85h-0.85zM435.72,548.71h0.85v0.85h-0.85zM437.43,548.71h0.85v0.85h-0.85zM439.13,548.71h2.56v0.85h-2.56zM442.55,548.71h0.85v0.85h-0.85zM405,549.57h0.85v0.85h-0.85zM410.12,549.57h0.85v0.85h-0.85zM411.83,549.57h0.85v0.85h-0.85zM413.53,549.57h0.85v0.85h-0.85zM415.24,549.57h1.71v0.85h-1.71zM418.65,549.57h0.85v0.85h-0.85zM420.36,549.57h0.85v0.85h-0.85zM422.07,549.57h0.85v0.85h-0.85zM425.48,549.57h5.12v0.85h-5.12zM431.45,549.57h1.71v0.85h-1.71zM435.72,549.57h0.85v0.85h-0.85zM437.43,549.57h0.85v0.85h-0.85zM442.55,549.57h0.85v0.85h-0.85zM405,550.42h5.97v0.85h-5.97zM411.83,550.42h0.85v0.85h-0.85zM413.53,550.42h0.85v0.85h-0.85zM415.24,550.42h0.85v0.85h-0.85zM416.95,550.42h0.85v0.85h-0.85zM418.65,550.42h0.85v0.85h-0.85zM420.36,550.42h0.85v0.85h-0.85zM422.07,550.42h0.85v0.85h-0.85zM423.77,550.42h0.85v0.85h-0.85zM425.48,550.42h0.85v0.85h-0.85zM427.19,550.42h0.85v0.85h-0.85zM428.89,550.42h0.85v0.85h-0.85zM430.6,550.42h0.85v0.85h-0.85zM432.31,550.42h0.85v0.85h-0.85zM434.01,550.42h0.85v0.85h-0.85zM435.72,550.42h0.85v0.85h-0.85zM437.43,550.42h5.97v0.85h-5.97zM413.53,551.27h3.41v0.85h-3.41zM418.65,551.27h0.85v0.85h-0.85zM422.07,551.27h0.85v0.85h-0.85zM425.48,551.27h0.85v0.85h-0.85zM428.04,551.27h0.85v0.85h-0.85zM430.6,551.27h5.12v0.85h-5.12zM405,552.13h1.71v0.85h-1.71zM407.56,552.13h1.71v0.85h-1.71zM410.12,552.13h1.71v0.85h-1.71zM413.53,552.13h2.56v0.85h-2.56zM418.65,552.13h0.85v0.85h-0.85zM420.36,552.13h6.83v0.85h-6.83zM428.04,552.13h1.71v0.85h-1.71zM430.6,552.13h1.71v0.85h-1.71zM434.01,552.13h5.97v0.85h-5.97zM440.84,552.13h2.56v0.85h-2.56zM405.85,552.98h2.56v0.85h-2.56zM410.97,552.98h2.56v0.85h-2.56zM414.39,552.98h2.56v0.85h-2.56zM422.07,552.98h1.71v0.85h-1.71zM424.63,552.98h0.85v0.85h-0.85zM426.33,552.98h0.85v0.85h-0.85zM428.04,552.98h2.56v0.85h-2.56zM431.45,552.98h5.12v0.85h-5.12zM439.13,552.98h0.85v0.85h-0.85zM441.69,552.98h0.85v0.85h-0.85zM405.85,553.83h2.56v0.85h-2.56zM409.27,553.83h5.97v0.85h-5.97zM416.95,553.83h0.85v0.85h-0.85zM418.65,553.83h3.41v0.85h-3.41zM422.92,553.83h5.12v0.85h-5.12zM429.75,553.83h0.85v0.85h-0.85zM432.31,553.83h2.56v0.85h-2.56zM435.72,553.83h3.41v0.85h-3.41zM441.69,553.83h1.71v0.85h-1.71zM405,554.69h0.85v0.85h-0.85zM406.71,554.69h3.41v0.85h-3.41zM411.83,554.69h0.85v0.85h-0.85zM413.53,554.69h2.56v0.85h-2.56zM416.95,554.69h0.85v0.85h-0.85zM418.65,554.69h2.56v0.85h-2.56zM422.07,554.69h2.56v0.85h-2.56zM427.19,554.69h0.85v0.85h-0.85zM429.75,554.69h2.56v0.85h-2.56zM436.57,554.69h0.85v0.85h-0.85zM438.28,554.69h0.85v0.85h-0.85zM439.99,554.69h1.71v0.85h-1.71zM442.55,554.69h0.85v0.85h-0.85zM405,555.54h0.85v0.85h-0.85zM406.71,555.54h0.85v0.85h-0.85zM409.27,555.54h1.71v0.85h-1.71zM413.53,555.54h1.71v0.85h-1.71zM416.09,555.54h0.85v0.85h-0.85zM417.8,555.54h1.71v0.85h-1.71zM420.36,555.54h1.71v0.85h-1.71zM422.92,555.54h0.85v0.85h-0.85zM424.63,555.54h2.56v0.85h-2.56zM428.04,555.54h1.71v0.85h-1.71zM430.6,555.54h4.27v0.85h-4.27zM438.28,555.54h2.56v0.85h-2.56zM442.55,555.54h0.85v0.85h-0.85zM405,556.39h2.56v0.85h-2.56zM409.27,556.39h0.85v0.85h-0.85zM410.97,556.39h0.85v0.85h-0.85zM412.68,556.39h0.85v0.85h-0.85zM414.39,556.39h1.71v0.85h-1.71zM417.8,556.39h0.85v0.85h-0.85zM419.51,556.39h0.85v0.85h-0.85zM422.07,556.39h1.71v0.85h-1.71zM424.63,556.39h0.85v0.85h-0.85zM426.33,556.39h0.85v0.85h-0.85zM428.04,556.39h4.27v0.85h-4.27zM434.01,556.39h0.85v0.85h-0.85zM435.72,556.39h0.85v0.85h-0.85zM439.13,556.39h1.71v0.85h-1.71zM442.55,556.39h0.85v0.85h-0.85zM405,557.25h0.85v0.85h-0.85zM407.56,557.25h3.41v0.85h-3.41zM411.83,557.25h9.39v0.85h-9.39zM422.92,557.25h0.85v0.85h-0.85zM425.48,557.25h0.85v0.85h-0.85zM427.19,557.25h3.41v0.85h-3.41zM431.45,557.25h1.71v0.85h-1.71zM434.01,557.25h1.71v0.85h-1.71zM436.57,557.25h5.12v0.85h-5.12zM405,558.1h0.85v0.85h-0.85zM406.71,558.1h0.85v0.85h-0.85zM410.97,558.1h0.85v0.85h-0.85zM412.68,558.1h0.85v0.85h-0.85zM415.24,558.1h1.71v0.85h-1.71zM418.65,558.1h2.56v0.85h-2.56zM423.77,558.1h8.53v0.85h-8.53zM433.16,558.1h1.71v0.85h-1.71zM437.43,558.1h2.56v0.85h-2.56zM440.84,558.1h1.71v0.85h-1.71zM405,558.95h0.85v0.85h-0.85zM407.56,558.95h1.71v0.85h-1.71zM410.12,558.95h3.41v0.85h-3.41zM414.39,558.95h0.85v0.85h-0.85zM416.95,558.95h3.41v0.85h-3.41zM421.21,558.95h0.85v0.85h-0.85zM422.92,558.95h1.71v0.85h-1.71zM426.33,558.95h1.71v0.85h-1.71zM428.89,558.95h0.85v0.85h-0.85zM430.6,558.95h4.27v0.85h-4.27zM435.72,558.95h0.85v0.85h-0.85zM437.43,558.95h0.85v0.85h-0.85zM439.13,558.95h2.56v0.85h-2.56zM442.55,558.95h0.85v0.85h-0.85zM405.85,559.81h0.85v0.85h-0.85zM407.56,559.81h2.56v0.85h-2.56zM410.97,559.81h0.85v0.85h-0.85zM412.68,559.81h0.85v0.85h-0.85zM414.39,559.81h0.85v0.85h-0.85zM419.51,559.81h0.85v0.85h-0.85zM422.07,559.81h1.71v0.85h-1.71zM426.33,559.81h2.56v0.85h-2.56zM429.75,559.81h1.71v0.85h-1.71zM434.87,559.81h1.71v0.85h-1.71zM437.43,559.81h0.85v0.85h-0.85zM439.13,559.81h0.85v0.85h-0.85zM440.84,559.81h1.71v0.85h-1.71zM405.85,560.66h0.85v0.85h-0.85zM409.27,560.66h2.56v0.85h-2.56zM412.68,560.66h3.41v0.85h-3.41zM417.8,560.66h3.41v0.85h-3.41zM422.07,560.66h1.71v0.85h-1.71zM424.63,560.66h0.85v0.85h-0.85zM426.33,560.66h1.71v0.85h-1.71zM428.89,560.66h3.41v0.85h-3.41zM433.16,560.66h0.85v0.85h-0.85zM436.57,560.66h2.56v0.85h-2.56zM439.99,560.66h0.85v0.85h-0.85zM441.69,560.66h1.71v0.85h-1.71zM405.85,561.51h0.85v0.85h-0.85zM409.27,561.51h0.85v0.85h-0.85zM413.53,561.51h3.41v0.85h-3.41zM418.65,561.51h0.85v0.85h-0.85zM420.36,561.51h1.71v0.85h-1.71zM422.92,561.51h3.41v0.85h-3.41zM428.04,561.51h4.27v0.85h-4.27zM433.16,561.51h0.85v0.85h-0.85zM435.72,561.51h3.41v0.85h-3.41zM405,562.37h0.85v0.85h-0.85zM407.56,562.37h8.53v0.85h-8.53zM416.95,562.37h0.85v0.85h-0.85zM419.51,562.37h1.71v0.85h-1.71zM422.07,562.37h4.27v0.85h-4.27zM427.19,562.37h0.85v0.85h-0.85zM428.89,562.37h3.41v0.85h-3.41zM433.16,562.37h7.68v0.85h-7.68zM442.55,562.37h0.85v0.85h-0.85zM405,563.22h0.85v0.85h-0.85zM408.41,563.22h0.85v0.85h-0.85zM411.83,563.22h4.27v0.85h-4.27zM418.65,563.22h2.56v0.85h-2.56zM422.07,563.22h0.85v0.85h-0.85zM425.48,563.22h2.56v0.85h-2.56zM429.75,563.22h1.71v0.85h-1.71zM432.31,563.22h0.85v0.85h-0.85zM434.01,563.22h0.85v0.85h-0.85zM435.72,563.22h0.85v0.85h-0.85zM439.13,563.22h2.56v0.85h-2.56zM442.55,563.22h0.85v0.85h-0.85zM405,564.07h2.56v0.85h-2.56zM408.41,564.07h0.85v0.85h-0.85zM410.12,564.07h0.85v0.85h-0.85zM411.83,564.07h5.12v0.85h-5.12zM418.65,564.07h4.27v0.85h-4.27zM423.77,564.07h0.85v0.85h-0.85zM425.48,564.07h4.27v0.85h-4.27zM430.6,564.07h2.56v0.85h-2.56zM435.72,564.07h0.85v0.85h-0.85zM437.43,564.07h0.85v0.85h-0.85zM439.13,564.07h1.71v0.85h-1.71zM442.55,564.07h0.85v0.85h-0.85zM406.71,564.93h2.56v0.85h-2.56zM411.83,564.93h1.71v0.85h-1.71zM414.39,564.93h3.41v0.85h-3.41zM418.65,564.93h4.27v0.85h-4.27zM425.48,564.93h2.56v0.85h-2.56zM431.45,564.93h2.56v0.85h-2.56zM434.87,564.93h1.71v0.85h-1.71zM439.13,564.93h0.85v0.85h-0.85zM440.84,564.93h2.56v0.85h-2.56zM405,565.78h0.85v0.85h-0.85zM406.71,565.78h5.97v0.85h-5.97zM414.39,565.78h0.85v0.85h-0.85zM416.09,565.78h1.71v0.85h-1.71zM418.65,565.78h0.85v0.85h-0.85zM420.36,565.78h0.85v0.85h-0.85zM422.07,565.78h5.12v0.85h-5.12zM428.89,565.78h1.71v0.85h-1.71zM431.45,565.78h1.71v0.85h-1.71zM434.87,565.78h5.12v0.85h-5.12zM442.55,565.78h0.85v0.85h-0.85zM405,566.63h1.71v0.85h-1.71zM408.41,566.63h1.71v0.85h-1.71zM412.68,566.63h0.85v0.85h-0.85zM414.39,566.63h0.85v0.85h-0.85zM416.95,566.63h0.85v0.85h-0.85zM418.65,566.63h2.56v0.85h-2.56zM423.77,566.63h0.85v0.85h-0.85zM428.04,566.63h0.85v0.85h-0.85zM429.75,566.63h2.56v0.85h-2.56zM433.16,566.63h1.71v0.85h-1.71zM435.72,566.63h1.71v0.85h-1.71zM438.28,566.63h2.56v0.85h-2.56zM441.69,566.63h1.71v0.85h-1.71zM405,567.49h0.85v0.85h-0.85zM406.71,567.49h4.27v0.85h-4.27zM412.68,567.49h0.85v0.85h-0.85zM414.39,567.49h4.27v0.85h-4.27zM420.36,567.49h0.85v0.85h-0.85zM422.92,567.49h2.56v0.85h-2.56zM426.33,567.49h1.71v0.85h-1.71zM430.6,567.49h0.85v0.85h-0.85zM432.31,567.49h0.85v0.85h-0.85zM434.87,567.49h3.41v0.85h-3.41zM440.84,567.49h2.56v0.85h-2.56zM405,568.34h3.41v0.85h-3.41zM409.27,568.34h0.85v0.85h-0.85zM410.97,568.34h1.71v0.85h-1.71zM413.53,568.34h1.71v0.85h-1.71zM417.8,568.34h1.71v0.85h-1.71zM422.92,568.34h0.85v0.85h-0.85zM424.63,568.34h3.41v0.85h-3.41zM431.45,568.34h1.71v0.85h-1.71zM437.43,568.34h5.12v0.85h-5.12zM405.85,569.19h2.56v0.85h-2.56zM410.12,569.19h4.27v0.85h-4.27zM415.24,569.19h2.56v0.85h-2.56zM418.65,569.19h2.56v0.85h-2.56zM422.92,569.19h0.85v0.85h-0.85zM425.48,569.19h0.85v0.85h-0.85zM428.04,569.19h3.41v0.85h-3.41zM432.31,569.19h0.85v0.85h-0.85zM434.01,569.19h1.71v0.85h-1.71zM436.57,569.19h2.56v0.85h-2.56zM442.55,569.19h0.85v0.85h-0.85zM405,570.05h0.85v0.85h-0.85zM406.71,570.05h1.71v0.85h-1.71zM410.97,570.05h1.71v0.85h-1.71zM414.39,570.05h0.85v0.85h-0.85zM417.8,570.05h0.85v0.85h-0.85zM420.36,570.05h0.85v0.85h-0.85zM422.07,570.05h0.85v0.85h-0.85zM423.77,570.05h0.85v0.85h-0.85zM426.33,570.05h0.85v0.85h-0.85zM432.31,570.05h1.71v0.85h-1.71zM434.87,570.05h1.71v0.85h-1.71zM438.28,570.05h1.71v0.85h-1.71zM441.69,570.05h1.71v0.85h-1.71zM405.85,570.9h2.56v0.85h-2.56zM410.12,570.9h4.27v0.85h-4.27zM416.95,570.9h0.85v0.85h-0.85zM419.51,570.9h4.27v0.85h-4.27zM424.63,570.9h0.85v0.85h-0.85zM426.33,570.9h2.56v0.85h-2.56zM429.75,570.9h0.85v0.85h-0.85zM433.16,570.9h3.41v0.85h-3.41zM437.43,570.9h0.85v0.85h-0.85zM439.99,570.9h3.41v0.85h-3.41zM405,571.75h0.85v0.85h-0.85zM409.27,571.75h0.85v0.85h-0.85zM410.97,571.75h0.85v0.85h-0.85zM413.53,571.75h0.85v0.85h-0.85zM417.8,571.75h3.41v0.85h-3.41zM422.92,571.75h0.85v0.85h-0.85zM427.19,571.75h1.71v0.85h-1.71zM431.45,571.75h3.41v0.85h-3.41zM439.13,571.75h0.85v0.85h-0.85zM441.69,571.75h1.71v0.85h-1.71zM405.85,572.61h2.56v0.85h-2.56zM409.27,572.61h3.41v0.85h-3.41zM415.24,572.61h3.41v0.85h-3.41zM419.51,572.61h1.71v0.85h-1.71zM422.92,572.61h0.85v0.85h-0.85zM425.48,572.61h0.85v0.85h-0.85zM427.19,572.61h0.85v0.85h-0.85zM428.89,572.61h0.85v0.85h-0.85zM435.72,572.61h0.85v0.85h-0.85zM437.43,572.61h0.85v0.85h-0.85zM439.13,572.61h2.56v0.85h-2.56zM442.55,572.61h0.85v0.85h-0.85zM405,573.46h2.56v0.85h-2.56zM408.41,573.46h0.85v0.85h-0.85zM410.97,573.46h4.27v0.85h-4.27zM416.09,573.46h2.56v0.85h-2.56zM420.36,573.46h0.85v0.85h-0.85zM422.07,573.46h5.97v0.85h-5.97zM428.89,573.46h3.41v0.85h-3.41zM433.16,573.46h1.71v0.85h-1.71zM436.57,573.46h0.85v0.85h-0.85zM438.28,573.46h1.71v0.85h-1.71zM440.84,573.46h0.85v0.85h-0.85zM409.27,574.31h7.68v0.85h-7.68zM417.8,574.31h1.71v0.85h-1.71zM422.07,574.31h1.71v0.85h-1.71zM424.63,574.31h1.71v0.85h-1.71zM428.89,574.31h0.85v0.85h-0.85zM430.6,574.31h2.56v0.85h-2.56zM434.01,574.31h0.85v0.85h-0.85zM435.72,574.31h5.97v0.85h-5.97zM405,575.17h0.85v0.85h-0.85zM407.56,575.17h0.85v0.85h-0.85zM409.27,575.17h0.85v0.85h-0.85zM410.97,575.17h0.85v0.85h-0.85zM412.68,575.17h1.71v0.85h-1.71zM415.24,575.17h1.71v0.85h-1.71zM420.36,575.17h5.12v0.85h-5.12zM427.19,575.17h2.56v0.85h-2.56zM430.6,575.17h1.71v0.85h-1.71zM434.01,575.17h0.85v0.85h-0.85zM435.72,575.17h1.71v0.85h-1.71zM440.84,575.17h2.56v0.85h-2.56zM406.71,576.02h1.71v0.85h-1.71zM409.27,576.02h2.56v0.85h-2.56zM412.68,576.02h0.85v0.85h-0.85zM414.39,576.02h2.56v0.85h-2.56zM417.8,576.02h0.85v0.85h-0.85zM420.36,576.02h5.97v0.85h-5.97zM427.19,576.02h0.85v0.85h-0.85zM428.89,576.02h3.41v0.85h-3.41zM433.16,576.02h8.53v0.85h-8.53zM442.55,576.02h0.85v0.85h-0.85zM413.53,576.87h1.71v0.85h-1.71zM416.09,576.87h2.56v0.85h-2.56zM419.51,576.87h0.85v0.85h-0.85zM421.21,576.87h1.71v0.85h-1.71zM425.48,576.87h2.56v0.85h-2.56zM428.89,576.87h0.85v0.85h-0.85zM430.6,576.87h3.41v0.85h-3.41zM434.87,576.87h1.71v0.85h-1.71zM439.13,576.87h0.85v0.85h-0.85zM441.69,576.87h1.71v0.85h-1.71zM405,577.73h5.97v0.85h-5.97zM413.53,577.73h0.85v0.85h-0.85zM416.09,577.73h1.71v0.85h-1.71zM418.65,577.73h0.85v0.85h-0.85zM420.36,577.73h2.56v0.85h-2.56zM423.77,577.73h0.85v0.85h-0.85zM425.48,577.73h0.85v0.85h-0.85zM428.04,577.73h0.85v0.85h-0.85zM429.75,577.73h1.71v0.85h-1.71zM434.01,577.73h2.56v0.85h-2.56zM437.43,577.73h0.85v0.85h-0.85zM439.13,577.73h1.71v0.85h-1.71zM441.69,577.73h1.71v0.85h-1.71zM405,578.58h0.85v0.85h-0.85zM410.12,578.58h0.85v0.85h-0.85zM412.68,578.58h1.71v0.85h-1.71zM416.09,578.58h4.27v0.85h-4.27zM421.21,578.58h1.71v0.85h-1.71zM425.48,578.58h2.56v0.85h-2.56zM429.75,578.58h0.85v0.85h-0.85zM431.45,578.58h5.12v0.85h-5.12zM439.13,578.58h2.56v0.85h-2.56zM405,579.43h0.85v0.85h-0.85zM406.71,579.43h2.56v0.85h-2.56zM410.12,579.43h0.85v0.85h-0.85zM411.83,579.43h0.85v0.85h-0.85zM415.24,579.43h0.85v0.85h-0.85zM416.95,579.43h0.85v0.85h-0.85zM419.51,579.43h0.85v0.85h-0.85zM421.21,579.43h8.53v0.85h-8.53zM430.6,579.43h3.41v0.85h-3.41zM435.72,579.43h4.27v0.85h-4.27zM405,580.29h0.85v0.85h-0.85zM406.71,580.29h2.56v0.85h-2.56zM410.12,580.29h0.85v0.85h-0.85zM411.83,580.29h1.71v0.85h-1.71zM414.39,580.29h0.85v0.85h-0.85zM416.95,580.29h0.85v0.85h-0.85zM419.51,580.29h0.85v0.85h-0.85zM421.21,580.29h2.56v0.85h-2.56zM424.63,580.29h4.27v0.85h-4.27zM429.75,580.29h1.71v0.85h-1.71zM432.31,580.29h4.27v0.85h-4.27zM438.28,580.29h1.71v0.85h-1.71zM440.84,580.29h1.71v0.85h-1.71zM405,581.14h0.85v0.85h-0.85zM406.71,581.14h2.56v0.85h-2.56zM410.12,581.14h0.85v0.85h-0.85zM411.83,581.14h3.41v0.85h-3.41zM417.8,581.14h1.71v0.85h-1.71zM420.36,581.14h1.71v0.85h-1.71zM422.92,581.14h1.71v0.85h-1.71zM426.33,581.14h1.71v0.85h-1.71zM428.89,581.14h5.12v0.85h-5.12zM434.87,581.14h0.85v0.85h-0.85zM441.69,581.14h0.85v0.85h-0.85zM405,581.99h0.85v0.85h-0.85zM410.12,581.99h0.85v0.85h-0.85zM413.53,581.99h3.41v0.85h-3.41zM420.36,581.99h0.85v0.85h-0.85zM422.07,581.99h0.85v0.85h-0.85zM424.63,581.99h0.85v0.85h-0.85zM427.19,581.99h1.71v0.85h-1.71zM429.75,581.99h6.83v0.85h-6.83zM437.43,581.99h1.71v0.85h-1.71zM439.99,581.99h0.85v0.85h-0.85zM441.69,581.99h1.71v0.85h-1.71zM405,582.85h5.97v0.85h-5.97zM412.68,582.85h1.71v0.85h-1.71zM416.09,582.85h0.85v0.85h-0.85zM418.65,582.85h4.27v0.85h-4.27zM423.77,582.85h3.41v0.85h-3.41zM428.04,582.85h0.85v0.85h-0.85zM429.75,582.85h0.85v0.85h-0.85zM431.45,582.85h0.85v0.85h-0.85zM433.16,582.85h4.27v0.85h-4.27zM438.28,582.85h5.12v0.85h-5.12z" fill="#111"/><rect x="404.8" y="545.1" width="6.8" height="6.8" fill="#fff"/><rect x="405.52" y="545.82" width="4.66" height="4.66" fill="none" stroke="#111" stroke-width="1.05"/><rect x="406.75" y="547.05" width="2.2" height="2.2" fill="#111"/><rect x="436.8" y="545.1" width="6.8" height="6.8" fill="#fff"/><rect x="438.22" y="545.82" width="4.66" height="4.66" fill="none" stroke="#111" stroke-width="1.05"/><rect x="439.45" y="547.05" width="2.2" height="2.2" fill="#111"/><rect x="404.8" y="577.1" width="6.8" height="6.8" fill="#fff"/><rect x="405.52" y="578.52" width="4.66" height="4.66" fill="none" stroke="#111" stroke-width="1.05"/><rect x="406.75" y="579.75" width="2.2" height="2.2" fill="#111"/>
<path d="M350.4,609.2h5.97v0.85h-5.97zM357.23,609.2h1.71v0.85h-1.71zM359.79,609.2h2.56v0.85h-2.56zM364.05,609.2h0.85v0.85h-0.85zM365.76,609.2h0.85v0.85h-0.85zM368.32,609.2h0.85v0.85h-0.85zM370.03,609.2h0.85v0.85h-0.85zM371.73,609.2h1.71v0.85h-1.71zM375.15,609.2h1.71v0.85h-1.71zM377.71,609.2h0.85v0.85h-0.85zM379.41,609.2h0.85v0.85h-0.85zM382.83,609.2h5.97v0.85h-5.97zM350.4,610.05h0.85v0.85h-0.85zM355.52,610.05h0.85v0.85h-0.85zM358.08,610.05h0.85v0.85h-0.85zM359.79,610.05h2.56v0.85h-2.56zM364.05,610.05h1.71v0.85h-1.71zM366.61,610.05h2.56v0.85h-2.56zM370.03,610.05h2.56v0.85h-2.56zM374.29,610.05h1.71v0.85h-1.71zM377.71,610.05h1.71v0.85h-1.71zM380.27,610.05h0.85v0.85h-0.85zM382.83,610.05h0.85v0.85h-0.85zM387.95,610.05h0.85v0.85h-0.85zM350.4,610.91h0.85v0.85h-0.85zM352.11,610.91h2.56v0.85h-2.56zM355.52,610.91h0.85v0.85h-0.85zM359.79,610.91h2.56v0.85h-2.56zM363.2,610.91h4.27v0.85h-4.27zM368.32,610.91h5.12v0.85h-5.12zM375.15,610.91h4.27v0.85h-4.27zM380.27,610.91h1.71v0.85h-1.71zM382.83,610.91h0.85v0.85h-0.85zM384.53,610.91h2.56v0.85h-2.56zM387.95,610.91h0.85v0.85h-0.85zM350.4,611.76h0.85v0.85h-0.85zM352.11,611.76h2.56v0.85h-2.56zM355.52,611.76h0.85v0.85h-0.85zM358.93,611.76h5.97v0.85h-5.97zM366.61,611.76h0.85v0.85h-0.85zM368.32,611.76h2.56v0.85h-2.56zM371.73,611.76h1.71v0.85h-1.71zM376,611.76h0.85v0.85h-0.85zM378.56,611.76h1.71v0.85h-1.71zM381.12,611.76h0.85v0.85h-0.85zM382.83,611.76h0.85v0.85h-0.85zM384.53,611.76h2.56v0.85h-2.56zM387.95,611.76h0.85v0.85h-0.85zM350.4,612.61h0.85v0.85h-0.85zM352.11,612.61h2.56v0.85h-2.56zM355.52,612.61h0.85v0.85h-0.85zM357.23,612.61h0.85v0.85h-0.85zM359.79,612.61h0.85v0.85h-0.85zM361.49,612.61h11.95v0.85h-11.95zM375.15,612.61h5.12v0.85h-5.12zM381.12,612.61h0.85v0.85h-0.85zM382.83,612.61h0.85v0.85h-0.85zM384.53,612.61h2.56v0.85h-2.56zM387.95,612.61h0.85v0.85h-0.85zM350.4,613.47h0.85v0.85h-0.85zM355.52,613.47h0.85v0.85h-0.85zM358.08,613.47h6.83v0.85h-6.83zM365.76,613.47h2.56v0.85h-2.56zM370.88,613.47h0.85v0.85h-0.85zM373.44,613.47h0.85v0.85h-0.85zM376,613.47h2.56v0.85h-2.56zM382.83,613.47h0.85v0.85h-0.85zM387.95,613.47h0.85v0.85h-0.85zM350.4,614.32h5.97v0.85h-5.97zM357.23,614.32h0.85v0.85h-0.85zM358.93,614.32h0.85v0.85h-0.85zM360.64,614.32h0.85v0.85h-0.85zM362.35,614.32h0.85v0.85h-0.85zM364.05,614.32h0.85v0.85h-0.85zM365.76,614.32h0.85v0.85h-0.85zM367.47,614.32h0.85v0.85h-0.85zM369.17,614.32h0.85v0.85h-0.85zM370.88,614.32h0.85v0.85h-0.85zM372.59,614.32h0.85v0.85h-0.85zM374.29,614.32h0.85v0.85h-0.85zM376,614.32h0.85v0.85h-0.85zM377.71,614.32h0.85v0.85h-0.85zM379.41,614.32h0.85v0.85h-0.85zM381.12,614.32h0.85v0.85h-0.85zM382.83,614.32h5.97v0.85h-5.97zM357.23,615.17h5.12v0.85h-5.12zM363.2,615.17h5.12v0.85h-5.12zM370.88,615.17h0.85v0.85h-0.85zM372.59,615.17h0.85v0.85h-0.85zM376.85,615.17h3.41v0.85h-3.41zM381.12,615.17h0.85v0.85h-0.85zM351.25,616.03h2.56v0.85h-2.56zM354.67,616.03h1.71v0.85h-1.71zM357.23,616.03h0.85v0.85h-0.85zM358.93,616.03h0.85v0.85h-0.85zM360.64,616.03h3.41v0.85h-3.41zM364.91,616.03h8.53v0.85h-8.53zM375.15,616.03h0.85v0.85h-0.85zM376.85,616.03h0.85v0.85h-0.85zM379.41,616.03h0.85v0.85h-0.85zM381.97,616.03h3.41v0.85h-3.41zM386.24,616.03h2.56v0.85h-2.56zM350.4,616.88h1.71v0.85h-1.71zM352.96,616.88h2.56v0.85h-2.56zM357.23,616.88h4.27v0.85h-4.27zM364.91,616.88h0.85v0.85h-0.85zM366.61,616.88h5.12v0.85h-5.12zM373.44,616.88h4.27v0.85h-4.27zM379.41,616.88h2.56v0.85h-2.56zM382.83,616.88h0.85v0.85h-0.85zM385.39,616.88h1.71v0.85h-1.71zM350.4,617.73h0.85v0.85h-0.85zM352.11,617.73h0.85v0.85h-0.85zM353.81,617.73h0.85v0.85h-0.85zM355.52,617.73h0.85v0.85h-0.85zM357.23,617.73h3.41v0.85h-3.41zM362.35,617.73h2.56v0.85h-2.56zM365.76,617.73h2.56v0.85h-2.56zM370.88,617.73h1.71v0.85h-1.71zM374.29,617.73h0.85v0.85h-0.85zM376,617.73h5.12v0.85h-5.12zM381.97,617.73h3.41v0.85h-3.41zM386.24,617.73h2.56v0.85h-2.56zM350.4,618.59h5.12v0.85h-5.12zM356.37,618.59h0.85v0.85h-0.85zM358.08,618.59h0.85v0.85h-0.85zM359.79,618.59h0.85v0.85h-0.85zM361.49,618.59h0.85v0.85h-0.85zM364.05,618.59h3.41v0.85h-3.41zM368.32,618.59h1.71v0.85h-1.71zM370.88,618.59h3.41v0.85h-3.41zM375.15,618.59h1.71v0.85h-1.71zM380.27,618.59h2.56v0.85h-2.56zM386.24,618.59h2.56v0.85h-2.56zM351.25,619.44h1.71v0.85h-1.71zM355.52,619.44h1.71v0.85h-1.71zM358.08,619.44h0.85v0.85h-0.85zM359.79,619.44h4.27v0.85h-4.27zM365.76,619.44h5.12v0.85h-5.12zM374.29,619.44h0.85v0.85h-0.85zM377.71,619.44h8.53v0.85h-8.53zM387.09,619.44h0.85v0.85h-0.85zM351.25,620.29h1.71v0.85h-1.71zM353.81,620.29h0.85v0.85h-0.85zM357.23,620.29h0.85v0.85h-0.85zM358.93,620.29h1.71v0.85h-1.71zM362.35,620.29h5.97v0.85h-5.97zM370.03,620.29h0.85v0.85h-0.85zM371.73,620.29h0.85v0.85h-0.85zM377.71,620.29h5.12v0.85h-5.12zM383.68,620.29h0.85v0.85h-0.85zM386.24,620.29h2.56v0.85h-2.56zM351.25,621.15h1.71v0.85h-1.71zM353.81,621.15h2.56v0.85h-2.56zM357.23,621.15h4.27v0.85h-4.27zM364.91,621.15h0.85v0.85h-0.85zM366.61,621.15h5.12v0.85h-5.12zM372.59,621.15h0.85v0.85h-0.85zM375.15,621.15h0.85v0.85h-0.85zM376.85,621.15h1.71v0.85h-1.71zM379.41,621.15h0.85v0.85h-0.85zM381.12,621.15h1.71v0.85h-1.71zM384.53,621.15h0.85v0.85h-0.85zM387.09,621.15h0.85v0.85h-0.85zM350.4,622h0.85v0.85h-0.85zM352.11,622h2.56v0.85h-2.56zM356.37,622h1.71v0.85h-1.71zM358.93,622h0.85v0.85h-0.85zM361.49,622h1.71v0.85h-1.71zM364.05,622h1.71v0.85h-1.71zM366.61,622h3.41v0.85h-3.41zM370.88,622h1.71v0.85h-1.71zM373.44,622h3.41v0.85h-3.41zM378.56,622h2.56v0.85h-2.56zM381.97,622h2.56v0.85h-2.56zM385.39,622h3.41v0.85h-3.41zM350.4,622.85h0.85v0.85h-0.85zM352.11,622.85h2.56v0.85h-2.56zM355.52,622.85h3.41v0.85h-3.41zM359.79,622.85h5.97v0.85h-5.97zM367.47,622.85h1.71v0.85h-1.71zM370.88,622.85h2.56v0.85h-2.56zM375.15,622.85h0.85v0.85h-0.85zM376.85,622.85h1.71v0.85h-1.71zM379.41,622.85h0.85v0.85h-0.85zM381.12,622.85h0.85v0.85h-0.85zM384.53,622.85h4.27v0.85h-4.27zM351.25,623.71h1.71v0.85h-1.71zM356.37,623.71h0.85v0.85h-0.85zM358.93,623.71h0.85v0.85h-0.85zM360.64,623.71h5.12v0.85h-5.12zM367.47,623.71h2.56v0.85h-2.56zM371.73,623.71h0.85v0.85h-0.85zM373.44,623.71h4.27v0.85h-4.27zM378.56,623.71h1.71v0.85h-1.71zM381.12,623.71h4.27v0.85h-4.27zM386.24,623.71h1.71v0.85h-1.71zM351.25,624.56h0.85v0.85h-0.85zM352.96,624.56h4.27v0.85h-4.27zM359.79,624.56h0.85v0.85h-0.85zM361.49,624.56h2.56v0.85h-2.56zM364.91,624.56h0.85v0.85h-0.85zM368.32,624.56h0.85v0.85h-0.85zM370.88,624.56h2.56v0.85h-2.56zM375.15,624.56h1.71v0.85h-1.71zM379.41,624.56h3.41v0.85h-3.41zM383.68,624.56h0.85v0.85h-0.85zM385.39,624.56h3.41v0.85h-3.41zM351.25,625.41h0.85v0.85h-0.85zM352.96,625.41h0.85v0.85h-0.85zM358.08,625.41h3.41v0.85h-3.41zM362.35,625.41h4.27v0.85h-4.27zM367.47,625.41h1.71v0.85h-1.71zM370.03,625.41h3.41v0.85h-3.41zM374.29,625.41h1.71v0.85h-1.71zM378.56,625.41h0.85v0.85h-0.85zM381.12,625.41h0.85v0.85h-0.85zM382.83,625.41h1.71v0.85h-1.71zM385.39,625.41h3.41v0.85h-3.41zM351.25,626.27h0.85v0.85h-0.85zM352.96,626.27h5.12v0.85h-5.12zM358.93,626.27h0.85v0.85h-0.85zM362.35,626.27h0.85v0.85h-0.85zM364.05,626.27h0.85v0.85h-0.85zM365.76,626.27h5.97v0.85h-5.97zM373.44,626.27h0.85v0.85h-0.85zM376,626.27h2.56v0.85h-2.56zM379.41,626.27h0.85v0.85h-0.85zM381.12,626.27h4.27v0.85h-4.27zM387.09,626.27h0.85v0.85h-0.85zM350.4,627.12h4.27v0.85h-4.27zM357.23,627.12h0.85v0.85h-0.85zM359.79,627.12h1.71v0.85h-1.71zM362.35,627.12h1.71v0.85h-1.71zM365.76,627.12h2.56v0.85h-2.56zM370.88,627.12h0.85v0.85h-0.85zM372.59,627.12h0.85v0.85h-0.85zM375.15,627.12h2.56v0.85h-2.56zM378.56,627.12h0.85v0.85h-0.85zM380.27,627.12h1.71v0.85h-1.71zM384.53,627.12h0.85v0.85h-0.85zM387.09,627.12h1.71v0.85h-1.71zM352.11,627.97h2.56v0.85h-2.56zM355.52,627.97h0.85v0.85h-0.85zM357.23,627.97h2.56v0.85h-2.56zM360.64,627.97h0.85v0.85h-0.85zM362.35,627.97h0.85v0.85h-0.85zM364.05,627.97h4.27v0.85h-4.27zM369.17,627.97h0.85v0.85h-0.85zM370.88,627.97h0.85v0.85h-0.85zM373.44,627.97h0.85v0.85h-0.85zM375.15,627.97h0.85v0.85h-0.85zM378.56,627.97h0.85v0.85h-0.85zM380.27,627.97h1.71v0.85h-1.71zM382.83,627.97h0.85v0.85h-0.85zM384.53,627.97h4.27v0.85h-4.27zM350.4,628.83h0.85v0.85h-0.85zM352.11,628.83h2.56v0.85h-2.56zM357.23,628.83h0.85v0.85h-0.85zM358.93,628.83h1.71v0.85h-1.71zM361.49,628.83h0.85v0.85h-0.85zM364.91,628.83h0.85v0.85h-0.85zM367.47,628.83h0.85v0.85h-0.85zM370.88,628.83h5.97v0.85h-5.97zM381.12,628.83h0.85v0.85h-0.85zM384.53,628.83h0.85v0.85h-0.85zM387.09,628.83h0.85v0.85h-0.85zM350.4,629.68h0.85v0.85h-0.85zM352.96,629.68h7.68v0.85h-7.68zM361.49,629.68h1.71v0.85h-1.71zM364.91,629.68h6.83v0.85h-6.83zM374.29,629.68h1.71v0.85h-1.71zM376.85,629.68h8.53v0.85h-8.53zM387.95,629.68h0.85v0.85h-0.85zM351.25,630.53h1.71v0.85h-1.71zM353.81,630.53h1.71v0.85h-1.71zM356.37,630.53h4.27v0.85h-4.27zM361.49,630.53h0.85v0.85h-0.85zM365.76,630.53h1.71v0.85h-1.71zM368.32,630.53h1.71v0.85h-1.71zM372.59,630.53h0.85v0.85h-0.85zM376,630.53h1.71v0.85h-1.71zM378.56,630.53h2.56v0.85h-2.56zM381.97,630.53h0.85v0.85h-0.85zM383.68,630.53h0.85v0.85h-0.85zM385.39,630.53h3.41v0.85h-3.41zM351.25,631.39h7.68v0.85h-7.68zM359.79,631.39h0.85v0.85h-0.85zM365.76,631.39h2.56v0.85h-2.56zM369.17,631.39h1.71v0.85h-1.71zM374.29,631.39h2.56v0.85h-2.56zM377.71,631.39h2.56v0.85h-2.56zM381.97,631.39h6.83v0.85h-6.83zM351.25,632.24h0.85v0.85h-0.85zM352.96,632.24h0.85v0.85h-0.85zM354.67,632.24h0.85v0.85h-0.85zM356.37,632.24h8.53v0.85h-8.53zM367.47,632.24h0.85v0.85h-0.85zM369.17,632.24h2.56v0.85h-2.56zM372.59,632.24h0.85v0.85h-0.85zM377.71,632.24h0.85v0.85h-0.85zM379.41,632.24h2.56v0.85h-2.56zM383.68,632.24h5.12v0.85h-5.12zM350.4,633.09h0.85v0.85h-0.85zM352.11,633.09h0.85v0.85h-0.85zM353.81,633.09h0.85v0.85h-0.85zM355.52,633.09h2.56v0.85h-2.56zM359.79,633.09h0.85v0.85h-0.85zM361.49,633.09h2.56v0.85h-2.56zM364.91,633.09h5.12v0.85h-5.12zM371.73,633.09h0.85v0.85h-0.85zM373.44,633.09h0.85v0.85h-0.85zM379.41,633.09h0.85v0.85h-0.85zM384.53,633.09h0.85v0.85h-0.85zM387.09,633.09h1.71v0.85h-1.71zM351.25,633.95h1.71v0.85h-1.71zM353.81,633.95h0.85v0.85h-0.85zM357.23,633.95h0.85v0.85h-0.85zM360.64,633.95h1.71v0.85h-1.71zM364.05,633.95h0.85v0.85h-0.85zM365.76,633.95h1.71v0.85h-1.71zM368.32,633.95h1.71v0.85h-1.71zM370.88,633.95h5.97v0.85h-5.97zM377.71,633.95h1.71v0.85h-1.71zM381.12,633.95h2.56v0.85h-2.56zM384.53,633.95h0.85v0.85h-0.85zM387.95,633.95h0.85v0.85h-0.85zM351.25,634.8h1.71v0.85h-1.71zM353.81,634.8h0.85v0.85h-0.85zM355.52,634.8h2.56v0.85h-2.56zM360.64,634.8h1.71v0.85h-1.71zM364.05,634.8h6.83v0.85h-6.83zM371.73,634.8h2.56v0.85h-2.56zM375.15,634.8h0.85v0.85h-0.85zM376.85,634.8h0.85v0.85h-0.85zM378.56,634.8h0.85v0.85h-0.85zM380.27,634.8h3.41v0.85h-3.41zM384.53,634.8h1.71v0.85h-1.71zM387.95,634.8h0.85v0.85h-0.85zM350.4,635.65h0.85v0.85h-0.85zM353.81,635.65h1.71v0.85h-1.71zM356.37,635.65h1.71v0.85h-1.71zM359.79,635.65h5.97v0.85h-5.97zM367.47,635.65h2.56v0.85h-2.56zM370.88,635.65h2.56v0.85h-2.56zM374.29,635.65h0.85v0.85h-0.85zM376,635.65h0.85v0.85h-0.85zM377.71,635.65h3.41v0.85h-3.41zM381.97,635.65h0.85v0.85h-0.85zM384.53,635.65h1.71v0.85h-1.71zM387.09,635.65h0.85v0.85h-0.85zM350.4,636.51h0.85v0.85h-0.85zM352.11,636.51h1.71v0.85h-1.71zM354.67,636.51h1.71v0.85h-1.71zM357.23,636.51h2.56v0.85h-2.56zM360.64,636.51h0.85v0.85h-0.85zM362.35,636.51h2.56v0.85h-2.56zM366.61,636.51h1.71v0.85h-1.71zM370.03,636.51h3.41v0.85h-3.41zM374.29,636.51h0.85v0.85h-0.85zM376,636.51h0.85v0.85h-0.85zM377.71,636.51h2.56v0.85h-2.56zM381.97,636.51h5.97v0.85h-5.97zM352.11,637.36h0.85v0.85h-0.85zM353.81,637.36h0.85v0.85h-0.85zM356.37,637.36h0.85v0.85h-0.85zM358.93,637.36h1.71v0.85h-1.71zM361.49,637.36h2.56v0.85h-2.56zM364.91,637.36h0.85v0.85h-0.85zM368.32,637.36h1.71v0.85h-1.71zM370.88,637.36h2.56v0.85h-2.56zM374.29,637.36h2.56v0.85h-2.56zM377.71,637.36h0.85v0.85h-0.85zM379.41,637.36h0.85v0.85h-0.85zM381.12,637.36h0.85v0.85h-0.85zM383.68,637.36h0.85v0.85h-0.85zM386.24,637.36h0.85v0.85h-0.85zM351.25,638.21h3.41v0.85h-3.41zM355.52,638.21h1.71v0.85h-1.71zM358.93,638.21h2.56v0.85h-2.56zM364.05,638.21h2.56v0.85h-2.56zM367.47,638.21h2.56v0.85h-2.56zM372.59,638.21h0.85v0.85h-0.85zM376,638.21h0.85v0.85h-0.85zM378.56,638.21h3.41v0.85h-3.41zM382.83,638.21h0.85v0.85h-0.85zM384.53,638.21h0.85v0.85h-0.85zM386.24,638.21h2.56v0.85h-2.56zM351.25,639.07h0.85v0.85h-0.85zM352.96,639.07h2.56v0.85h-2.56zM356.37,639.07h1.71v0.85h-1.71zM361.49,639.07h0.85v0.85h-0.85zM363.2,639.07h4.27v0.85h-4.27zM369.17,639.07h0.85v0.85h-0.85zM370.88,639.07h0.85v0.85h-0.85zM372.59,639.07h2.56v0.85h-2.56zM376.85,639.07h4.27v0.85h-4.27zM381.97,639.07h1.71v0.85h-1.71zM384.53,639.07h2.56v0.85h-2.56zM387.95,639.07h0.85v0.85h-0.85zM350.4,639.92h0.85v0.85h-0.85zM352.11,639.92h1.71v0.85h-1.71zM354.67,639.92h1.71v0.85h-1.71zM357.23,639.92h1.71v0.85h-1.71zM359.79,639.92h0.85v0.85h-0.85zM363.2,639.92h0.85v0.85h-0.85zM364.91,639.92h0.85v0.85h-0.85zM367.47,639.92h4.27v0.85h-4.27zM374.29,639.92h3.41v0.85h-3.41zM379.41,639.92h6.83v0.85h-6.83zM387.09,639.92h1.71v0.85h-1.71zM357.23,640.77h0.85v0.85h-0.85zM358.93,640.77h0.85v0.85h-0.85zM360.64,640.77h2.56v0.85h-2.56zM365.76,640.77h2.56v0.85h-2.56zM370.88,640.77h9.39v0.85h-9.39zM381.12,640.77h0.85v0.85h-0.85zM384.53,640.77h2.56v0.85h-2.56zM387.95,640.77h0.85v0.85h-0.85zM350.4,641.63h5.97v0.85h-5.97zM358.93,641.63h1.71v0.85h-1.71zM363.2,641.63h1.71v0.85h-1.71zM365.76,641.63h0.85v0.85h-0.85zM367.47,641.63h0.85v0.85h-0.85zM369.17,641.63h0.85v0.85h-0.85zM370.88,641.63h0.85v0.85h-0.85zM375.15,641.63h4.27v0.85h-4.27zM381.12,641.63h0.85v0.85h-0.85zM382.83,641.63h0.85v0.85h-0.85zM384.53,641.63h0.85v0.85h-0.85zM350.4,642.48h0.85v0.85h-0.85zM355.52,642.48h0.85v0.85h-0.85zM357.23,642.48h2.56v0.85h-2.56zM360.64,642.48h2.56v0.85h-2.56zM364.05,642.48h0.85v0.85h-0.85zM365.76,642.48h0.85v0.85h-0.85zM367.47,642.48h0.85v0.85h-0.85zM370.88,642.48h0.85v0.85h-0.85zM372.59,642.48h1.71v0.85h-1.71zM376,642.48h1.71v0.85h-1.71zM381.12,642.48h0.85v0.85h-0.85zM384.53,642.48h1.71v0.85h-1.71zM387.09,642.48h1.71v0.85h-1.71zM350.4,643.33h0.85v0.85h-0.85zM352.11,643.33h2.56v0.85h-2.56zM355.52,643.33h0.85v0.85h-0.85zM358.93,643.33h3.41v0.85h-3.41zM363.2,643.33h2.56v0.85h-2.56zM367.47,643.33h5.97v0.85h-5.97zM374.29,643.33h1.71v0.85h-1.71zM376.85,643.33h11.09v0.85h-11.09zM350.4,644.19h0.85v0.85h-0.85zM352.11,644.19h2.56v0.85h-2.56zM355.52,644.19h0.85v0.85h-0.85zM357.23,644.19h3.41v0.85h-3.41zM363.2,644.19h0.85v0.85h-0.85zM366.61,644.19h1.71v0.85h-1.71zM370.03,644.19h3.41v0.85h-3.41zM374.29,644.19h2.56v0.85h-2.56zM379.41,644.19h1.71v0.85h-1.71zM382.83,644.19h1.71v0.85h-1.71zM387.95,644.19h0.85v0.85h-0.85zM350.4,645.04h0.85v0.85h-0.85zM352.11,645.04h2.56v0.85h-2.56zM355.52,645.04h0.85v0.85h-0.85zM357.23,645.04h0.85v0.85h-0.85zM360.64,645.04h1.71v0.85h-1.71zM364.05,645.04h1.71v0.85h-1.71zM366.61,645.04h1.71v0.85h-1.71zM369.17,645.04h1.71v0.85h-1.71zM371.73,645.04h1.71v0.85h-1.71zM374.29,645.04h0.85v0.85h-0.85zM378.56,645.04h0.85v0.85h-0.85zM380.27,645.04h0.85v0.85h-0.85zM381.97,645.04h2.56v0.85h-2.56zM385.39,645.04h1.71v0.85h-1.71zM387.95,645.04h0.85v0.85h-0.85zM350.4,645.89h0.85v0.85h-0.85zM355.52,645.89h0.85v0.85h-0.85zM358.08,645.89h4.27v0.85h-4.27zM363.2,645.89h0.85v0.85h-0.85zM364.91,645.89h2.56v0.85h-2.56zM369.17,645.89h1.71v0.85h-1.71zM371.73,645.89h1.71v0.85h-1.71zM376,645.89h1.71v0.85h-1.71zM378.56,645.89h0.85v0.85h-0.85zM381.97,645.89h5.12v0.85h-5.12zM387.95,645.89h0.85v0.85h-0.85zM350.4,646.75h5.97v0.85h-5.97zM357.23,646.75h0.85v0.85h-0.85zM358.93,646.75h0.85v0.85h-0.85zM360.64,646.75h0.85v0.85h-0.85zM362.35,646.75h0.85v0.85h-0.85zM364.05,646.75h0.85v0.85h-0.85zM365.76,646.75h2.56v0.85h-2.56zM370.03,646.75h1.71v0.85h-1.71zM372.59,646.75h0.85v0.85h-0.85zM374.29,646.75h5.12v0.85h-5.12zM380.27,646.75h0.85v0.85h-0.85zM381.97,646.75h3.41v0.85h-3.41zM386.24,646.75h1.71v0.85h-1.71z" fill="#111"/><rect x="350.2" y="609" width="6.8" height="6.8" fill="#fff"/><rect x="350.92" y="609.72" width="4.66" height="4.66" fill="none" stroke="#111" stroke-width="1.05"/><rect x="352.15" y="610.95" width="2.2" height="2.2" fill="#111"/><rect x="382.2" y="609" width="6.8" height="6.8" fill="#fff"/><rect x="383.62" y="609.72" width="4.66" height="4.66" fill="none" stroke="#111" stroke-width="1.05"/><rect x="384.85" y="610.95" width="2.2" height="2.2" fill="#111"/><rect x="350.2" y="641" width="6.8" height="6.8" fill="#fff"/><rect x="350.92" y="642.42" width="4.66" height="4.66" fill="none" stroke="#111" stroke-width="1.05"/><rect x="352.15" y="643.65" width="2.2" height="2.2" fill="#111"/>
<path d="M405,609.2h5.97v0.85h-5.97zM411.83,609.2h1.71v0.85h-1.71zM414.39,609.2h0.85v0.85h-0.85zM418.65,609.2h1.71v0.85h-1.71zM421.21,609.2h1.71v0.85h-1.71zM425.48,609.2h2.56v0.85h-2.56zM428.89,609.2h0.85v0.85h-0.85zM430.6,609.2h2.56v0.85h-2.56zM434.01,609.2h2.56v0.85h-2.56zM437.43,609.2h5.97v0.85h-5.97zM405,610.05h0.85v0.85h-0.85zM410.12,610.05h0.85v0.85h-0.85zM413.53,610.05h4.27v0.85h-4.27zM418.65,610.05h1.71v0.85h-1.71zM424.63,610.05h0.85v0.85h-0.85zM426.33,610.05h0.85v0.85h-0.85zM428.89,610.05h0.85v0.85h-0.85zM430.6,610.05h3.41v0.85h-3.41zM434.87,610.05h1.71v0.85h-1.71zM437.43,610.05h0.85v0.85h-0.85zM442.55,610.05h0.85v0.85h-0.85zM405,610.91h0.85v0.85h-0.85zM406.71,610.91h2.56v0.85h-2.56zM410.12,610.91h0.85v0.85h-0.85zM413.53,610.91h1.71v0.85h-1.71zM416.09,610.91h1.71v0.85h-1.71zM419.51,610.91h1.71v0.85h-1.71zM423.77,610.91h1.71v0.85h-1.71zM429.75,610.91h0.85v0.85h-0.85zM431.45,610.91h1.71v0.85h-1.71zM435.72,610.91h0.85v0.85h-0.85zM437.43,610.91h0.85v0.85h-0.85zM439.13,610.91h2.56v0.85h-2.56zM442.55,610.91h0.85v0.85h-0.85zM405,611.76h0.85v0.85h-0.85zM406.71,611.76h2.56v0.85h-2.56zM410.12,611.76h0.85v0.85h-0.85zM411.83,611.76h4.27v0.85h-4.27zM416.95,611.76h1.71v0.85h-1.71zM420.36,611.76h0.85v0.85h-0.85zM422.92,611.76h1.71v0.85h-1.71zM428.04,611.76h0.85v0.85h-0.85zM429.75,611.76h2.56v0.85h-2.56zM433.16,611.76h0.85v0.85h-0.85zM437.43,611.76h0.85v0.85h-0.85zM439.13,611.76h2.56v0.85h-2.56zM442.55,611.76h0.85v0.85h-0.85zM405,612.61h0.85v0.85h-0.85zM406.71,612.61h2.56v0.85h-2.56zM410.12,612.61h0.85v0.85h-0.85zM411.83,612.61h1.71v0.85h-1.71zM414.39,612.61h2.56v0.85h-2.56zM417.8,612.61h8.53v0.85h-8.53zM427.19,612.61h0.85v0.85h-0.85zM428.89,612.61h0.85v0.85h-0.85zM430.6,612.61h0.85v0.85h-0.85zM433.16,612.61h2.56v0.85h-2.56zM437.43,612.61h0.85v0.85h-0.85zM439.13,612.61h2.56v0.85h-2.56zM442.55,612.61h0.85v0.85h-0.85zM405,613.47h0.85v0.85h-0.85zM410.12,613.47h0.85v0.85h-0.85zM411.83,613.47h0.85v0.85h-0.85zM413.53,613.47h0.85v0.85h-0.85zM416.09,613.47h0.85v0.85h-0.85zM417.8,613.47h1.71v0.85h-1.71zM420.36,613.47h0.85v0.85h-0.85zM422.07,613.47h0.85v0.85h-0.85zM425.48,613.47h0.85v0.85h-0.85zM427.19,613.47h0.85v0.85h-0.85zM429.75,613.47h3.41v0.85h-3.41zM434.01,613.47h2.56v0.85h-2.56zM437.43,613.47h0.85v0.85h-0.85zM442.55,613.47h0.85v0.85h-0.85zM405,614.32h5.97v0.85h-5.97zM411.83,614.32h0.85v0.85h-0.85zM413.53,614.32h0.85v0.85h-0.85zM415.24,614.32h0.85v0.85h-0.85zM416.95,614.32h0.85v0.85h-0.85zM418.65,614.32h0.85v0.85h-0.85zM420.36,614.32h0.85v0.85h-0.85zM422.07,614.32h0.85v0.85h-0.85zM423.77,614.32h0.85v0.85h-0.85zM425.48,614.32h0.85v0.85h-0.85zM427.19,614.32h0.85v0.85h-0.85zM428.89,614.32h0.85v0.85h-0.85zM430.6,614.32h0.85v0.85h-0.85zM432.31,614.32h0.85v0.85h-0.85zM434.01,614.32h0.85v0.85h-0.85zM435.72,614.32h0.85v0.85h-0.85zM437.43,614.32h5.97v0.85h-5.97zM411.83,615.17h0.85v0.85h-0.85zM413.53,615.17h0.85v0.85h-0.85zM416.95,615.17h2.56v0.85h-2.56zM420.36,615.17h2.56v0.85h-2.56zM425.48,615.17h0.85v0.85h-0.85zM427.19,615.17h5.97v0.85h-5.97zM434.01,615.17h0.85v0.85h-0.85zM435.72,615.17h0.85v0.85h-0.85zM405,616.03h0.85v0.85h-0.85zM406.71,616.03h5.12v0.85h-5.12zM412.68,616.03h1.71v0.85h-1.71zM416.95,616.03h0.85v0.85h-0.85zM419.51,616.03h8.53v0.85h-8.53zM429.75,616.03h3.41v0.85h-3.41zM434.01,616.03h1.71v0.85h-1.71zM436.57,616.03h4.27v0.85h-4.27zM405,616.88h0.85v0.85h-0.85zM407.56,616.88h0.85v0.85h-0.85zM409.27,616.88h0.85v0.85h-0.85zM410.97,616.88h0.85v0.85h-0.85zM412.68,616.88h1.71v0.85h-1.71zM415.24,616.88h3.41v0.85h-3.41zM421.21,616.88h0.85v0.85h-0.85zM422.92,616.88h2.56v0.85h-2.56zM428.89,616.88h0.85v0.85h-0.85zM430.6,616.88h0.85v0.85h-0.85zM432.31,616.88h1.71v0.85h-1.71zM434.87,616.88h5.12v0.85h-5.12zM440.84,616.88h1.71v0.85h-1.71zM405,617.73h1.71v0.85h-1.71zM407.56,617.73h0.85v0.85h-0.85zM409.27,617.73h9.39v0.85h-9.39zM419.51,617.73h1.71v0.85h-1.71zM422.92,617.73h1.71v0.85h-1.71zM425.48,617.73h0.85v0.85h-0.85zM427.19,617.73h0.85v0.85h-0.85zM428.89,617.73h0.85v0.85h-0.85zM430.6,617.73h0.85v0.85h-0.85zM432.31,617.73h3.41v0.85h-3.41zM437.43,617.73h2.56v0.85h-2.56zM440.84,617.73h0.85v0.85h-0.85zM405.85,618.59h0.85v0.85h-0.85zM407.56,618.59h0.85v0.85h-0.85zM409.27,618.59h0.85v0.85h-0.85zM411.83,618.59h6.83v0.85h-6.83zM420.36,618.59h0.85v0.85h-0.85zM422.92,618.59h0.85v0.85h-0.85zM424.63,618.59h1.71v0.85h-1.71zM427.19,618.59h1.71v0.85h-1.71zM429.75,618.59h1.71v0.85h-1.71zM432.31,618.59h0.85v0.85h-0.85zM434.01,618.59h0.85v0.85h-0.85zM436.57,618.59h1.71v0.85h-1.71zM441.69,618.59h1.71v0.85h-1.71zM407.56,619.44h3.41v0.85h-3.41zM411.83,619.44h2.56v0.85h-2.56zM418.65,619.44h1.71v0.85h-1.71zM422.92,619.44h0.85v0.85h-0.85zM424.63,619.44h2.56v0.85h-2.56zM429.75,619.44h4.27v0.85h-4.27zM435.72,619.44h2.56v0.85h-2.56zM439.13,619.44h0.85v0.85h-0.85zM440.84,619.44h0.85v0.85h-0.85zM405,620.29h1.71v0.85h-1.71zM407.56,620.29h2.56v0.85h-2.56zM412.68,620.29h0.85v0.85h-0.85zM415.24,620.29h2.56v0.85h-2.56zM418.65,620.29h0.85v0.85h-0.85zM420.36,620.29h2.56v0.85h-2.56zM423.77,620.29h0.85v0.85h-0.85zM425.48,620.29h2.56v0.85h-2.56zM428.89,620.29h0.85v0.85h-0.85zM430.6,620.29h3.41v0.85h-3.41zM436.57,620.29h0.85v0.85h-0.85zM438.28,620.29h0.85v0.85h-0.85zM439.99,620.29h0.85v0.85h-0.85zM442.55,620.29h0.85v0.85h-0.85zM405,621.15h1.71v0.85h-1.71zM407.56,621.15h4.27v0.85h-4.27zM413.53,621.15h0.85v0.85h-0.85zM415.24,621.15h0.85v0.85h-0.85zM416.95,621.15h0.85v0.85h-0.85zM418.65,621.15h0.85v0.85h-0.85zM420.36,621.15h1.71v0.85h-1.71zM423.77,621.15h4.27v0.85h-4.27zM428.89,621.15h1.71v0.85h-1.71zM431.45,621.15h1.71v0.85h-1.71zM434.01,621.15h5.97v0.85h-5.97zM441.69,621.15h1.71v0.85h-1.71zM408.41,622h0.85v0.85h-0.85zM410.97,622h2.56v0.85h-2.56zM415.24,622h0.85v0.85h-0.85zM416.95,622h0.85v0.85h-0.85zM418.65,622h3.41v0.85h-3.41zM423.77,622h1.71v0.85h-1.71zM426.33,622h3.41v0.85h-3.41zM431.45,622h1.71v0.85h-1.71zM434.01,622h3.41v0.85h-3.41zM440.84,622h0.85v0.85h-0.85zM405,622.85h3.41v0.85h-3.41zM410.12,622.85h0.85v0.85h-0.85zM411.83,622.85h4.27v0.85h-4.27zM417.8,622.85h1.71v0.85h-1.71zM422.07,622.85h1.71v0.85h-1.71zM424.63,622.85h2.56v0.85h-2.56zM428.04,622.85h0.85v0.85h-0.85zM430.6,622.85h1.71v0.85h-1.71zM434.87,622.85h2.56v0.85h-2.56zM438.28,622.85h0.85v0.85h-0.85zM441.69,622.85h0.85v0.85h-0.85zM407.56,623.71h2.56v0.85h-2.56zM410.97,623.71h2.56v0.85h-2.56zM416.95,623.71h6.83v0.85h-6.83zM425.48,623.71h3.41v0.85h-3.41zM429.75,623.71h1.71v0.85h-1.71zM435.72,623.71h0.85v0.85h-0.85zM439.13,623.71h0.85v0.85h-0.85zM441.69,623.71h0.85v0.85h-0.85zM405,624.56h0.85v0.85h-0.85zM409.27,624.56h3.41v0.85h-3.41zM415.24,624.56h2.56v0.85h-2.56zM418.65,624.56h1.71v0.85h-1.71zM423.77,624.56h2.56v0.85h-2.56zM427.19,624.56h1.71v0.85h-1.71zM431.45,624.56h4.27v0.85h-4.27zM437.43,624.56h1.71v0.85h-1.71zM439.99,624.56h0.85v0.85h-0.85zM441.69,624.56h1.71v0.85h-1.71zM405.85,625.41h4.27v0.85h-4.27zM410.97,625.41h1.71v0.85h-1.71zM413.53,625.41h4.27v0.85h-4.27zM418.65,625.41h2.56v0.85h-2.56zM424.63,625.41h0.85v0.85h-0.85zM426.33,625.41h0.85v0.85h-0.85zM428.04,625.41h0.85v0.85h-0.85zM429.75,625.41h0.85v0.85h-0.85zM434.01,625.41h2.56v0.85h-2.56zM437.43,625.41h3.41v0.85h-3.41zM405,626.27h1.71v0.85h-1.71zM407.56,626.27h5.12v0.85h-5.12zM413.53,626.27h4.27v0.85h-4.27zM419.51,626.27h8.53v0.85h-8.53zM429.75,626.27h2.56v0.85h-2.56zM434.01,626.27h9.39v0.85h-9.39zM405,627.12h4.27v0.85h-4.27zM411.83,627.12h2.56v0.85h-2.56zM415.24,627.12h1.71v0.85h-1.71zM417.8,627.12h3.41v0.85h-3.41zM422.07,627.12h0.85v0.85h-0.85zM425.48,627.12h5.12v0.85h-5.12zM432.31,627.12h0.85v0.85h-0.85zM434.87,627.12h1.71v0.85h-1.71zM439.13,627.12h0.85v0.85h-0.85zM440.84,627.12h2.56v0.85h-2.56zM405.85,627.97h3.41v0.85h-3.41zM410.12,627.97h0.85v0.85h-0.85zM411.83,627.97h0.85v0.85h-0.85zM413.53,627.97h2.56v0.85h-2.56zM416.95,627.97h0.85v0.85h-0.85zM418.65,627.97h4.27v0.85h-4.27zM423.77,627.97h0.85v0.85h-0.85zM425.48,627.97h2.56v0.85h-2.56zM428.89,627.97h0.85v0.85h-0.85zM430.6,627.97h5.97v0.85h-5.97zM437.43,627.97h0.85v0.85h-0.85zM439.13,627.97h0.85v0.85h-0.85zM441.69,627.97h1.71v0.85h-1.71zM406.71,628.83h2.56v0.85h-2.56zM411.83,628.83h0.85v0.85h-0.85zM414.39,628.83h0.85v0.85h-0.85zM416.09,628.83h0.85v0.85h-0.85zM418.65,628.83h1.71v0.85h-1.71zM422.07,628.83h0.85v0.85h-0.85zM425.48,628.83h3.41v0.85h-3.41zM429.75,628.83h2.56v0.85h-2.56zM433.16,628.83h0.85v0.85h-0.85zM434.87,628.83h1.71v0.85h-1.71zM439.13,628.83h0.85v0.85h-0.85zM405,629.68h7.68v0.85h-7.68zM413.53,629.68h3.41v0.85h-3.41zM418.65,629.68h0.85v0.85h-0.85zM420.36,629.68h0.85v0.85h-0.85zM422.07,629.68h5.97v0.85h-5.97zM430.6,629.68h2.56v0.85h-2.56zM434.01,629.68h0.85v0.85h-0.85zM435.72,629.68h4.27v0.85h-4.27zM440.84,629.68h0.85v0.85h-0.85zM405,630.53h3.41v0.85h-3.41zM409.27,630.53h0.85v0.85h-0.85zM410.97,630.53h2.56v0.85h-2.56zM416.09,630.53h0.85v0.85h-0.85zM417.8,630.53h1.71v0.85h-1.71zM420.36,630.53h1.71v0.85h-1.71zM424.63,630.53h1.71v0.85h-1.71zM428.04,630.53h3.41v0.85h-3.41zM432.31,630.53h0.85v0.85h-0.85zM434.87,630.53h8.53v0.85h-8.53zM405,631.39h3.41v0.85h-3.41zM409.27,631.39h5.12v0.85h-5.12zM415.24,631.39h6.83v0.85h-6.83zM423.77,631.39h0.85v0.85h-0.85zM425.48,631.39h3.41v0.85h-3.41zM429.75,631.39h0.85v0.85h-0.85zM431.45,631.39h0.85v0.85h-0.85zM434.01,631.39h1.71v0.85h-1.71zM438.28,631.39h1.71v0.85h-1.71zM440.84,631.39h2.56v0.85h-2.56zM405.85,632.24h0.85v0.85h-0.85zM408.41,632.24h1.71v0.85h-1.71zM412.68,632.24h0.85v0.85h-0.85zM415.24,632.24h0.85v0.85h-0.85zM416.95,632.24h0.85v0.85h-0.85zM418.65,632.24h2.56v0.85h-2.56zM423.77,632.24h0.85v0.85h-0.85zM425.48,632.24h4.27v0.85h-4.27zM432.31,632.24h1.71v0.85h-1.71zM434.87,632.24h2.56v0.85h-2.56zM438.28,632.24h5.12v0.85h-5.12zM405,633.09h0.85v0.85h-0.85zM406.71,633.09h1.71v0.85h-1.71zM409.27,633.09h6.83v0.85h-6.83zM417.8,633.09h0.85v0.85h-0.85zM420.36,633.09h0.85v0.85h-0.85zM422.07,633.09h2.56v0.85h-2.56zM427.19,633.09h2.56v0.85h-2.56zM431.45,633.09h0.85v0.85h-0.85zM433.16,633.09h0.85v0.85h-0.85zM434.87,633.09h2.56v0.85h-2.56zM439.13,633.09h2.56v0.85h-2.56zM442.55,633.09h0.85v0.85h-0.85zM405,633.95h0.85v0.85h-0.85zM408.41,633.95h0.85v0.85h-0.85zM410.97,633.95h0.85v0.85h-0.85zM414.39,633.95h0.85v0.85h-0.85zM416.95,633.95h1.71v0.85h-1.71zM420.36,633.95h1.71v0.85h-1.71zM422.92,633.95h0.85v0.85h-0.85zM426.33,633.95h3.41v0.85h-3.41zM432.31,633.95h0.85v0.85h-0.85zM434.01,633.95h0.85v0.85h-0.85zM435.72,633.95h1.71v0.85h-1.71zM439.13,633.95h3.41v0.85h-3.41zM406.71,634.8h1.71v0.85h-1.71zM410.12,634.8h0.85v0.85h-0.85zM411.83,634.8h5.12v0.85h-5.12zM418.65,634.8h4.27v0.85h-4.27zM426.33,634.8h2.56v0.85h-2.56zM429.75,634.8h2.56v0.85h-2.56zM434.87,634.8h1.71v0.85h-1.71zM437.43,634.8h5.97v0.85h-5.97zM405.85,635.65h2.56v0.85h-2.56zM409.27,635.65h0.85v0.85h-0.85zM410.97,635.65h3.41v0.85h-3.41zM416.09,635.65h3.41v0.85h-3.41zM420.36,635.65h0.85v0.85h-0.85zM422.07,635.65h3.41v0.85h-3.41zM428.04,635.65h0.85v0.85h-0.85zM429.75,635.65h0.85v0.85h-0.85zM431.45,635.65h4.27v0.85h-4.27zM437.43,635.65h0.85v0.85h-0.85zM439.13,635.65h0.85v0.85h-0.85zM440.84,635.65h2.56v0.85h-2.56zM405.85,636.51h2.56v0.85h-2.56zM409.27,636.51h3.41v0.85h-3.41zM413.53,636.51h2.56v0.85h-2.56zM416.95,636.51h0.85v0.85h-0.85zM418.65,636.51h0.85v0.85h-0.85zM421.21,636.51h0.85v0.85h-0.85zM422.92,636.51h0.85v0.85h-0.85zM424.63,636.51h1.71v0.85h-1.71zM427.19,636.51h1.71v0.85h-1.71zM429.75,636.51h0.85v0.85h-0.85zM434.01,636.51h2.56v0.85h-2.56zM438.28,636.51h2.56v0.85h-2.56zM441.69,636.51h1.71v0.85h-1.71zM411.83,637.36h0.85v0.85h-0.85zM414.39,637.36h1.71v0.85h-1.71zM416.95,637.36h1.71v0.85h-1.71zM419.51,637.36h0.85v0.85h-0.85zM421.21,637.36h2.56v0.85h-2.56zM424.63,637.36h2.56v0.85h-2.56zM428.04,637.36h5.12v0.85h-5.12zM434.01,637.36h3.41v0.85h-3.41zM438.28,637.36h0.85v0.85h-0.85zM439.99,637.36h3.41v0.85h-3.41zM405.85,638.21h0.85v0.85h-0.85zM407.56,638.21h1.71v0.85h-1.71zM410.12,638.21h1.71v0.85h-1.71zM413.53,638.21h2.56v0.85h-2.56zM416.95,638.21h0.85v0.85h-0.85zM419.51,638.21h1.71v0.85h-1.71zM422.07,638.21h5.97v0.85h-5.97zM428.89,638.21h3.41v0.85h-3.41zM434.01,638.21h5.12v0.85h-5.12zM440.84,638.21h0.85v0.85h-0.85zM442.55,638.21h0.85v0.85h-0.85zM405,639.07h1.71v0.85h-1.71zM407.56,639.07h0.85v0.85h-0.85zM411.83,639.07h0.85v0.85h-0.85zM413.53,639.07h0.85v0.85h-0.85zM415.24,639.07h1.71v0.85h-1.71zM418.65,639.07h0.85v0.85h-0.85zM422.07,639.07h0.85v0.85h-0.85zM424.63,639.07h1.71v0.85h-1.71zM427.19,639.07h2.56v0.85h-2.56zM431.45,639.07h1.71v0.85h-1.71zM434.01,639.07h0.85v0.85h-0.85zM435.72,639.07h2.56v0.85h-2.56zM439.99,639.07h0.85v0.85h-0.85zM441.69,639.07h1.71v0.85h-1.71zM405,639.92h0.85v0.85h-0.85zM408.41,639.92h0.85v0.85h-0.85zM410.12,639.92h9.39v0.85h-9.39zM422.07,639.92h5.12v0.85h-5.12zM428.04,639.92h3.41v0.85h-3.41zM433.16,639.92h9.39v0.85h-9.39zM411.83,640.77h0.85v0.85h-0.85zM413.53,640.77h2.56v0.85h-2.56zM416.95,640.77h5.97v0.85h-5.97zM425.48,640.77h0.85v0.85h-0.85zM428.04,640.77h1.71v0.85h-1.71zM430.6,640.77h1.71v0.85h-1.71zM434.01,640.77h2.56v0.85h-2.56zM439.13,640.77h1.71v0.85h-1.71zM442.55,640.77h0.85v0.85h-0.85zM405,641.63h5.97v0.85h-5.97zM411.83,641.63h3.41v0.85h-3.41zM416.09,641.63h4.27v0.85h-4.27zM421.21,641.63h1.71v0.85h-1.71zM423.77,641.63h0.85v0.85h-0.85zM425.48,641.63h0.85v0.85h-0.85zM427.19,641.63h3.41v0.85h-3.41zM431.45,641.63h1.71v0.85h-1.71zM434.01,641.63h0.85v0.85h-0.85zM435.72,641.63h0.85v0.85h-0.85zM437.43,641.63h0.85v0.85h-0.85zM439.13,641.63h1.71v0.85h-1.71zM441.69,641.63h0.85v0.85h-0.85zM405,642.48h0.85v0.85h-0.85zM410.12,642.48h0.85v0.85h-0.85zM412.68,642.48h5.97v0.85h-5.97zM419.51,642.48h1.71v0.85h-1.71zM422.07,642.48h0.85v0.85h-0.85zM425.48,642.48h1.71v0.85h-1.71zM428.89,642.48h0.85v0.85h-0.85zM432.31,642.48h0.85v0.85h-0.85zM434.87,642.48h1.71v0.85h-1.71zM439.13,642.48h1.71v0.85h-1.71zM441.69,642.48h1.71v0.85h-1.71zM405,643.33h0.85v0.85h-0.85zM406.71,643.33h2.56v0.85h-2.56zM410.12,643.33h0.85v0.85h-0.85zM411.83,643.33h2.56v0.85h-2.56zM415.24,643.33h0.85v0.85h-0.85zM419.51,643.33h0.85v0.85h-0.85zM421.21,643.33h6.83v0.85h-6.83zM430.6,643.33h1.71v0.85h-1.71zM433.16,643.33h0.85v0.85h-0.85zM435.72,643.33h7.68v0.85h-7.68zM405,644.19h0.85v0.85h-0.85zM406.71,644.19h2.56v0.85h-2.56zM410.12,644.19h0.85v0.85h-0.85zM411.83,644.19h1.71v0.85h-1.71zM415.24,644.19h0.85v0.85h-0.85zM416.95,644.19h2.56v0.85h-2.56zM422.07,644.19h0.85v0.85h-0.85zM423.77,644.19h1.71v0.85h-1.71zM426.33,644.19h5.12v0.85h-5.12zM432.31,644.19h0.85v0.85h-0.85zM435.72,644.19h3.41v0.85h-3.41zM439.99,644.19h1.71v0.85h-1.71zM442.55,644.19h0.85v0.85h-0.85zM405,645.04h0.85v0.85h-0.85zM406.71,645.04h2.56v0.85h-2.56zM410.12,645.04h0.85v0.85h-0.85zM411.83,645.04h0.85v0.85h-0.85zM413.53,645.04h0.85v0.85h-0.85zM416.09,645.04h0.85v0.85h-0.85zM418.65,645.04h5.97v0.85h-5.97zM425.48,645.04h3.41v0.85h-3.41zM430.6,645.04h2.56v0.85h-2.56zM434.87,645.04h2.56v0.85h-2.56zM439.99,645.04h3.41v0.85h-3.41zM405,645.89h0.85v0.85h-0.85zM410.12,645.89h0.85v0.85h-0.85zM411.83,645.89h0.85v0.85h-0.85zM413.53,645.89h2.56v0.85h-2.56zM416.95,645.89h4.27v0.85h-4.27zM422.07,645.89h3.41v0.85h-3.41zM426.33,645.89h3.41v0.85h-3.41zM431.45,645.89h1.71v0.85h-1.71zM434.87,645.89h1.71v0.85h-1.71zM437.43,645.89h0.85v0.85h-0.85zM441.69,645.89h1.71v0.85h-1.71zM405,646.75h5.97v0.85h-5.97zM414.39,646.75h3.41v0.85h-3.41zM421.21,646.75h3.41v0.85h-3.41zM427.19,646.75h0.85v0.85h-0.85zM428.89,646.75h2.56v0.85h-2.56zM432.31,646.75h1.71v0.85h-1.71zM434.87,646.75h4.27v0.85h-4.27zM440.84,646.75h2.56v0.85h-2.56z" fill="#111"/><rect x="404.8" y="609" width="6.8" height="6.8" fill="#fff"/><rect x="405.52" y="609.72" width="4.66" height="4.66" fill="none" stroke="#111" stroke-width="1.05"/><rect x="406.75" y="610.95" width="2.2" height="2.2" fill="#111"/><rect x="436.8" y="609" width="6.8" height="6.8" fill="#fff"/><rect x="438.22" y="609.72" width="4.66" height="4.66" fill="none" stroke="#111" stroke-width="1.05"/><rect x="439.45" y="610.95" width="2.2" height="2.2" fill="#111"/><rect x="404.8" y="641" width="6.8" height="6.8" fill="#fff"/><rect x="405.52" y="642.42" width="4.66" height="4.66" fill="none" stroke="#111" stroke-width="1.05"/><rect x="406.75" y="643.65" width="2.2" height="2.2" fill="#111"/></g>
<use href="#bottom" transform="translate(484.5,0)"/>
</svg>
</body></html>
